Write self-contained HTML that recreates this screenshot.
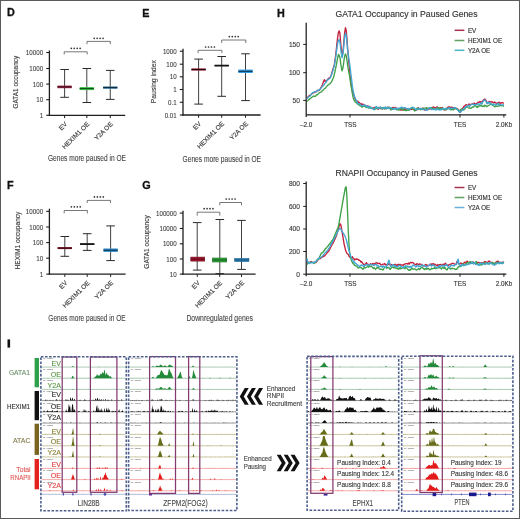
<!DOCTYPE html>
<html><head><meta charset="utf-8"><style>
html,body{margin:0;padding:0;background:#fff;}
body{width:520px;height:519px;overflow:hidden;}
svg{display:block;font-family:"Liberation Sans",sans-serif;filter:blur(0.3px);}
</style></head><body>
<svg width="520" height="519" viewBox="0 0 520 519">
<rect x="0" y="0" width="520" height="519" fill="#fff"/>
<text x="7.00" y="16.30" font-size="10.8" fill="#111" font-weight="bold" stroke="#111" stroke-width="0.3">D</text>
<text x="142.20" y="16.50" font-size="10.8" fill="#111" font-weight="bold" stroke="#111" stroke-width="0.3">E</text>
<text x="276.90" y="16.50" font-size="10.8" fill="#111" font-weight="bold" stroke="#111" stroke-width="0.3">H</text>
<text x="7.00" y="188.60" font-size="10.8" fill="#111" font-weight="bold" stroke="#111" stroke-width="0.3">F</text>
<text x="142.20" y="188.60" font-size="10.8" fill="#111" font-weight="bold" stroke="#111" stroke-width="0.3">G</text>
<rect x="7.50" y="339.40" width="2.60" height="8.20" fill="#111" />
<line x1="49.40" y1="50.50" x2="49.40" y2="115.90" stroke="#1e1e1e" stroke-width="1.3" />
<line x1="48.80" y1="115.30" x2="125.20" y2="115.30" stroke="#1e1e1e" stroke-width="1.3" />
<line x1="46.20" y1="52.50" x2="49.40" y2="52.50" stroke="#1e1e1e" stroke-width="1.1" />
<text x="43.10" y="55.00" font-size="6.6" fill="#3a3a3a" text-anchor="end" textLength="17.24" lengthAdjust="spacingAndGlyphs" stroke="#3a3a3a" stroke-width="0.08">10000</text>
<line x1="46.20" y1="68.50" x2="49.40" y2="68.50" stroke="#1e1e1e" stroke-width="1.1" />
<text x="43.10" y="71.00" font-size="6.6" fill="#3a3a3a" text-anchor="end" textLength="13.79" lengthAdjust="spacingAndGlyphs" stroke="#3a3a3a" stroke-width="0.08">1000</text>
<line x1="46.20" y1="84.10" x2="49.40" y2="84.10" stroke="#1e1e1e" stroke-width="1.1" />
<text x="43.10" y="86.60" font-size="6.6" fill="#3a3a3a" text-anchor="end" textLength="10.34" lengthAdjust="spacingAndGlyphs" stroke="#3a3a3a" stroke-width="0.08">100</text>
<line x1="46.20" y1="99.70" x2="49.40" y2="99.70" stroke="#1e1e1e" stroke-width="1.1" />
<text x="43.10" y="102.20" font-size="6.6" fill="#3a3a3a" text-anchor="end" textLength="6.89" lengthAdjust="spacingAndGlyphs" stroke="#3a3a3a" stroke-width="0.08">10</text>
<line x1="46.20" y1="115.30" x2="49.40" y2="115.30" stroke="#1e1e1e" stroke-width="1.1" />
<text x="43.10" y="117.80" font-size="6.6" fill="#3a3a3a" text-anchor="end" textLength="3.45" lengthAdjust="spacingAndGlyphs" stroke="#3a3a3a" stroke-width="0.08">1</text>
<line x1="64.60" y1="115.30" x2="64.60" y2="118.10" stroke="#1e1e1e" stroke-width="1" />
<line x1="86.80" y1="115.30" x2="86.80" y2="118.10" stroke="#1e1e1e" stroke-width="1" />
<line x1="110.25" y1="115.30" x2="110.25" y2="118.10" stroke="#1e1e1e" stroke-width="1" />
<text x="18.20" y="82.20" font-size="7.5" fill="#404040" text-anchor="middle" textLength="52.8" lengthAdjust="spacingAndGlyphs" transform="rotate(-90 18.20 82.20)"  stroke="#404040" stroke-width="0.14">GATA1 occupancy</text>
<line x1="64.60" y1="69.50" x2="64.60" y2="97.30" stroke="#2b2b2b" stroke-width="0.9" />
<line x1="60.30" y1="69.50" x2="68.90" y2="69.50" stroke="#2b2b2b" stroke-width="1.0" />
<line x1="60.30" y1="97.30" x2="68.90" y2="97.30" stroke="#2b2b2b" stroke-width="1.0" />
<rect x="57.45" y="85.60" width="14.30" height="2.60" fill="#9a2a48" />
<line x1="57.45" y1="86.90" x2="71.75" y2="86.90" stroke="#3a0a15" stroke-width="1.0" />
<line x1="86.80" y1="68.50" x2="86.80" y2="102.50" stroke="#2b2b2b" stroke-width="0.9" />
<line x1="82.50" y1="68.50" x2="91.10" y2="68.50" stroke="#2b2b2b" stroke-width="1.0" />
<line x1="82.50" y1="102.50" x2="91.10" y2="102.50" stroke="#2b2b2b" stroke-width="1.0" />
<rect x="79.65" y="87.10" width="14.30" height="3.00" fill="#3cbc4a" />
<line x1="79.65" y1="88.60" x2="93.95" y2="88.60" stroke="#0d4a12" stroke-width="1.0" />
<line x1="110.25" y1="70.40" x2="110.25" y2="99.40" stroke="#2b2b2b" stroke-width="0.9" />
<line x1="105.95" y1="70.40" x2="114.55" y2="70.40" stroke="#2b2b2b" stroke-width="1.0" />
<line x1="105.95" y1="99.40" x2="114.55" y2="99.40" stroke="#2b2b2b" stroke-width="1.0" />
<rect x="103.10" y="86.40" width="14.30" height="2.40" fill="#3b7fa6" />
<line x1="103.10" y1="87.60" x2="117.40" y2="87.60" stroke="#0c2533" stroke-width="1.0" />
<polyline points="64.20,54.40 64.20,51.80 87.20,51.80 87.20,54.40" fill="none" stroke="#555" stroke-width="0.8"/>
<circle cx="71.28" cy="48.30" r="0.85" fill="#333"/>
<circle cx="74.23" cy="48.30" r="0.85" fill="#333"/>
<circle cx="77.17" cy="48.30" r="0.85" fill="#333"/>
<circle cx="80.12" cy="48.30" r="0.85" fill="#333"/>
<polyline points="87.00,44.20 87.00,41.40 110.30,41.40 110.30,44.20" fill="none" stroke="#555" stroke-width="0.8"/>
<circle cx="94.23" cy="38.30" r="0.85" fill="#333"/>
<circle cx="97.18" cy="38.30" r="0.85" fill="#333"/>
<circle cx="100.12" cy="38.30" r="0.85" fill="#333"/>
<circle cx="103.08" cy="38.30" r="0.85" fill="#333"/>
<text x="67.60" y="124.50" font-size="6.5" fill="#3a3a3a" text-anchor="end" transform="rotate(-45 67.60 124.50)"  stroke="#3a3a3a" stroke-width="0.14">EV</text>
<text x="89.80" y="124.50" font-size="6.5" fill="#3a3a3a" text-anchor="end" transform="rotate(-45 89.80 124.50)"  stroke="#3a3a3a" stroke-width="0.14">HEXIM1 OE</text>
<text x="113.25" y="124.50" font-size="6.5" fill="#3a3a3a" text-anchor="end" transform="rotate(-45 113.25 124.50)"  stroke="#3a3a3a" stroke-width="0.14">Y2A OE</text>
<text x="48.00" y="161.30" font-size="9.2" fill="#454545" textLength="78.0" lengthAdjust="spacingAndGlyphs" stroke="#454545" stroke-width="0.12">Genes more paused in OE</text>
<line x1="183.00" y1="48.70" x2="183.00" y2="115.60" stroke="#1e1e1e" stroke-width="1.3" />
<line x1="182.40" y1="115.00" x2="260.60" y2="115.00" stroke="#1e1e1e" stroke-width="1.3" />
<line x1="179.80" y1="51.20" x2="183.00" y2="51.20" stroke="#1e1e1e" stroke-width="1.1" />
<text x="176.70" y="53.70" font-size="6.6" fill="#3a3a3a" text-anchor="end" textLength="13.79" lengthAdjust="spacingAndGlyphs" stroke="#3a3a3a" stroke-width="0.08">1000</text>
<line x1="179.80" y1="64.20" x2="183.00" y2="64.20" stroke="#1e1e1e" stroke-width="1.1" />
<text x="176.70" y="66.70" font-size="6.6" fill="#3a3a3a" text-anchor="end" textLength="10.34" lengthAdjust="spacingAndGlyphs" stroke="#3a3a3a" stroke-width="0.08">100</text>
<line x1="179.80" y1="76.80" x2="183.00" y2="76.80" stroke="#1e1e1e" stroke-width="1.1" />
<text x="176.70" y="79.30" font-size="6.6" fill="#3a3a3a" text-anchor="end" textLength="6.89" lengthAdjust="spacingAndGlyphs" stroke="#3a3a3a" stroke-width="0.08">10</text>
<line x1="179.80" y1="89.50" x2="183.00" y2="89.50" stroke="#1e1e1e" stroke-width="1.1" />
<text x="176.70" y="92.00" font-size="6.6" fill="#3a3a3a" text-anchor="end" textLength="3.45" lengthAdjust="spacingAndGlyphs" stroke="#3a3a3a" stroke-width="0.08">1</text>
<line x1="179.80" y1="102.30" x2="183.00" y2="102.30" stroke="#1e1e1e" stroke-width="1.1" />
<text x="176.70" y="104.80" font-size="6.6" fill="#3a3a3a" text-anchor="end" textLength="8.62" lengthAdjust="spacingAndGlyphs" stroke="#3a3a3a" stroke-width="0.08">0.1</text>
<line x1="179.80" y1="115.00" x2="183.00" y2="115.00" stroke="#1e1e1e" stroke-width="1.1" />
<text x="176.70" y="117.50" font-size="6.6" fill="#3a3a3a" text-anchor="end" textLength="12.07" lengthAdjust="spacingAndGlyphs" stroke="#3a3a3a" stroke-width="0.08">0.01</text>
<line x1="198.60" y1="115.00" x2="198.60" y2="117.80" stroke="#1e1e1e" stroke-width="1" />
<line x1="221.70" y1="115.00" x2="221.70" y2="117.80" stroke="#1e1e1e" stroke-width="1" />
<line x1="245.50" y1="115.00" x2="245.50" y2="117.80" stroke="#1e1e1e" stroke-width="1" />
<text x="155.80" y="81.70" font-size="7.5" fill="#404040" text-anchor="middle" textLength="43.3" lengthAdjust="spacingAndGlyphs" transform="rotate(-90 155.80 81.70)"  stroke="#404040" stroke-width="0.14">Pausing index</text>
<line x1="198.60" y1="59.10" x2="198.60" y2="104.10" stroke="#2b2b2b" stroke-width="0.9" />
<line x1="194.30" y1="59.10" x2="202.90" y2="59.10" stroke="#2b2b2b" stroke-width="1.0" />
<line x1="194.30" y1="104.10" x2="202.90" y2="104.10" stroke="#2b2b2b" stroke-width="1.0" />
<rect x="191.45" y="68.40" width="14.30" height="2.20" fill="#8a1a30" />
<line x1="191.45" y1="69.50" x2="205.75" y2="69.50" stroke="#2a0508" stroke-width="1.0" />
<line x1="221.70" y1="56.50" x2="221.70" y2="96.30" stroke="#2b2b2b" stroke-width="0.9" />
<line x1="217.40" y1="56.50" x2="226.00" y2="56.50" stroke="#2b2b2b" stroke-width="1.0" />
<line x1="217.40" y1="96.30" x2="226.00" y2="96.30" stroke="#2b2b2b" stroke-width="1.0" />
<rect x="214.55" y="64.70" width="14.30" height="1.80" fill="#222" />
<line x1="214.55" y1="65.60" x2="228.85" y2="65.60" stroke="#111" stroke-width="1.0" />
<line x1="245.50" y1="53.80" x2="245.50" y2="100.60" stroke="#2b2b2b" stroke-width="0.9" />
<line x1="241.20" y1="53.80" x2="249.80" y2="53.80" stroke="#2b2b2b" stroke-width="1.0" />
<line x1="241.20" y1="100.60" x2="249.80" y2="100.60" stroke="#2b2b2b" stroke-width="1.0" />
<rect x="238.35" y="69.60" width="14.30" height="3.40" fill="#2f9ae0" />
<line x1="238.35" y1="71.30" x2="252.65" y2="71.30" stroke="#0e2c44" stroke-width="1.0" />
<polyline points="198.10,53.00 198.10,50.30 221.90,50.30 221.90,53.00" fill="none" stroke="#555" stroke-width="0.8"/>
<circle cx="205.57" cy="47.00" r="0.85" fill="#333"/>
<circle cx="208.53" cy="47.00" r="0.85" fill="#333"/>
<circle cx="211.47" cy="47.00" r="0.85" fill="#333"/>
<circle cx="214.43" cy="47.00" r="0.85" fill="#333"/>
<polyline points="221.70,43.00 221.70,40.00 245.80,40.00 245.80,43.00" fill="none" stroke="#555" stroke-width="0.8"/>
<circle cx="229.32" cy="36.60" r="0.85" fill="#333"/>
<circle cx="232.28" cy="36.60" r="0.85" fill="#333"/>
<circle cx="235.22" cy="36.60" r="0.85" fill="#333"/>
<circle cx="238.18" cy="36.60" r="0.85" fill="#333"/>
<text x="201.60" y="124.20" font-size="6.5" fill="#3a3a3a" text-anchor="end" transform="rotate(-45 201.60 124.20)"  stroke="#3a3a3a" stroke-width="0.14">EV</text>
<text x="224.70" y="124.20" font-size="6.5" fill="#3a3a3a" text-anchor="end" transform="rotate(-45 224.70 124.20)"  stroke="#3a3a3a" stroke-width="0.14">HEXIM1 OE</text>
<text x="248.50" y="124.20" font-size="6.5" fill="#3a3a3a" text-anchor="end" transform="rotate(-45 248.50 124.20)"  stroke="#3a3a3a" stroke-width="0.14">Y2A OE</text>
<text x="182.60" y="161.60" font-size="9.2" fill="#454545" textLength="78.4" lengthAdjust="spacingAndGlyphs" stroke="#454545" stroke-width="0.12">Genes more paused in OE</text>
<line x1="49.40" y1="208.70" x2="49.40" y2="274.70" stroke="#1e1e1e" stroke-width="1.3" />
<line x1="48.80" y1="274.10" x2="125.60" y2="274.10" stroke="#1e1e1e" stroke-width="1.3" />
<line x1="46.20" y1="211.30" x2="49.40" y2="211.30" stroke="#1e1e1e" stroke-width="1.1" />
<text x="43.10" y="213.80" font-size="6.6" fill="#3a3a3a" text-anchor="end" textLength="17.24" lengthAdjust="spacingAndGlyphs" stroke="#3a3a3a" stroke-width="0.08">10000</text>
<line x1="46.20" y1="227.00" x2="49.40" y2="227.00" stroke="#1e1e1e" stroke-width="1.1" />
<text x="43.10" y="229.50" font-size="6.6" fill="#3a3a3a" text-anchor="end" textLength="13.79" lengthAdjust="spacingAndGlyphs" stroke="#3a3a3a" stroke-width="0.08">1000</text>
<line x1="46.20" y1="242.60" x2="49.40" y2="242.60" stroke="#1e1e1e" stroke-width="1.1" />
<text x="43.10" y="245.10" font-size="6.6" fill="#3a3a3a" text-anchor="end" textLength="10.34" lengthAdjust="spacingAndGlyphs" stroke="#3a3a3a" stroke-width="0.08">100</text>
<line x1="46.20" y1="258.20" x2="49.40" y2="258.20" stroke="#1e1e1e" stroke-width="1.1" />
<text x="43.10" y="260.70" font-size="6.6" fill="#3a3a3a" text-anchor="end" textLength="6.89" lengthAdjust="spacingAndGlyphs" stroke="#3a3a3a" stroke-width="0.08">10</text>
<line x1="46.20" y1="274.10" x2="49.40" y2="274.10" stroke="#1e1e1e" stroke-width="1.1" />
<text x="43.10" y="276.60" font-size="6.6" fill="#3a3a3a" text-anchor="end" textLength="3.45" lengthAdjust="spacingAndGlyphs" stroke="#3a3a3a" stroke-width="0.08">1</text>
<line x1="64.80" y1="274.10" x2="64.80" y2="276.90" stroke="#1e1e1e" stroke-width="1" />
<line x1="87.20" y1="274.10" x2="87.20" y2="276.90" stroke="#1e1e1e" stroke-width="1" />
<line x1="110.60" y1="274.10" x2="110.60" y2="276.90" stroke="#1e1e1e" stroke-width="1" />
<text x="19.50" y="240.50" font-size="7.5" fill="#404040" text-anchor="middle" textLength="57.8" lengthAdjust="spacingAndGlyphs" transform="rotate(-90 19.50 240.50)"  stroke="#404040" stroke-width="0.14">HEXIM1 occupancy</text>
<line x1="64.80" y1="236.50" x2="64.80" y2="256.30" stroke="#2b2b2b" stroke-width="0.9" />
<line x1="60.50" y1="236.50" x2="69.10" y2="236.50" stroke="#2b2b2b" stroke-width="1.0" />
<line x1="60.50" y1="256.30" x2="69.10" y2="256.30" stroke="#2b2b2b" stroke-width="1.0" />
<rect x="57.65" y="247.10" width="14.30" height="2.00" fill="#8a1a30" />
<line x1="57.65" y1="248.10" x2="71.95" y2="248.10" stroke="#2a0508" stroke-width="1.0" />
<line x1="87.20" y1="233.70" x2="87.20" y2="250.40" stroke="#2b2b2b" stroke-width="0.9" />
<line x1="82.90" y1="233.70" x2="91.50" y2="233.70" stroke="#2b2b2b" stroke-width="1.0" />
<line x1="82.90" y1="250.40" x2="91.50" y2="250.40" stroke="#2b2b2b" stroke-width="1.0" />
<rect x="80.05" y="243.20" width="14.30" height="1.80" fill="#222" />
<line x1="80.05" y1="244.10" x2="94.35" y2="244.10" stroke="#111" stroke-width="1.0" />
<line x1="110.60" y1="225.90" x2="110.60" y2="260.60" stroke="#2b2b2b" stroke-width="0.9" />
<line x1="106.30" y1="225.90" x2="114.90" y2="225.90" stroke="#2b2b2b" stroke-width="1.0" />
<line x1="106.30" y1="260.60" x2="114.90" y2="260.60" stroke="#2b2b2b" stroke-width="1.0" />
<rect x="103.45" y="248.50" width="14.30" height="3.40" fill="#2a8cc8" />
<line x1="103.45" y1="250.20" x2="117.75" y2="250.20" stroke="#0e2c44" stroke-width="1.0" />
<polyline points="64.20,213.40 64.20,210.50 87.40,210.50 87.40,213.40" fill="none" stroke="#555" stroke-width="0.8"/>
<circle cx="71.38" cy="206.80" r="0.85" fill="#333"/>
<circle cx="74.33" cy="206.80" r="0.85" fill="#333"/>
<circle cx="77.28" cy="206.80" r="0.85" fill="#333"/>
<circle cx="80.23" cy="206.80" r="0.85" fill="#333"/>
<polyline points="87.20,203.00 87.20,200.40 110.50,200.40 110.50,203.00" fill="none" stroke="#555" stroke-width="0.8"/>
<circle cx="94.42" cy="196.90" r="0.85" fill="#333"/>
<circle cx="97.38" cy="196.90" r="0.85" fill="#333"/>
<circle cx="100.32" cy="196.90" r="0.85" fill="#333"/>
<circle cx="103.27" cy="196.90" r="0.85" fill="#333"/>
<text x="67.80" y="283.30" font-size="6.5" fill="#3a3a3a" text-anchor="end" transform="rotate(-45 67.80 283.30)"  stroke="#3a3a3a" stroke-width="0.14">EV</text>
<text x="90.20" y="283.30" font-size="6.5" fill="#3a3a3a" text-anchor="end" transform="rotate(-45 90.20 283.30)"  stroke="#3a3a3a" stroke-width="0.14">HEXIM1 OE</text>
<text x="113.60" y="283.30" font-size="6.5" fill="#3a3a3a" text-anchor="end" transform="rotate(-45 113.60 283.30)"  stroke="#3a3a3a" stroke-width="0.14">Y2A OE</text>
<text x="48.30" y="320.50" font-size="9.2" fill="#454545" textLength="77.3" lengthAdjust="spacingAndGlyphs" stroke="#454545" stroke-width="0.12">Genes more paused in OE</text>
<line x1="183.00" y1="210.80" x2="183.00" y2="274.70" stroke="#1e1e1e" stroke-width="1.3" />
<line x1="182.40" y1="274.10" x2="255.60" y2="274.10" stroke="#1e1e1e" stroke-width="1.3" />
<line x1="179.80" y1="213.10" x2="183.00" y2="213.10" stroke="#1e1e1e" stroke-width="1.1" />
<text x="176.70" y="215.60" font-size="6.6" fill="#3a3a3a" text-anchor="end" textLength="20.68" lengthAdjust="spacingAndGlyphs" stroke="#3a3a3a" stroke-width="0.08">100000</text>
<line x1="179.80" y1="228.50" x2="183.00" y2="228.50" stroke="#1e1e1e" stroke-width="1.1" />
<text x="176.70" y="231.00" font-size="6.6" fill="#3a3a3a" text-anchor="end" textLength="17.24" lengthAdjust="spacingAndGlyphs" stroke="#3a3a3a" stroke-width="0.08">10000</text>
<line x1="179.80" y1="243.80" x2="183.00" y2="243.80" stroke="#1e1e1e" stroke-width="1.1" />
<text x="176.70" y="246.30" font-size="6.6" fill="#3a3a3a" text-anchor="end" textLength="13.79" lengthAdjust="spacingAndGlyphs" stroke="#3a3a3a" stroke-width="0.08">1000</text>
<line x1="179.80" y1="259.00" x2="183.00" y2="259.00" stroke="#1e1e1e" stroke-width="1.1" />
<text x="176.70" y="261.50" font-size="6.6" fill="#3a3a3a" text-anchor="end" textLength="10.34" lengthAdjust="spacingAndGlyphs" stroke="#3a3a3a" stroke-width="0.08">100</text>
<line x1="179.80" y1="274.10" x2="183.00" y2="274.10" stroke="#1e1e1e" stroke-width="1.1" />
<text x="176.70" y="276.60" font-size="6.6" fill="#3a3a3a" text-anchor="end" textLength="6.89" lengthAdjust="spacingAndGlyphs" stroke="#3a3a3a" stroke-width="0.08">10</text>
<line x1="197.30" y1="274.10" x2="197.30" y2="276.90" stroke="#1e1e1e" stroke-width="1" />
<line x1="219.70" y1="274.10" x2="219.70" y2="276.90" stroke="#1e1e1e" stroke-width="1" />
<line x1="241.50" y1="274.10" x2="241.50" y2="276.90" stroke="#1e1e1e" stroke-width="1" />
<text x="149.00" y="242.00" font-size="7.5" fill="#404040" text-anchor="middle" textLength="53.3" lengthAdjust="spacingAndGlyphs" transform="rotate(-90 149.00 242.00)"  stroke="#404040" stroke-width="0.14">GATA1 occupancy</text>
<line x1="197.20" y1="222.60" x2="197.20" y2="270.10" stroke="#2b2b2b" stroke-width="0.9" />
<line x1="192.90" y1="222.60" x2="201.50" y2="222.60" stroke="#2b2b2b" stroke-width="1.0" />
<line x1="192.90" y1="270.10" x2="201.50" y2="270.10" stroke="#2b2b2b" stroke-width="1.0" />
<rect x="190.80" y="257.10" width="13.90" height="4.00" fill="#a8142e" stroke="#6a1020" stroke-width="0.6"/>
<line x1="190.80" y1="259.10" x2="204.70" y2="259.10" stroke="#5a0a14" stroke-width="1.0" />
<line x1="219.80" y1="219.50" x2="219.80" y2="273.60" stroke="#2b2b2b" stroke-width="0.9" />
<line x1="215.50" y1="219.50" x2="224.10" y2="219.50" stroke="#2b2b2b" stroke-width="1.0" />
<line x1="215.50" y1="273.60" x2="224.10" y2="273.60" stroke="#2b2b2b" stroke-width="1.0" />
<rect x="212.50" y="258.00" width="14.20" height="4.00" fill="#34b040" stroke="#1a6a22" stroke-width="0.6"/>
<line x1="212.50" y1="260.00" x2="226.70" y2="260.00" stroke="#0d4a12" stroke-width="1.0" />
<line x1="241.50" y1="220.40" x2="241.50" y2="269.40" stroke="#2b2b2b" stroke-width="0.9" />
<line x1="237.20" y1="220.40" x2="245.80" y2="220.40" stroke="#2b2b2b" stroke-width="1.0" />
<line x1="237.20" y1="269.40" x2="245.80" y2="269.40" stroke="#2b2b2b" stroke-width="1.0" />
<rect x="234.70" y="258.50" width="14.20" height="3.00" fill="#2a96da" stroke="#1a5a80" stroke-width="0.6"/>
<line x1="234.70" y1="260.00" x2="248.90" y2="260.00" stroke="#0e3c5c" stroke-width="1.0" />
<polyline points="197.20,215.70 197.20,212.20 219.80,212.20 219.80,215.70" fill="none" stroke="#555" stroke-width="0.8"/>
<circle cx="204.07" cy="208.70" r="0.85" fill="#333"/>
<circle cx="207.03" cy="208.70" r="0.85" fill="#333"/>
<circle cx="209.97" cy="208.70" r="0.85" fill="#333"/>
<circle cx="212.93" cy="208.70" r="0.85" fill="#333"/>
<polyline points="219.80,205.30 219.80,202.50 241.50,202.50 241.50,205.30" fill="none" stroke="#555" stroke-width="0.8"/>
<circle cx="226.22" cy="199.00" r="0.85" fill="#333"/>
<circle cx="229.18" cy="199.00" r="0.85" fill="#333"/>
<circle cx="232.12" cy="199.00" r="0.85" fill="#333"/>
<circle cx="235.08" cy="199.00" r="0.85" fill="#333"/>
<text x="200.30" y="283.30" font-size="6.5" fill="#3a3a3a" text-anchor="end" transform="rotate(-45 200.30 283.30)"  stroke="#3a3a3a" stroke-width="0.14">EV</text>
<text x="222.70" y="283.30" font-size="6.5" fill="#3a3a3a" text-anchor="end" transform="rotate(-45 222.70 283.30)"  stroke="#3a3a3a" stroke-width="0.14">HEXIM1 OE</text>
<text x="244.50" y="283.30" font-size="6.5" fill="#3a3a3a" text-anchor="end" transform="rotate(-45 244.50 283.30)"  stroke="#3a3a3a" stroke-width="0.14">Y2A OE</text>
<text x="186.40" y="320.50" font-size="9.2" fill="#454545" textLength="66.6" lengthAdjust="spacingAndGlyphs" stroke="#454545" stroke-width="0.12">Downregulated genes</text>
<line x1="306.20" y1="22.70" x2="306.20" y2="116.90" stroke="#1e1e1e" stroke-width="1.25" />
<line x1="306.20" y1="114.90" x2="506.30" y2="114.90" stroke="#1e1e1e" stroke-width="1.25" />
<line x1="303.20" y1="44.40" x2="306.20" y2="44.40" stroke="#1e1e1e" stroke-width="1.0" />
<text x="299.90" y="46.70" font-size="6.6" fill="#3a3a3a" text-anchor="end"  stroke="#3a3a3a" stroke-width="0.14">150</text>
<line x1="303.20" y1="72.70" x2="306.20" y2="72.70" stroke="#1e1e1e" stroke-width="1.0" />
<text x="299.90" y="75.00" font-size="6.6" fill="#3a3a3a" text-anchor="end"  stroke="#3a3a3a" stroke-width="0.14">100</text>
<line x1="303.20" y1="100.40" x2="306.20" y2="100.40" stroke="#1e1e1e" stroke-width="1.0" />
<text x="299.90" y="102.70" font-size="6.6" fill="#3a3a3a" text-anchor="end"  stroke="#3a3a3a" stroke-width="0.14">50</text>
<line x1="350.00" y1="114.40" x2="350.00" y2="117.50" stroke="#1e1e1e" stroke-width="1.0" />
<line x1="460.00" y1="114.40" x2="460.00" y2="117.50" stroke="#1e1e1e" stroke-width="1.0" />
<line x1="503.90" y1="114.40" x2="503.90" y2="117.50" stroke="#1e1e1e" stroke-width="1.0" />
<text x="306.20" y="127.00" font-size="6.4" fill="#3a3a3a" text-anchor="middle"  stroke="#3a3a3a" stroke-width="0.14">–2.0</text>
<text x="350.40" y="127.00" font-size="6.4" fill="#3a3a3a" text-anchor="middle"  stroke="#3a3a3a" stroke-width="0.14">TSS</text>
<text x="460.00" y="127.00" font-size="6.4" fill="#3a3a3a" text-anchor="middle"  stroke="#3a3a3a" stroke-width="0.14">TES</text>
<text x="504.00" y="127.00" font-size="6.4" fill="#3a3a3a" text-anchor="middle"  stroke="#3a3a3a" stroke-width="0.14">2.0Kb</text>
<text x="335.50" y="17.20" font-size="8.8" fill="#333" textLength="142.0" lengthAdjust="spacingAndGlyphs"  stroke="#333" stroke-width="0.14">GATA1 Occupancy in Paused Genes</text>
<polyline points="307.00,98.42 307.70,97.41 308.40,96.53 309.10,95.54 309.80,95.37 310.50,94.94 311.20,94.49 311.90,93.85 312.60,93.00 313.30,93.04 314.00,92.53 314.70,92.44 315.40,92.18 316.10,91.75 316.80,90.85 317.50,90.40 318.20,90.61 318.90,90.29 319.60,90.09 320.30,88.78 321.00,87.47 321.70,86.30 322.40,84.69 323.10,82.87 323.80,80.77 324.50,79.74 325.20,81.51 325.90,81.01 326.60,80.77 327.30,79.90 328.00,78.97 328.70,78.26 329.40,77.83 330.10,77.26 330.80,76.03 331.50,74.37 332.20,71.75 332.90,69.14 333.60,67.17 334.30,64.89 335.00,60.15 335.70,55.01 336.40,48.80 337.10,41.80 337.80,36.41 338.50,32.23 339.20,30.85 339.90,33.20 340.60,41.75 341.30,49.54 342.00,56.31 342.70,53.31 343.40,47.42 344.10,38.37 344.80,31.52 345.50,27.60 346.20,30.40 346.90,38.13 347.60,48.32 348.30,56.16 349.00,64.00 349.70,71.06 350.40,78.11 351.10,83.15 351.80,87.86 352.50,92.06 353.20,93.79 353.90,95.86 354.60,97.28 355.30,99.49 356.00,100.74 356.70,101.00 357.40,101.14 358.10,101.35 358.80,102.91 359.50,102.62 360.20,103.62 360.90,103.65 361.60,104.93 362.30,104.00 363.00,104.32 363.70,104.35 364.40,105.55 365.10,105.50 365.80,105.64 366.50,105.72 367.20,106.30 367.90,105.92 368.60,106.56 369.30,107.10 370.00,107.75 370.70,107.09 371.40,107.96 372.10,108.28 372.80,108.77 373.50,107.86 374.20,107.51 374.90,107.34 375.60,108.33 376.30,108.08 377.00,108.15 377.70,108.74 378.40,109.30 379.10,107.53 379.80,108.35 380.50,108.47 381.20,108.63 381.90,108.04 382.60,108.80 383.30,108.44 384.00,108.46 384.70,107.49 385.40,108.68 386.10,108.71 386.80,108.40 387.50,107.22 388.20,107.49 388.90,107.76 389.60,107.51 390.30,108.18 391.00,109.15 391.70,108.75 392.40,107.65 393.10,107.38 393.80,108.25 394.50,107.87 395.20,107.31 395.90,108.25 396.60,108.12 397.30,108.56 398.00,109.07 398.70,109.30 399.40,109.62 400.10,109.52 400.80,110.11 401.50,109.71 402.20,110.13 402.90,108.96 403.60,108.60 404.30,109.65 405.00,108.65 405.70,109.29 406.40,109.07 407.10,108.78 407.80,109.08 408.50,109.36 409.20,109.22 409.90,109.77 410.60,108.56 411.30,109.44 412.00,108.46 412.70,109.16 413.40,109.40 414.10,109.37 414.80,110.11 415.50,110.36 416.20,110.02 416.90,109.64 417.60,108.50 418.30,107.57 419.00,109.03 419.70,108.87 420.40,109.62 421.10,108.62 421.80,109.04 422.50,108.07 423.20,108.22 423.90,109.19 424.60,110.02 425.30,110.00 426.00,108.66 426.70,109.37 427.40,109.09 428.10,109.15 428.80,109.23 429.50,108.30 430.20,108.98 430.90,108.31 431.60,108.01 432.30,107.25 433.00,107.67 433.70,107.06 434.40,107.71 435.10,107.81 435.80,107.76 436.50,107.26 437.20,106.82 437.90,108.22 438.60,109.00 439.30,108.62 440.00,107.79 440.70,107.90 441.40,108.46 442.10,107.39 442.80,108.16 443.50,109.07 444.20,109.69 444.90,110.11 445.60,108.88 446.30,109.46 447.00,108.51 447.70,107.62 448.40,106.81 449.10,106.72 449.80,107.49 450.50,107.53 451.20,107.11 451.90,107.10 452.60,108.00 453.30,107.54 454.00,108.65 454.70,108.89 455.40,107.73 456.10,108.31 456.80,109.20 457.50,108.74 458.20,109.38 458.90,111.08 459.60,112.28 460.30,112.17 461.00,111.15 461.70,108.95 462.40,108.94 463.10,107.54 463.80,106.49 464.50,106.60 465.20,105.24 465.90,104.72 466.60,104.98 467.30,105.52 468.00,105.31 468.70,104.13 469.40,104.09 470.10,104.68 470.80,104.54 471.50,104.12 472.20,104.37 472.90,103.60 473.60,104.34 474.30,103.09 475.00,103.68 475.70,104.17 476.40,103.39 477.10,103.49 477.80,102.29 478.50,102.36 479.20,102.30 479.90,101.56 480.60,102.39 481.30,101.73 482.00,101.49 482.70,101.23 483.40,99.68 484.10,100.48 484.80,98.91 485.50,100.41 486.20,100.49 486.90,102.40 487.60,103.24 488.30,102.67 489.00,101.39 489.70,102.01 490.40,101.87 491.10,101.49 491.80,102.01 492.50,101.83 493.20,102.92 493.90,102.69 494.60,101.94 495.30,102.44 496.00,103.04 496.70,103.82 497.40,102.95 498.10,103.09 498.80,102.30 499.50,102.31 500.20,103.78 500.90,103.03 501.60,102.65 502.30,102.77 503.00,102.92 503.70,103.43" fill="none" stroke="#c4203c" stroke-width="1.35" stroke-linejoin="round"/>
<polyline points="307.00,101.57 307.70,100.86 308.40,99.79 309.10,99.39 309.80,98.86 310.50,98.20 311.20,97.98 311.90,97.25 312.60,96.72 313.30,96.14 314.00,96.42 314.70,96.25 315.40,96.25 316.10,95.36 316.80,94.74 317.50,94.90 318.20,93.85 318.90,93.07 319.60,92.78 320.30,92.31 321.00,92.04 321.70,91.70 322.40,90.62 323.10,90.14 323.80,89.39 324.50,88.62 325.20,88.26 325.90,87.35 326.60,86.59 327.30,85.53 328.00,85.09 328.70,84.52 329.40,84.14 330.10,83.55 330.80,82.83 331.50,81.95 332.20,80.19 332.90,78.67 333.60,77.18 334.30,74.47 335.00,71.35 335.70,68.17 336.40,64.56 337.10,60.64 337.80,57.18 338.50,54.33 339.20,55.32 339.90,57.47 340.60,62.69 341.30,67.21 342.00,70.77 342.70,68.84 343.40,65.17 344.10,59.47 344.80,55.60 345.50,53.92 346.20,55.88 346.90,59.71 347.60,64.93 348.30,69.51 349.00,73.23 349.70,76.94 350.40,81.56 351.10,86.34 351.80,89.87 352.50,94.14 353.20,97.72 353.90,99.90 354.60,100.35 355.30,102.16 356.00,102.32 356.70,102.92 357.40,104.08 358.10,103.85 358.80,105.01 359.50,104.78 360.20,105.91 360.90,106.11 361.60,106.82 362.30,107.20 363.00,105.95 363.70,105.63 364.40,106.58 365.10,105.99 365.80,107.16 366.50,107.54 367.20,106.87 367.90,107.00 368.60,108.16 369.30,106.97 370.00,107.92 370.70,108.40 371.40,107.61 372.10,108.09 372.80,108.46 373.50,109.17 374.20,109.57 374.90,108.78 375.60,109.04 376.30,108.44 377.00,108.59 377.70,108.51 378.40,107.40 379.10,107.76 379.80,107.79 380.50,107.21 381.20,108.32 381.90,109.06 382.60,107.91 383.30,107.43 384.00,108.36 384.70,109.06 385.40,108.32 386.10,107.46 386.80,108.54 387.50,107.60 388.20,107.19 388.90,107.55 389.60,108.17 390.30,109.22 391.00,110.01 391.70,108.53 392.40,109.19 393.10,108.61 393.80,109.22 394.50,108.40 395.20,108.40 395.90,109.06 396.60,109.72 397.30,108.96 398.00,109.91 398.70,110.15 399.40,109.61 400.10,108.66 400.80,108.60 401.50,109.27 402.20,108.33 402.90,109.28 403.60,110.25 404.30,110.31 405.00,109.96 405.70,110.58 406.40,110.71 407.10,110.38 407.80,109.76 408.50,110.32 409.20,110.18 409.90,108.97 410.60,108.06 411.30,108.20 412.00,108.22 412.70,108.46 413.40,109.55 414.10,110.44 414.80,111.01 415.50,109.46 416.20,108.98 416.90,108.13 417.60,109.64 418.30,109.23 419.00,109.32 419.70,108.85 420.40,109.44 421.10,108.33 421.80,109.63 422.50,109.40 423.20,108.86 423.90,108.18 424.60,108.12 425.30,108.14 426.00,107.97 426.70,107.60 427.40,108.57 428.10,108.44 428.80,107.90 429.50,107.64 430.20,108.44 430.90,108.12 431.60,107.77 432.30,108.18 433.00,108.31 433.70,108.90 434.40,108.82 435.10,108.71 435.80,109.77 436.50,109.21 437.20,108.12 437.90,107.70 438.60,107.77 439.30,108.53 440.00,108.24 440.70,108.39 441.40,108.78 442.10,108.15 442.80,109.38 443.50,108.69 444.20,109.81 444.90,109.26 445.60,109.18 446.30,109.66 447.00,108.94 447.70,108.94 448.40,108.68 449.10,107.87 449.80,108.79 450.50,109.86 451.20,109.88 451.90,109.08 452.60,109.61 453.30,110.00 454.00,108.65 454.70,108.37 455.40,108.81 456.10,108.29 456.80,109.29 457.50,109.27 458.20,110.42 458.90,110.92 459.60,110.61 460.30,109.97 461.00,109.13 461.70,109.48 462.40,109.19 463.10,109.51 463.80,109.97 464.50,109.36 465.20,108.15 465.90,107.29 466.60,107.07 467.30,106.39 468.00,107.36 468.70,108.12 469.40,107.92 470.10,108.11 470.80,108.30 471.50,107.94 472.20,107.21 472.90,107.00 473.60,107.22 474.30,106.19 475.00,105.22 475.70,105.72 476.40,106.77 477.10,107.45 477.80,106.02 478.50,106.89 479.20,105.94 479.90,105.63 480.60,105.95 481.30,105.07 482.00,106.14 482.70,106.49 483.40,105.98 484.10,106.54 484.80,105.12 485.50,105.60 486.20,106.15 486.90,106.70 487.60,105.81 488.30,105.69 489.00,105.25 489.70,104.96 490.40,104.48 491.10,103.89 491.80,104.15 492.50,105.31 493.20,105.42 493.90,106.11 494.60,106.88 495.30,106.36 496.00,105.54 496.70,106.18 497.40,106.37 498.10,106.34 498.80,105.70 499.50,105.74 500.20,105.62 500.90,105.30 501.60,105.93 502.30,105.51 503.00,105.07 503.70,106.60" fill="none" stroke="#3fa048" stroke-width="1.35" stroke-linejoin="round"/>
<polyline points="307.00,98.75 307.70,97.78 308.40,96.88 309.10,96.59 309.80,96.24 310.50,95.32 311.20,94.57 311.90,93.23 312.60,92.67 313.30,92.35 314.00,92.08 314.70,91.69 315.40,91.89 316.10,91.57 316.80,91.46 317.50,90.45 318.20,90.59 318.90,89.70 319.60,89.81 320.30,88.88 321.00,88.22 321.70,87.42 322.40,86.15 323.10,85.94 323.80,85.44 324.50,83.89 325.20,83.05 325.90,82.66 326.60,81.13 327.30,79.92 328.00,79.75 328.70,79.04 329.40,78.77 330.10,78.17 330.80,76.47 331.50,74.81 332.20,72.41 332.90,70.74 333.60,68.11 334.30,65.98 335.00,61.90 335.70,57.49 336.40,52.40 337.10,46.80 337.80,42.80 338.50,40.00 339.20,39.70 339.90,41.88 340.60,47.76 341.30,53.11 342.00,57.74 342.70,55.35 343.40,50.47 344.10,42.33 344.80,36.31 345.50,33.10 346.20,35.25 346.90,41.49 347.60,49.63 348.30,54.85 349.00,60.08 349.70,64.00 350.40,69.49 351.10,75.95 351.80,81.17 352.50,86.91 353.20,90.86 353.90,93.99 354.60,96.84 355.30,98.02 356.00,100.15 356.70,100.95 357.40,102.85 358.10,103.39 358.80,103.77 359.50,103.58 360.20,104.90 360.90,105.02 361.60,105.67 362.30,106.02 363.00,105.93 363.70,104.98 364.40,105.56 365.10,105.01 365.80,106.49 366.50,105.76 367.20,106.54 367.90,107.43 368.60,106.83 369.30,106.17 370.00,107.75 370.70,108.20 371.40,107.45 372.10,107.95 372.80,108.42 373.50,109.21 374.20,109.63 374.90,108.66 375.60,107.31 376.30,106.48 377.00,107.05 377.70,108.42 378.40,108.62 379.10,107.76 379.80,107.17 380.50,107.23 381.20,108.15 381.90,108.08 382.60,108.15 383.30,107.89 384.00,108.52 384.70,107.45 385.40,106.94 386.10,108.20 386.80,108.69 387.50,107.75 388.20,108.47 388.90,107.50 389.60,107.84 390.30,107.67 391.00,107.56 391.70,108.55 392.40,109.00 393.10,109.35 393.80,108.66 394.50,108.23 395.20,109.18 395.90,108.16 396.60,108.55 397.30,109.17 398.00,109.15 398.70,107.98 399.40,108.19 400.10,108.18 400.80,107.55 401.50,107.08 402.20,107.23 402.90,108.06 403.60,108.19 404.30,107.61 405.00,107.51 405.70,107.89 406.40,108.62 407.10,109.02 407.80,108.48 408.50,108.53 409.20,109.72 409.90,108.97 410.60,108.11 411.30,107.82 412.00,107.44 412.70,107.19 413.40,107.84 414.10,107.69 414.80,108.48 415.50,109.56 416.20,109.66 416.90,109.82 417.60,108.59 418.30,108.38 419.00,108.57 419.70,108.52 420.40,109.54 421.10,109.27 421.80,108.75 422.50,109.09 423.20,109.60 423.90,109.56 424.60,109.71 425.30,109.03 426.00,109.77 426.70,110.32 427.40,110.18 428.10,109.27 428.80,108.59 429.50,108.39 430.20,107.68 430.90,108.46 431.60,109.64 432.30,109.36 433.00,109.29 433.70,109.81 434.40,109.07 435.10,109.32 435.80,109.69 436.50,109.71 437.20,108.41 437.90,109.62 438.60,109.59 439.30,109.74 440.00,109.99 440.70,109.66 441.40,109.91 442.10,108.58 442.80,108.66 443.50,108.30 444.20,109.22 444.90,109.13 445.60,108.77 446.30,108.05 447.00,108.88 447.70,108.94 448.40,108.13 449.10,107.69 449.80,108.71 450.50,108.67 451.20,108.16 451.90,108.64 452.60,108.34 453.30,108.17 454.00,107.42 454.70,107.86 455.40,108.00 456.10,108.96 456.80,108.83 457.50,109.72 458.20,110.08 458.90,110.97 459.60,111.85 460.30,112.39 461.00,111.74 461.70,110.36 462.40,110.06 463.10,110.27 463.80,108.62 464.50,108.58 465.20,107.01 465.90,106.63 466.60,106.84 467.30,105.86 468.00,105.13 468.70,105.82 469.40,106.57 470.10,105.83 470.80,104.87 471.50,104.70 472.20,104.13 472.90,104.50 473.60,104.25 474.30,104.79 475.00,104.75 475.70,104.72 476.40,104.63 477.10,104.48 477.80,103.46 478.50,104.19 479.20,104.52 479.90,104.57 480.60,103.04 481.30,103.04 482.00,103.99 482.70,102.31 483.40,100.96 484.10,99.99 484.80,100.14 485.50,100.33 486.20,102.03 486.90,103.80 487.60,102.87 488.30,102.29 489.00,103.27 489.70,102.43 490.40,103.75 491.10,103.94 491.80,104.68 492.50,104.83 493.20,104.98 493.90,103.92 494.60,104.20 495.30,104.62 496.00,104.91 496.70,104.84 497.40,103.66 498.10,103.54 498.80,104.75 499.50,104.34 500.20,104.52 500.90,104.91 501.60,105.09 502.30,105.03 503.00,104.79 503.70,105.37" fill="none" stroke="#41a8d4" stroke-width="1.35" stroke-linejoin="round"/>
<line x1="454.60" y1="30.30" x2="464.40" y2="30.30" stroke="#a83050" stroke-width="1.5" />
<text x="467.90" y="32.60" font-size="6.3" fill="#333"  stroke="#333" stroke-width="0.14">EV</text>
<line x1="454.60" y1="40.50" x2="464.40" y2="40.50" stroke="#62a062" stroke-width="1.5" />
<text x="467.90" y="42.80" font-size="6.3" fill="#333"  stroke="#333" stroke-width="0.14">HEXIM1 OE</text>
<line x1="454.60" y1="50.30" x2="464.40" y2="50.30" stroke="#4bb3c4" stroke-width="1.5" />
<text x="467.90" y="52.60" font-size="6.3" fill="#333"  stroke="#333" stroke-width="0.14">Y2A OE</text>
<line x1="306.20" y1="181.50" x2="306.20" y2="276.20" stroke="#1e1e1e" stroke-width="1.25" />
<line x1="306.20" y1="274.20" x2="506.30" y2="274.20" stroke="#1e1e1e" stroke-width="1.25" />
<line x1="303.20" y1="183.50" x2="306.20" y2="183.50" stroke="#1e1e1e" stroke-width="1.0" />
<text x="299.90" y="185.80" font-size="6.6" fill="#3a3a3a" text-anchor="end"  stroke="#3a3a3a" stroke-width="0.14">800</text>
<line x1="303.20" y1="206.40" x2="306.20" y2="206.40" stroke="#1e1e1e" stroke-width="1.0" />
<text x="299.90" y="208.70" font-size="6.6" fill="#3a3a3a" text-anchor="end"  stroke="#3a3a3a" stroke-width="0.14">600</text>
<line x1="303.20" y1="229.00" x2="306.20" y2="229.00" stroke="#1e1e1e" stroke-width="1.0" />
<text x="299.90" y="231.30" font-size="6.6" fill="#3a3a3a" text-anchor="end"  stroke="#3a3a3a" stroke-width="0.14">400</text>
<line x1="303.20" y1="251.50" x2="306.20" y2="251.50" stroke="#1e1e1e" stroke-width="1.0" />
<text x="299.90" y="253.80" font-size="6.6" fill="#3a3a3a" text-anchor="end"  stroke="#3a3a3a" stroke-width="0.14">200</text>
<line x1="303.20" y1="274.20" x2="306.20" y2="274.20" stroke="#1e1e1e" stroke-width="1.0" />
<text x="299.90" y="276.50" font-size="6.6" fill="#3a3a3a" text-anchor="end"  stroke="#3a3a3a" stroke-width="0.14">0</text>
<line x1="350.00" y1="273.70" x2="350.00" y2="276.80" stroke="#1e1e1e" stroke-width="1.0" />
<line x1="460.00" y1="273.70" x2="460.00" y2="276.80" stroke="#1e1e1e" stroke-width="1.0" />
<line x1="503.90" y1="273.70" x2="503.90" y2="276.80" stroke="#1e1e1e" stroke-width="1.0" />
<text x="306.20" y="286.30" font-size="6.4" fill="#3a3a3a" text-anchor="middle"  stroke="#3a3a3a" stroke-width="0.14">–2.0</text>
<text x="350.40" y="286.30" font-size="6.4" fill="#3a3a3a" text-anchor="middle"  stroke="#3a3a3a" stroke-width="0.14">TSS</text>
<text x="460.00" y="286.30" font-size="6.4" fill="#3a3a3a" text-anchor="middle"  stroke="#3a3a3a" stroke-width="0.14">TES</text>
<text x="504.00" y="286.30" font-size="6.4" fill="#3a3a3a" text-anchor="middle"  stroke="#3a3a3a" stroke-width="0.14">2.0Kb</text>
<text x="335.50" y="176.30" font-size="8.8" fill="#333" textLength="142.0" lengthAdjust="spacingAndGlyphs"  stroke="#333" stroke-width="0.14">RNAPII Occupancy in Paused Genes</text>
<polyline points="307.00,263.51 307.70,262.80 308.40,262.28 309.10,262.71 309.80,262.16 310.50,261.83 311.20,261.51 311.90,262.10 312.60,262.45 313.30,262.35 314.00,262.44 314.70,262.21 315.40,262.54 316.10,262.55 316.80,261.21 317.50,260.43 318.20,259.57 318.90,258.62 319.60,258.50 320.30,258.64 321.00,257.76 321.70,257.39 322.40,256.99 323.10,256.68 323.80,256.00 324.50,256.00 325.20,254.96 325.90,254.44 326.60,253.55 327.30,252.49 328.00,251.75 328.70,251.15 329.40,249.92 330.10,248.44 330.80,247.03 331.50,245.81 332.20,244.33 332.90,243.43 333.60,241.84 334.30,240.38 335.00,238.90 335.70,237.41 336.40,235.53 337.10,233.35 337.80,231.16 338.50,228.58 339.20,225.83 339.90,223.77 340.60,224.19 341.30,227.25 342.00,231.49 342.70,235.72 343.40,239.95 344.10,243.99 344.80,246.86 345.50,249.72 346.20,251.82 346.90,253.34 347.60,254.03 348.30,254.58 349.00,256.10 349.70,257.22 350.40,257.33 351.10,257.45 351.80,257.66 352.50,256.72 353.20,258.41 353.90,258.69 354.60,259.96 355.30,259.25 356.00,259.31 356.70,258.90 357.40,259.25 358.10,259.31 358.80,260.38 359.50,260.17 360.20,260.74 360.90,262.15 361.60,261.53 362.30,262.55 363.00,263.65 363.70,264.63 364.40,264.41 365.10,264.92 365.80,263.51 366.50,262.64 367.20,263.79 367.90,264.75 368.60,264.38 369.30,264.98 370.00,264.51 370.70,263.62 371.40,264.38 372.10,264.46 372.80,263.43 373.50,263.87 374.20,264.37 374.90,263.44 375.60,263.07 376.30,262.68 377.00,262.92 377.70,263.71 378.40,263.56 379.10,263.17 379.80,263.38 380.50,264.41 381.20,264.90 381.90,264.94 382.60,264.14 383.30,264.15 384.00,264.18 384.70,263.57 385.40,264.84 386.10,264.42 386.80,264.85 387.50,264.59 388.20,263.81 388.90,264.68 389.60,263.61 390.30,264.95 391.00,264.67 391.70,264.54 392.40,265.17 393.10,264.80 393.80,264.80 394.50,264.84 395.20,264.26 395.90,265.54 396.60,265.46 397.30,264.49 398.00,265.37 398.70,264.26 399.40,265.10 400.10,264.51 400.80,265.23 401.50,265.01 402.20,264.90 402.90,265.58 403.60,264.55 404.30,264.40 405.00,263.81 405.70,263.76 406.40,263.66 407.10,263.64 407.80,264.11 408.50,263.00 409.20,264.14 409.90,263.00 410.60,262.32 411.30,262.77 412.00,262.50 412.70,262.60 413.40,262.85 414.10,263.74 414.80,264.24 415.50,264.51 416.20,264.81 416.90,263.53 417.60,264.20 418.30,264.52 419.00,264.68 419.70,263.90 420.40,264.20 421.10,264.18 421.80,264.86 422.50,265.21 423.20,265.86 423.90,265.96 424.60,265.91 425.30,264.56 426.00,264.54 426.70,265.42 427.40,265.16 428.10,265.77 428.80,265.14 429.50,265.04 430.20,264.04 430.90,264.80 431.60,263.92 432.30,264.77 433.00,263.61 433.70,263.71 434.40,265.11 435.10,264.22 435.80,264.90 436.50,265.11 437.20,265.73 437.90,264.54 438.60,265.52 439.30,264.64 440.00,264.90 440.70,264.39 441.40,264.96 442.10,265.78 442.80,264.37 443.50,264.12 444.20,265.06 444.90,263.79 445.60,263.17 446.30,264.45 447.00,265.58 447.70,264.91 448.40,265.58 449.10,264.63 449.80,264.65 450.50,264.12 451.20,264.11 451.90,263.64 452.60,263.24 453.30,263.50 454.00,263.67 454.70,264.37 455.40,264.61 456.10,264.14 456.80,261.70 457.50,261.27 458.20,262.49 458.90,264.00 459.60,263.73 460.30,263.71 461.00,263.01 461.70,263.61 462.40,264.05 463.10,263.56 463.80,263.02 464.50,262.24 465.20,263.13 465.90,262.32 466.60,261.58 467.30,261.09 468.00,262.69 468.70,263.05 469.40,262.32 470.10,261.73 470.80,263.21 471.50,263.29 472.20,262.58 472.90,262.07 473.60,262.26 474.30,263.11 475.00,263.17 475.70,263.98 476.40,263.88 477.10,263.57 477.80,262.47 478.50,262.34 479.20,262.65 479.90,263.21 480.60,263.41 481.30,262.73 482.00,262.84 482.70,263.54 483.40,262.49 484.10,262.42 484.80,261.50 485.50,261.93 486.20,262.00 486.90,262.49 487.60,262.38 488.30,261.62 489.00,261.02 489.70,261.40 490.40,262.11 491.10,263.32 491.80,262.26 492.50,262.62 493.20,262.83 493.90,263.67 494.60,264.19 495.30,263.68 496.00,262.02 496.70,261.53 497.40,261.28 498.10,261.20 498.80,262.02 499.50,262.73 500.20,262.17 500.90,263.12 501.60,262.51 502.30,262.33 503.00,262.18 503.70,263.05" fill="none" stroke="#c4203c" stroke-width="1.35" stroke-linejoin="round"/>
<polyline points="307.00,264.60 307.70,263.81 308.40,263.23 309.10,262.89 309.80,262.81 310.50,262.30 311.20,262.10 311.90,262.34 312.60,262.53 313.30,262.98 314.00,263.54 314.70,262.76 315.40,261.78 316.10,261.51 316.80,260.27 317.50,259.90 318.20,259.41 318.90,258.90 319.60,256.77 320.30,255.28 321.00,253.74 321.70,252.94 322.40,252.76 323.10,251.94 323.80,250.90 324.50,250.38 325.20,248.85 325.90,248.27 326.60,247.85 327.30,246.53 328.00,246.21 328.70,244.79 329.40,244.15 330.10,243.30 330.80,242.44 331.50,241.32 332.20,240.55 332.90,239.82 333.60,237.95 334.30,236.35 335.00,234.66 335.70,232.97 336.40,231.30 337.10,229.64 337.80,227.99 338.50,226.01 339.20,222.04 339.90,218.07 340.60,214.10 341.30,210.13 342.00,206.16 342.70,202.19 343.40,198.22 344.10,194.30 344.80,190.69 345.50,187.07 346.20,186.95 346.90,197.09 347.60,213.30 348.30,231.56 349.00,244.05 349.70,253.25 350.40,256.59 351.10,259.68 351.80,261.27 352.50,262.56 353.20,263.85 353.90,263.94 354.60,265.39 355.30,265.60 356.00,266.05 356.70,266.06 357.40,267.14 358.10,267.89 358.80,268.02 359.50,266.87 360.20,267.53 360.90,267.35 361.60,267.93 362.30,268.77 363.00,269.39 363.70,268.09 364.40,267.43 365.10,267.97 365.80,267.57 366.50,267.35 367.20,266.72 367.90,266.21 368.60,267.17 369.30,266.42 370.00,266.05 370.70,266.67 371.40,266.39 372.10,267.11 372.80,267.81 373.50,268.53 374.20,267.55 374.90,268.58 375.60,269.41 376.30,268.25 377.00,267.63 377.70,267.93 378.40,267.31 379.10,268.72 379.80,269.11 380.50,269.27 381.20,269.07 381.90,269.52 382.60,270.02 383.30,269.71 384.00,268.25 384.70,267.19 385.40,267.09 386.10,267.64 386.80,268.49 387.50,267.39 388.20,267.72 388.90,267.46 389.60,268.89 390.30,269.33 391.00,268.18 391.70,267.59 392.40,267.04 393.10,267.35 393.80,267.93 394.50,267.93 395.20,267.32 395.90,268.19 396.60,268.20 397.30,268.79 398.00,268.03 398.70,269.29 399.40,268.52 400.10,267.45 400.80,268.92 401.50,268.51 402.20,268.16 402.90,267.47 403.60,267.67 404.30,268.53 405.00,268.71 405.70,267.57 406.40,267.01 407.10,268.42 407.80,269.36 408.50,269.92 409.20,270.42 409.90,269.76 410.60,270.07 411.30,268.60 412.00,268.20 412.70,269.17 413.40,268.81 414.10,269.09 414.80,268.87 415.50,269.36 416.20,269.78 416.90,269.99 417.60,269.68 418.30,268.74 419.00,268.54 419.70,269.57 420.40,268.67 421.10,267.76 421.80,267.44 422.50,267.20 423.20,268.84 423.90,268.78 424.60,269.65 425.30,268.59 426.00,269.28 426.70,268.48 427.40,269.03 428.10,268.36 428.80,268.82 429.50,269.71 430.20,269.46 430.90,269.48 431.60,268.15 432.30,268.73 433.00,268.60 433.70,268.42 434.40,267.40 435.10,268.71 435.80,268.36 436.50,268.36 437.20,267.84 437.90,267.00 438.60,267.98 439.30,267.69 440.00,267.90 440.70,267.95 441.40,269.10 442.10,268.09 442.80,267.11 443.50,267.93 444.20,268.51 444.90,267.32 445.60,268.61 446.30,269.46 447.00,269.97 447.70,268.59 448.40,267.89 449.10,268.17 449.80,267.95 450.50,269.16 451.20,268.45 451.90,268.47 452.60,268.30 453.30,268.48 454.00,268.55 454.70,268.97 455.40,269.62 456.10,269.12 456.80,269.23 457.50,268.25 458.20,267.26 458.90,266.48 459.60,266.42 460.30,266.69 461.00,266.31 461.70,265.65 462.40,264.93 463.10,263.78 463.80,265.02 464.50,264.80 465.20,264.59 465.90,263.89 466.60,263.02 467.30,262.69 468.00,262.78 468.70,262.47 469.40,262.43 470.10,261.94 470.80,262.11 471.50,262.26 472.20,263.35 472.90,262.49 473.60,263.19 474.30,263.09 475.00,262.57 475.70,261.95 476.40,261.54 477.10,263.52 477.80,264.03 478.50,264.35 479.20,264.36 479.90,264.94 480.60,264.33 481.30,265.03 482.00,264.93 482.70,263.41 483.40,262.94 484.10,263.29 484.80,264.29 485.50,262.96 486.20,262.72 486.90,263.70 487.60,263.98 488.30,263.45 489.00,263.03 489.70,263.72 490.40,262.54 491.10,263.23 491.80,263.78 492.50,262.74 493.20,263.67 493.90,263.00 494.60,263.67 495.30,263.15 496.00,263.54 496.70,263.52 497.40,262.22 498.10,262.49 498.80,262.69 499.50,262.39 500.20,262.91 500.90,263.36 501.60,263.09 502.30,263.12 503.00,263.26 503.70,261.54" fill="none" stroke="#3fa048" stroke-width="1.35" stroke-linejoin="round"/>
<polyline points="307.00,258.48 307.70,261.80 308.40,263.40 309.10,262.49 309.80,262.82 310.50,263.05 311.20,262.60 311.90,262.79 312.60,262.31 313.30,262.81 314.00,262.31 314.70,262.77 315.40,262.28 316.10,261.10 316.80,260.37 317.50,259.36 318.20,258.70 318.90,258.82 319.60,257.84 320.30,257.37 321.00,257.20 321.70,257.00 322.40,255.90 323.10,255.33 323.80,254.36 324.50,253.67 325.20,252.63 325.90,252.13 326.60,251.37 327.30,250.58 328.00,249.99 328.70,248.42 329.40,247.79 330.10,246.41 330.80,244.67 331.50,243.42 332.20,242.70 332.90,240.95 333.60,239.92 334.30,238.51 335.00,237.10 335.70,235.68 336.40,234.26 337.10,232.83 337.80,231.40 338.50,229.97 339.20,229.23 339.90,228.48 340.60,228.81 341.30,229.96 342.00,231.11 342.70,232.29 343.40,233.46 344.10,234.64 344.80,235.82 345.50,237.56 346.20,239.39 346.90,241.99 347.60,245.17 348.30,248.07 349.00,250.60 349.70,253.08 350.40,255.29 351.10,257.41 351.80,258.94 352.50,259.42 353.20,260.72 353.90,262.47 354.60,261.99 355.30,263.49 356.00,263.60 356.70,264.27 357.40,264.88 358.10,265.30 358.80,265.85 359.50,266.59 360.20,265.95 360.90,265.04 361.60,264.88 362.30,265.82 363.00,265.26 363.70,266.39 364.40,266.29 365.10,265.29 365.80,264.47 366.50,265.04 367.20,264.51 367.90,264.99 368.60,265.23 369.30,265.24 370.00,264.34 370.70,264.36 371.40,265.00 372.10,264.82 372.80,264.91 373.50,265.62 374.20,265.09 374.90,264.69 375.60,264.94 376.30,264.34 377.00,266.09 377.70,266.05 378.40,265.73 379.10,266.22 379.80,266.90 380.50,266.12 381.20,266.24 381.90,266.68 382.60,267.46 383.30,265.83 384.00,266.25 384.70,267.03 385.40,267.27 386.10,267.33 386.80,265.98 387.50,264.59 388.20,261.82 388.90,260.23 389.60,262.79 390.30,266.16 391.00,266.91 391.70,265.96 392.40,264.96 393.10,264.58 393.80,266.16 394.50,266.34 395.20,265.39 395.90,266.68 396.60,267.07 397.30,266.66 398.00,266.67 398.70,265.85 399.40,265.43 400.10,265.76 400.80,266.44 401.50,266.89 402.20,267.08 402.90,267.65 403.60,266.63 404.30,267.17 405.00,265.83 405.70,265.58 406.40,266.77 407.10,266.48 407.80,266.07 408.50,267.09 409.20,266.70 409.90,267.50 410.60,266.31 411.30,267.32 412.00,266.51 412.70,265.22 413.40,264.76 414.10,265.87 414.80,265.86 415.50,266.75 416.20,266.82 416.90,265.68 417.60,265.10 418.30,266.59 419.00,266.64 419.70,266.08 420.40,266.80 421.10,265.81 421.80,265.01 422.50,265.30 423.20,265.91 423.90,265.17 424.60,265.49 425.30,266.41 426.00,266.77 426.70,267.25 427.40,265.99 428.10,265.99 428.80,265.56 429.50,265.03 430.20,264.36 430.90,265.74 431.60,266.08 432.30,265.23 433.00,264.97 433.70,265.67 434.40,265.48 435.10,266.42 435.80,267.06 436.50,267.69 437.20,267.33 437.90,267.45 438.60,266.88 439.30,265.51 440.00,266.55 440.70,266.26 441.40,265.39 442.10,265.47 442.80,265.68 443.50,265.27 444.20,266.72 444.90,265.48 445.60,265.34 446.30,264.99 447.00,264.73 447.70,266.23 448.40,267.21 449.10,267.54 449.80,267.00 450.50,265.70 451.20,264.99 451.90,265.69 452.60,265.64 453.30,265.34 454.00,266.09 454.70,265.09 455.40,264.51 456.10,264.59 456.80,264.20 457.50,260.55 458.20,259.18 458.90,263.32 459.60,265.26 460.30,265.59 461.00,266.13 461.70,264.42 462.40,264.75 463.10,265.52 463.80,265.25 464.50,265.51 465.20,264.86 465.90,264.78 466.60,265.07 467.30,264.56 468.00,264.38 468.70,264.40 469.40,263.36 470.10,263.88 470.80,263.65 471.50,262.74 472.20,261.99 472.90,262.87 473.60,264.14 474.30,262.83 475.00,263.02 475.70,263.84 476.40,264.54 477.10,264.72 477.80,264.66 478.50,265.03 479.20,265.46 479.90,263.58 480.60,262.85 481.30,264.03 482.00,263.90 482.70,263.11 483.40,263.31 484.10,264.43 484.80,264.49 485.50,264.44 486.20,263.21 486.90,263.22 487.60,263.52 488.30,263.32 489.00,264.52 489.70,263.80 490.40,263.06 491.10,262.88 491.80,263.45 492.50,263.93 493.20,264.82 493.90,265.17 494.60,265.19 495.30,264.49 496.00,263.32 496.70,263.86 497.40,263.58 498.10,263.01 498.80,262.66 499.50,263.81 500.20,262.46 500.90,262.47 501.60,263.13 502.30,263.69 503.00,263.02 503.70,262.08" fill="none" stroke="#41a8d4" stroke-width="1.35" stroke-linejoin="round"/>
<line x1="454.60" y1="187.50" x2="464.40" y2="187.50" stroke="#a83050" stroke-width="1.5" />
<text x="467.90" y="189.80" font-size="6.3" fill="#333"  stroke="#333" stroke-width="0.14">EV</text>
<line x1="454.60" y1="197.50" x2="464.40" y2="197.50" stroke="#62a062" stroke-width="1.5" />
<text x="467.90" y="199.80" font-size="6.3" fill="#333"  stroke="#333" stroke-width="0.14">HEXIM1 OE</text>
<line x1="454.60" y1="207.50" x2="464.40" y2="207.50" stroke="#6ab0dc" stroke-width="1.5" />
<text x="467.90" y="209.80" font-size="6.3" fill="#333"  stroke="#333" stroke-width="0.14">Y2A OE</text>
<rect x="34.60" y="358.00" width="4.40" height="29.30" fill="#2ea04c" />
<rect x="34.60" y="391.00" width="4.40" height="29.20" fill="#111111" />
<rect x="34.60" y="423.70" width="4.40" height="31.20" fill="#7a6520" />
<rect x="34.60" y="459.00" width="4.40" height="30.30" fill="#e3211e" />
<text x="8.90" y="374.50" font-size="6.7" fill="#6a8e6a" textLength="21.0" lengthAdjust="spacingAndGlyphs" stroke="#6a8e6a" stroke-width="0.1">GATA1</text>
<text x="6.90" y="408.70" font-size="6.7" fill="#2e2e2e" textLength="23.2" lengthAdjust="spacingAndGlyphs" stroke="#2e2e2e" stroke-width="0.1">HEXIM1</text>
<text x="13.00" y="442.60" font-size="6.7" fill="#847a4a" textLength="17.5" lengthAdjust="spacingAndGlyphs" stroke="#847a4a" stroke-width="0.1">ATAC</text>
<text x="16.30" y="472.30" font-size="6.7" fill="#e05555" textLength="14.3" lengthAdjust="spacingAndGlyphs" stroke="#e05555" stroke-width="0.1">Total</text>
<text x="10.30" y="479.80" font-size="6.7" fill="#e05555" textLength="20.4" lengthAdjust="spacingAndGlyphs" stroke="#e05555" stroke-width="0.1">RNAPII</text>
<line x1="41.70" y1="367.10" x2="125.50" y2="367.10" stroke="#8fb59a" stroke-width="0.7" />
<text x="43.10" y="358.80" font-size="2.4" fill="#9a9a9a"  stroke="#9a9a9a" stroke-width="0.14">[0 - 1500]</text>
<path d="M42.7,367.1L43.0,366.9L43.2,367.1ZM43.8,367.1L44.0,367.0L44.3,367.1ZM45.2,367.1L45.4,366.9L45.7,367.1ZM45.9,367.1L46.1,366.8L46.4,367.1ZM47.3,367.1L47.5,366.9L47.8,367.1ZM48.7,367.1L48.9,367.0L49.2,367.1ZM50.8,367.1L51.0,366.9L51.3,367.1ZM51.5,367.1L51.7,366.9L52.0,367.1ZM52.9,367.1L53.1,367.0L53.4,367.1ZM54.3,367.1L54.5,366.9L54.9,366.8L55.1,367.1ZM56.7,367.1L57.0,366.9L57.2,367.1ZM61.3,367.1L61.5,366.9L61.8,367.1ZM62.3,367.1L62.6,366.9L62.8,367.1ZM65.5,367.1L65.7,366.9L66.0,367.1ZM69.3,367.1L69.5,366.9L69.8,367.1ZM70.7,367.1L70.9,366.9L71.2,367.1ZM71.4,367.1L71.6,366.8L72.0,366.6L72.3,366.2L72.7,366.1L73.0,366.2L73.4,366.6L73.7,366.8L74.0,367.1ZM74.2,367.1L74.4,366.9L74.7,367.1ZM77.3,367.1L77.6,366.9L77.8,367.1ZM78.0,367.1L78.3,367.0L78.5,367.1ZM78.7,367.1L79.0,366.9L79.2,367.1ZM79.4,367.1L79.7,366.9L79.9,367.1ZM81.9,367.1L82.1,366.9L82.4,367.1ZM82.6,367.1L82.8,366.9L83.1,367.1ZM84.3,367.1L84.6,367.0L84.8,367.1ZM86.4,367.1L86.7,366.9L87.0,366.9L87.3,367.1ZM95.2,367.1L95.4,367.0L95.7,367.1ZM98.0,367.1L98.2,366.9L98.6,366.7L98.9,366.6L99.3,366.7L99.6,366.8L100.0,367.0L100.3,366.9L100.6,367.1ZM102.2,367.1L102.4,366.9L102.7,367.1ZM103.9,367.1L104.2,366.8L104.5,366.8L104.8,367.1ZM106.4,367.1L106.6,366.9L106.9,367.1ZM107.1,367.1L107.3,366.8L107.6,367.1ZM107.8,367.1L108.0,366.9L108.3,367.1ZM109.5,367.1L109.8,366.9L110.0,367.1ZM112.3,367.1L112.6,366.9L112.8,367.1ZM113.0,367.1L113.3,366.9L113.5,367.1ZM113.7,367.1L114.0,366.9L114.2,367.1ZM115.5,367.1L115.7,367.0L116.0,367.1ZM116.2,367.1L116.4,366.9L116.8,367.0L117.1,367.0L117.5,366.8L117.7,367.1ZM118.6,367.1L118.9,367.0L119.1,367.1ZM119.7,367.1L119.9,366.9L120.2,367.1Z" fill="#238a3a" stroke="none"/>
<line x1="41.70" y1="378.20" x2="125.50" y2="378.20" stroke="#8fb59a" stroke-width="0.7" />
<text x="43.10" y="369.90" font-size="2.4" fill="#9a9a9a"  stroke="#9a9a9a" stroke-width="0.14">[0 - 1500]</text>
<path d="M41.6,378.2L41.9,377.9L42.1,378.2ZM42.4,378.2L42.6,378.1L42.9,378.2ZM45.2,378.2L45.4,378.1L45.7,378.2ZM45.9,378.2L46.1,377.9L46.4,378.2ZM48.0,378.2L48.2,378.1L48.5,378.2ZM49.7,378.2L50.0,378.1L50.2,378.2ZM51.5,378.2L51.7,377.9L52.0,378.2ZM54.6,378.2L54.9,378.0L55.1,378.2ZM57.4,378.2L57.7,378.0L57.9,378.2ZM62.7,378.2L62.9,378.0L63.2,378.2ZM64.4,378.2L64.7,378.0L64.9,378.2ZM65.8,378.2L66.1,378.0L66.3,378.2ZM66.5,378.2L66.8,378.0L67.0,378.2ZM69.3,378.2L69.5,377.9L69.8,378.2ZM70.0,378.2L70.2,378.0L70.5,378.2ZM71.0,378.2L71.3,378.0L71.6,377.6L72.0,376.8L72.3,376.1L72.7,375.7L73.0,376.1L73.4,376.8L73.7,377.6L74.1,378.0L74.3,378.2ZM74.5,378.2L74.8,377.9L75.0,378.2ZM75.6,378.2L75.8,378.0L76.1,378.2ZM77.0,378.2L77.2,378.0L77.5,378.2ZM78.4,378.2L78.6,378.1L78.9,378.2ZM80.5,378.2L80.7,378.0L81.0,378.2ZM81.5,378.2L81.8,378.0L82.1,378.0L82.4,378.2ZM82.9,378.2L83.2,377.9L83.4,378.2ZM84.0,378.2L84.2,378.0L84.5,378.2ZM85.0,378.2L85.3,378.0L85.5,378.2ZM86.4,378.2L86.7,377.9L87.0,377.9L87.3,378.2ZM88.5,378.2L88.8,378.0L89.0,378.2ZM89.6,378.2L89.8,377.9L90.1,378.2ZM93.1,378.2L93.3,378.1L93.7,377.9L94.0,377.9L94.4,377.6L94.7,377.2L95.1,376.8L95.4,376.6L95.8,376.5L96.1,376.1L96.5,375.4L96.8,374.6L97.2,374.2L97.5,374.7L97.9,375.5L98.2,375.8L98.6,375.6L98.9,375.3L99.3,375.4L99.6,375.6L100.0,375.2L100.3,374.2L100.7,373.3L101.0,373.4L101.4,374.1L101.7,374.2L102.1,373.2L102.4,372.1L102.8,372.2L103.1,373.2L103.5,373.5L103.8,372.2L104.2,370.2L104.5,369.6L104.9,371.0L105.2,373.5L105.6,375.0L105.9,374.7L106.3,373.4L106.6,372.4L107.0,372.9L107.3,374.2L107.7,375.2L108.0,375.3L108.4,375.1L108.7,375.3L109.1,376.0L109.4,376.6L109.8,376.6L110.1,376.3L110.5,376.2L110.8,376.4L111.2,377.0L111.5,377.5L111.9,377.9L112.1,378.2ZM112.7,378.2L112.9,378.0L113.2,378.2ZM113.7,378.2L114.0,378.0L114.2,378.2ZM117.9,378.2L118.2,378.0L118.4,378.2ZM121.4,378.2L121.7,377.9L121.9,378.2Z" fill="#238a3a" stroke="none"/>
<line x1="41.70" y1="389.40" x2="125.50" y2="389.40" stroke="#8fb59a" stroke-width="0.7" />
<text x="43.10" y="381.10" font-size="2.4" fill="#9a9a9a"  stroke="#9a9a9a" stroke-width="0.14">[0 - 1500]</text>
<path d="M43.8,389.4L44.0,389.3L44.3,389.4ZM51.1,389.4L51.4,389.2L51.6,389.4ZM54.3,389.4L54.5,389.2L54.8,389.4ZM60.6,389.4L60.8,389.2L61.2,389.2L61.5,389.2L61.8,389.4ZM64.8,389.4L65.0,389.2L65.3,389.4ZM65.8,389.4L66.1,389.3L66.4,389.3L66.7,389.4ZM69.6,389.4L69.9,389.3L70.2,389.2L70.6,389.3L70.8,389.4ZM71.7,389.4L72.0,389.2L72.3,389.1L72.7,389.0L73.0,389.1L73.4,389.2L73.6,389.4ZM77.0,389.4L77.2,389.3L77.5,389.4ZM79.4,389.4L79.7,389.2L80.0,389.3L80.3,389.4ZM81.5,389.4L81.8,389.3L82.0,389.4ZM86.4,389.4L86.7,389.3L86.9,389.4ZM88.2,389.4L88.4,389.3L88.8,389.2L89.0,389.4ZM93.4,389.4L93.7,389.2L93.9,389.4ZM94.1,389.4L94.4,389.3L94.6,389.4ZM98.0,389.4L98.2,389.2L98.5,389.4ZM100.4,389.4L100.7,389.2L100.9,389.4ZM101.8,389.4L102.1,389.3L102.3,389.4ZM111.6,389.4L111.9,389.3L112.1,389.4ZM114.8,389.4L115.0,389.2L115.3,389.4ZM121.1,389.4L121.3,389.3L121.6,389.4ZM122.5,389.4L122.7,389.3L123.0,389.4Z" fill="#238a3a" stroke="none"/>
<line x1="41.70" y1="400.60" x2="125.50" y2="400.60" stroke="#777777" stroke-width="0.7" />
<text x="43.10" y="392.30" font-size="2.4" fill="#9a9a9a"  stroke="#9a9a9a" stroke-width="0.14">[0 - 1500]</text>
<path d="M43.4,400.6L43.7,400.3L43.9,400.6ZM44.8,400.6L45.1,399.9L45.4,399.7L45.8,399.4L46.1,399.9L46.5,399.8L46.7,400.6ZM46.9,400.6L47.2,399.6L47.4,400.6ZM49.0,400.6L49.3,400.2L49.6,399.8L50.0,399.7L50.3,400.0L50.7,400.4L50.9,400.6ZM51.1,400.6L51.4,400.0L51.6,400.6ZM52.2,400.6L52.4,400.3L52.8,399.9L53.1,399.8L53.5,400.2L53.7,400.6ZM55.3,400.6L55.6,400.3L55.9,399.6L56.3,399.0L56.6,399.2L57.0,400.0L57.3,399.7L57.7,400.3L57.9,400.6ZM58.8,400.6L59.1,399.8L59.4,399.6L59.7,400.6ZM60.2,400.6L60.5,400.3L60.8,399.9L61.2,399.9L61.5,400.2L61.9,399.6L62.2,399.5L62.5,400.6ZM65.1,400.6L65.4,400.1L65.7,399.3L66.1,399.3L66.4,399.8L66.8,400.1L67.1,399.9L67.5,400.3L67.8,399.6L68.2,399.5L68.5,400.2L68.8,400.6ZM69.6,400.6L69.9,400.0L70.2,398.2L70.6,397.0L70.9,398.2L71.3,399.9L71.6,400.2L72.0,398.9L72.3,397.5L72.7,397.7L73.0,399.4L73.4,400.3L73.7,400.3L74.1,399.7L74.4,398.7L74.8,399.1L75.1,400.0L75.5,400.2L75.7,400.6ZM76.3,400.6L76.5,400.5L76.8,400.6ZM77.0,400.6L77.2,399.7L77.6,400.3L77.8,400.6ZM78.4,400.6L78.6,400.5L79.0,399.7L79.3,400.2L79.7,399.9L80.0,399.8L80.4,400.1L80.7,399.6L81.0,400.6ZM82.2,400.6L82.5,399.8L82.7,400.6ZM83.3,400.6L83.5,400.2L83.9,400.0L84.2,399.7L84.6,399.6L84.9,399.5L85.3,399.7L85.6,400.2L86.0,399.8L86.3,400.3L86.6,400.6ZM87.8,400.6L88.1,399.7L88.3,400.6ZM88.9,400.6L89.1,400.0L89.5,400.2L89.8,399.7L90.2,400.0L90.5,400.3L90.9,399.9L91.2,400.3L91.6,400.0L91.8,400.6ZM92.0,400.6L92.3,400.3L92.6,399.9L93.0,399.6L93.3,399.8L93.7,400.3L94.0,400.0L94.4,400.2L94.7,400.3L95.1,399.5L95.4,398.5L95.8,398.6L96.1,399.6L96.5,400.2L96.8,399.5L97.2,397.9L97.5,397.7L97.9,398.7L98.2,399.9L98.6,400.0L98.9,399.4L99.3,398.9L99.6,399.4L100.0,400.1L100.3,400.0L100.7,400.0L101.0,399.3L101.4,399.1L101.7,399.8L102.1,400.4L102.4,400.4L102.8,399.9L103.1,399.3L103.5,399.4L103.8,400.2L104.2,400.5L104.5,400.4L104.9,399.8L105.2,399.1L105.6,399.2L105.9,399.8L106.3,400.4L106.5,400.6ZM106.7,400.6L107.0,399.7L107.3,400.3L107.7,399.8L108.0,399.6L108.4,400.0L108.7,399.8L109.0,400.6ZM109.2,400.6L109.4,399.8L109.7,400.6ZM109.9,400.6L110.1,400.0L110.4,400.6ZM110.6,400.6L110.8,400.4L111.2,400.2L111.5,399.6L111.9,399.2L112.2,399.7L112.6,400.3L112.8,400.6ZM114.1,400.6L114.3,399.8L114.6,400.6ZM115.1,400.6L115.4,400.3L115.7,399.9L116.1,399.8L116.4,399.8L116.8,400.4L117.0,400.6ZM117.6,400.6L117.8,400.3L118.2,400.0L118.5,399.8L118.8,400.6ZM119.0,400.6L119.2,399.8L119.5,400.6ZM120.0,400.6L120.3,400.4L120.5,400.6ZM120.7,400.6L121.0,400.2L121.3,399.5L121.7,399.3L122.0,399.5L122.4,400.3L122.6,400.6Z" fill="#111111" stroke="none"/>
<line x1="41.70" y1="411.90" x2="125.50" y2="411.90" stroke="#777777" stroke-width="0.7" />
<text x="43.10" y="403.60" font-size="2.4" fill="#9a9a9a"  stroke="#9a9a9a" stroke-width="0.14">[0 - 1500]</text>
<path d="M41.6,411.9L41.9,411.4L42.1,411.9ZM43.1,411.9L43.3,411.6L43.7,411.1L44.0,410.5L44.4,410.7L44.7,411.5L45.0,411.9ZM45.2,411.9L45.4,411.5L45.7,411.9ZM46.2,411.9L46.5,411.8L46.8,411.1L47.2,410.5L47.5,410.3L47.9,410.7L48.2,411.6L48.6,410.7L48.8,411.9ZM49.0,411.9L49.3,411.7L49.6,411.3L50.0,410.9L50.3,411.0L50.7,411.5L50.9,411.9ZM51.1,411.9L51.4,411.1L51.7,411.2L52.1,410.2L52.4,410.1L52.8,410.9L53.1,411.1L53.4,411.9ZM53.9,411.9L54.2,411.2L54.5,411.4L54.9,410.9L55.2,411.1L55.6,411.4L55.9,411.8L56.3,411.0L56.6,411.3L57.0,410.6L57.3,410.4L57.7,410.6L58.0,411.6L58.3,411.9ZM59.2,411.9L59.4,411.7L59.8,411.4L60.0,411.9ZM60.6,411.9L60.8,410.9L61.2,411.8L61.5,411.4L61.9,411.2L62.2,411.2L62.6,411.6L62.8,411.9ZM63.4,411.9L63.6,410.6L63.9,411.9ZM65.1,411.9L65.4,411.4L65.7,410.8L66.1,409.1L66.4,410.0L66.8,411.5L67.1,411.6L67.5,411.6L67.8,411.6L68.2,410.0L68.5,405.9L68.9,403.7L69.2,407.0L69.5,407.6L69.9,404.5L70.2,406.6L70.6,410.5L70.9,411.8L71.3,411.7L71.6,410.0L72.0,405.8L72.3,403.8L72.7,404.5L73.0,404.5L73.4,408.4L73.7,411.0L74.1,410.2L74.4,408.9L74.8,409.8L75.1,410.6L75.5,411.7L75.7,411.9ZM77.7,411.9L77.9,410.8L78.3,411.6L78.6,411.2L79.0,411.0L79.3,411.0L79.7,411.6L79.9,411.9ZM81.9,411.9L82.1,411.4L82.4,411.9ZM82.6,411.9L82.8,410.8L83.1,411.9ZM83.3,411.9L83.5,411.1L83.9,409.2L84.2,409.0L84.6,410.8L84.9,411.7L85.3,411.3L85.6,410.2L86.0,410.1L86.3,411.3L86.6,411.9ZM87.1,411.9L87.4,411.5L87.6,411.9ZM88.2,411.9L88.4,410.8L88.8,411.1L89.1,411.1L89.5,411.5L89.7,411.9ZM89.9,411.9L90.2,411.2L90.4,411.9ZM91.0,411.9L91.2,411.6L91.5,411.9ZM93.1,411.9L93.3,410.7L93.7,410.5L94.0,410.4L94.4,411.3L94.6,411.9ZM95.2,411.9L95.4,410.9L95.8,411.0L96.1,408.5L96.5,406.5L96.8,405.9L97.2,404.8L97.5,408.1L97.9,411.0L98.2,410.6L98.6,407.8L98.9,407.5L99.3,410.2L99.6,411.3L100.0,410.0L100.3,409.2L100.7,410.7L101.0,411.4L101.4,410.1L101.7,408.0L102.1,409.2L102.4,411.3L102.8,411.1L103.0,411.9ZM103.6,411.9L103.8,410.8L104.2,408.5L104.5,408.2L104.9,410.5L105.2,411.7L105.6,411.6L105.9,411.2L106.3,408.8L106.6,407.4L107.0,409.6L107.3,411.2L107.7,409.9L108.0,407.5L108.4,408.8L108.7,410.7L109.1,410.0L109.4,409.2L109.8,410.5L110.1,411.7L110.4,411.9ZM110.9,411.9L111.2,411.6L111.5,410.7L111.8,411.9ZM112.0,411.9L112.2,411.6L112.6,410.7L112.9,410.9L113.3,411.1L113.6,411.6L114.0,411.2L114.2,411.9ZM114.4,411.9L114.7,411.7L115.0,410.6L115.4,411.6L115.7,411.1L116.1,411.0L116.4,411.4L116.8,411.8L117.0,411.9ZM118.3,411.9L118.5,410.8L118.9,410.1L119.2,409.3L119.6,410.7L119.9,411.7L120.2,411.9ZM121.1,411.9L121.3,410.8L121.7,411.8L122.0,411.1L122.4,410.0L122.7,410.7L123.1,411.6L123.3,411.9Z" fill="#111111" stroke="none"/>
<line x1="41.70" y1="423.10" x2="125.50" y2="423.10" stroke="#777777" stroke-width="0.7" />
<text x="43.10" y="414.80" font-size="2.4" fill="#9a9a9a"  stroke="#9a9a9a" stroke-width="0.14">[0 - 1500]</text>
<path d="M43.1,423.1L43.3,422.8L43.6,423.1ZM44.1,423.1L44.4,422.8L44.7,422.8L45.1,423.0L45.4,422.6L45.7,423.1ZM46.2,423.1L46.5,422.7L46.7,423.1ZM46.9,423.1L47.2,423.0L47.4,423.1ZM49.4,423.1L49.6,422.7L50.0,422.5L50.3,422.8L50.7,423.0L51.0,422.9L51.4,422.7L51.7,422.9L52.0,423.1ZM52.2,423.1L52.4,422.8L52.7,423.1ZM52.9,423.1L53.1,422.5L53.4,423.1ZM53.9,423.1L54.2,422.6L54.4,423.1ZM55.0,423.1L55.2,422.5L55.5,423.1ZM58.8,423.1L59.1,422.9L59.4,422.9L59.8,422.5L60.1,422.8L60.5,422.9L60.7,423.1ZM61.6,423.1L61.9,422.5L62.1,423.1ZM63.7,423.1L64.0,422.6L64.3,422.8L64.6,423.1ZM65.8,423.1L66.1,422.8L66.4,422.6L66.8,422.8L67.0,423.1ZM68.6,423.1L68.9,422.9L69.1,423.1ZM70.0,423.1L70.2,422.9L70.6,422.6L70.9,422.3L71.3,422.6L71.6,422.9L71.9,423.1ZM73.1,423.1L73.4,422.8L73.6,423.1ZM75.6,423.1L75.8,422.7L76.1,423.1ZM77.0,423.1L77.2,422.7L77.5,423.1ZM79.4,423.1L79.7,422.8L80.0,422.6L80.4,422.8L80.6,423.1ZM85.4,423.1L85.6,422.8L85.9,423.1ZM88.2,423.1L88.4,422.9L88.8,422.9L89.0,423.1ZM89.6,423.1L89.8,422.7L90.1,423.1ZM90.3,423.1L90.5,422.8L90.8,423.1ZM92.0,423.1L92.3,422.7L92.5,423.1ZM94.1,423.1L94.4,422.8L94.6,423.1ZM94.8,423.1L95.1,422.7L95.3,423.1ZM95.9,423.1L96.1,422.9L96.5,422.7L96.8,422.3L97.2,422.1L97.5,422.2L97.9,422.6L98.2,423.0L98.5,423.1ZM99.0,423.1L99.3,422.8L99.5,423.1ZM100.1,423.1L100.3,422.6L100.7,422.7L101.0,422.5L101.4,422.7L101.7,422.9L102.0,423.1ZM102.2,423.1L102.4,422.7L102.7,423.1ZM103.9,423.1L104.2,422.8L104.5,422.9L104.9,422.7L105.2,422.3L105.6,422.4L105.9,422.8L106.2,423.1ZM107.1,423.1L107.3,422.6L107.6,423.1ZM109.9,423.1L110.1,422.6L110.5,422.6L110.7,423.1ZM110.9,423.1L111.2,422.6L111.5,422.8L111.9,422.6L112.2,422.7L112.6,422.9L112.8,423.1ZM113.0,423.1L113.3,423.0L113.5,423.1ZM114.1,423.1L114.3,422.7L114.6,423.1ZM115.1,423.1L115.4,422.6L115.7,422.7L116.0,423.1ZM116.2,423.1L116.4,422.9L116.7,423.1ZM116.9,423.1L117.1,422.7L117.5,422.7L117.8,422.7L118.2,422.7L118.5,422.8L118.8,423.1ZM119.7,423.1L119.9,422.7L120.2,423.1ZM120.7,423.1L121.0,422.7L121.3,422.7L121.6,423.1ZM122.8,423.1L123.1,422.6L123.3,423.1ZM123.5,423.1L123.8,422.9L124.0,423.1ZM124.2,423.1L124.5,422.7L124.8,422.7L125.1,423.1Z" fill="#111111" stroke="none"/>
<line x1="41.70" y1="434.40" x2="125.50" y2="434.40" stroke="#b8b07a" stroke-width="0.7" />
<text x="43.10" y="426.10" font-size="2.4" fill="#9a9a9a"  stroke="#9a9a9a" stroke-width="0.14">[0 - 1500]</text>
<path d="M44.8,434.4L45.1,434.2L45.3,434.4ZM46.6,434.4L46.8,434.3L47.1,434.4ZM47.3,434.4L47.5,434.2L47.8,434.4ZM50.4,434.4L50.7,434.2L50.9,434.4ZM51.1,434.4L51.4,434.2L51.6,434.4ZM55.0,434.4L55.2,434.3L55.6,434.2L55.8,434.4ZM56.0,434.4L56.3,434.2L56.5,434.4ZM58.1,434.4L58.4,434.2L58.6,434.4ZM60.2,434.4L60.5,434.2L60.7,434.4ZM62.0,434.4L62.2,434.2L62.5,434.4ZM65.8,434.4L66.1,434.2L66.4,434.3L66.7,434.4ZM67.2,434.4L67.5,434.3L67.7,434.4ZM70.7,434.4L70.9,434.2L71.3,434.2L71.6,433.9L72.0,432.9L72.3,431.7L72.7,429.8L73.0,427.7L73.4,429.8L73.7,433.2L74.1,434.3L74.3,434.4ZM75.6,434.4L75.8,434.2L76.1,434.4ZM80.1,434.4L80.4,434.2L80.6,434.4ZM80.8,434.4L81.1,434.2L81.3,434.4ZM83.3,434.4L83.5,434.2L83.9,434.2L84.1,434.4ZM86.1,434.4L86.3,434.2L86.6,434.4ZM87.8,434.4L88.1,434.2L88.4,434.2L88.7,434.4ZM88.9,434.4L89.1,434.2L89.5,434.2L89.8,434.2L90.1,434.4ZM92.7,434.4L93.0,434.2L93.2,434.4ZM94.8,434.4L95.1,434.3L95.3,434.4ZM96.6,434.4L96.8,434.3L97.1,434.4ZM97.3,434.4L97.5,434.3L97.8,434.4ZM99.0,434.4L99.3,434.2L99.6,433.9L100.0,433.8L100.3,433.9L100.7,434.2L100.9,434.4ZM105.3,434.4L105.6,434.2L105.8,434.4ZM106.7,434.4L107.0,434.2L107.2,434.4ZM107.4,434.4L107.7,434.3L107.9,434.4ZM108.1,434.4L108.4,434.3L108.6,434.4ZM109.9,434.4L110.1,434.2L110.4,434.4ZM110.9,434.4L111.2,434.2L111.4,434.4ZM113.0,434.4L113.3,434.2L113.5,434.4ZM114.1,434.4L114.3,434.3L114.7,434.2L114.9,434.4ZM116.5,434.4L116.8,434.3L117.0,434.4ZM117.2,434.4L117.5,434.2L117.8,434.2L118.1,434.4ZM119.7,434.4L119.9,434.2L120.3,434.3L120.5,434.4ZM121.1,434.4L121.3,434.2L121.6,434.4Z" fill="#666c1a" stroke="none"/>
<line x1="41.70" y1="445.80" x2="125.50" y2="445.80" stroke="#b8b07a" stroke-width="0.7" />
<text x="43.10" y="437.50" font-size="2.4" fill="#9a9a9a"  stroke="#9a9a9a" stroke-width="0.14">[0 - 1500]</text>
<path d="M42.4,445.8L42.6,445.7L42.9,445.8ZM43.1,445.8L43.3,445.7L43.6,445.8ZM46.9,445.8L47.2,445.6L47.4,445.8ZM48.3,445.8L48.6,445.7L48.8,445.8ZM50.1,445.8L50.3,445.6L50.6,445.8ZM50.8,445.8L51.0,445.7L51.3,445.8ZM51.5,445.8L51.7,445.6L52.0,445.8ZM52.2,445.8L52.4,445.7L52.7,445.8ZM53.6,445.8L53.8,445.6L54.1,445.8ZM54.6,445.8L54.9,445.7L55.2,445.6L55.5,445.8ZM56.4,445.8L56.6,445.6L56.9,445.8ZM59.2,445.8L59.4,445.6L59.7,445.8ZM62.0,445.8L62.2,445.6L62.5,445.8ZM71.0,445.8L71.3,445.6L71.6,445.1L72.0,443.5L72.3,441.8L72.7,438.8L73.0,436.0L73.4,437.8L73.7,441.6L74.1,443.4L74.4,444.9L74.8,445.6L75.0,445.8ZM75.2,445.8L75.5,445.6L75.7,445.8ZM76.6,445.8L76.9,445.6L77.1,445.8ZM80.1,445.8L80.4,445.7L80.7,445.7L81.0,445.8ZM82.2,445.8L82.5,445.6L82.7,445.8ZM85.7,445.8L86.0,445.7L86.2,445.8ZM92.4,445.8L92.6,445.6L92.9,445.8ZM94.1,445.8L94.4,445.6L94.7,445.6L95.0,445.8ZM96.9,445.8L97.2,445.6L97.4,445.8ZM97.6,445.8L97.9,445.6L98.1,445.8ZM99.0,445.8L99.3,445.5L99.6,445.2L100.0,445.0L100.3,445.2L100.7,445.5L100.9,445.8ZM103.6,445.8L103.8,445.6L104.1,445.8ZM109.2,445.8L109.4,445.7L109.7,445.8ZM110.2,445.8L110.5,445.7L110.7,445.8ZM116.9,445.8L117.1,445.7L117.4,445.8ZM119.0,445.8L119.2,445.6L119.5,445.8ZM120.0,445.8L120.3,445.6L120.5,445.8ZM120.7,445.8L121.0,445.6L121.2,445.8ZM121.4,445.8L121.7,445.6L121.9,445.8ZM124.2,445.8L124.5,445.6L124.8,445.7L125.1,445.8Z" fill="#666c1a" stroke="none"/>
<line x1="41.70" y1="457.00" x2="125.50" y2="457.00" stroke="#b8b07a" stroke-width="0.7" />
<text x="43.10" y="448.70" font-size="2.4" fill="#9a9a9a"  stroke="#9a9a9a" stroke-width="0.14">[0 - 1500]</text>
<path d="M41.6,457.0L41.9,456.8L42.2,456.8L42.5,457.0ZM43.1,457.0L43.3,456.8L43.6,457.0ZM44.5,457.0L44.7,456.8L45.0,457.0ZM47.3,457.0L47.5,456.8L47.8,457.0ZM48.3,457.0L48.6,456.8L48.8,457.0ZM51.1,457.0L51.4,456.8L51.6,457.0ZM53.2,457.0L53.5,456.8L53.8,456.8L54.1,457.0ZM56.4,457.0L56.6,456.8L56.9,457.0ZM59.9,457.0L60.1,456.8L60.4,457.0ZM60.6,457.0L60.8,456.8L61.1,457.0ZM68.6,457.0L68.9,456.8L69.2,456.8L69.5,456.8L69.8,457.0ZM70.7,457.0L70.9,456.8L71.2,457.0ZM71.4,457.0L71.6,456.5L72.0,455.5L72.3,454.3L72.7,452.4L73.0,450.3L73.4,452.4L73.7,455.8L74.1,456.9L74.3,457.0ZM76.3,457.0L76.5,456.8L76.8,457.0ZM78.0,457.0L78.3,456.8L78.5,457.0ZM80.8,457.0L81.1,456.8L81.3,457.0ZM86.1,457.0L86.3,456.8L86.6,457.0ZM93.1,457.0L93.3,456.8L93.6,457.0ZM94.5,457.0L94.7,456.8L95.0,457.0ZM96.6,457.0L96.8,456.8L97.1,457.0ZM99.0,457.0L99.3,456.8L99.6,456.7L100.0,456.6L100.3,456.7L100.7,456.8L101.0,456.8L101.3,457.0ZM102.9,457.0L103.1,456.8L103.4,457.0ZM107.8,457.0L108.0,456.9L108.4,456.8L108.6,457.0ZM112.7,457.0L112.9,456.8L113.2,457.0ZM115.8,457.0L116.1,456.8L116.4,456.8L116.7,457.0ZM121.1,457.0L121.3,456.8L121.6,457.0ZM121.8,457.0L122.0,456.8L122.3,457.0Z" fill="#666c1a" stroke="none"/>
<line x1="41.70" y1="468.40" x2="125.50" y2="468.40" stroke="#f08a8a" stroke-width="0.7" />
<text x="43.10" y="460.10" font-size="2.4" fill="#9a9a9a"  stroke="#9a9a9a" stroke-width="0.14">[0 - 1500]</text>
<path d="M42.0,468.4L42.2,468.2L42.6,468.3L43.0,468.3L43.2,468.4ZM48.0,468.4L48.2,468.2L48.6,468.2L48.8,468.4ZM50.1,468.4L50.3,468.3L50.7,468.3L50.9,468.4ZM53.2,468.4L53.5,468.3L53.8,468.2L54.1,468.4ZM55.7,468.4L55.9,468.2L56.2,468.4ZM59.5,468.4L59.8,468.2L60.0,468.4ZM60.6,468.4L60.8,468.2L61.2,468.2L61.5,468.2L61.8,468.4ZM62.3,468.4L62.6,468.2L62.9,468.2L63.2,468.4ZM64.4,468.4L64.7,468.2L65.0,468.2L65.4,468.2L65.6,468.4ZM67.2,468.4L67.5,468.3L67.7,468.4ZM69.6,468.4L69.9,468.2L70.1,468.4ZM71.0,468.4L71.3,468.2L71.6,468.2L72.0,468.1L72.3,467.7L72.7,467.4L73.0,467.7L73.4,468.1L73.6,468.4ZM74.2,468.4L74.4,468.2L74.7,468.4ZM75.9,468.4L76.2,468.2L76.5,468.2L76.8,468.4ZM77.0,468.4L77.2,468.2L77.5,468.4ZM78.0,468.4L78.3,468.2L78.5,468.4ZM78.7,468.4L79.0,468.2L79.2,468.4ZM79.8,468.4L80.0,468.3L80.3,468.4ZM82.9,468.4L83.2,468.2L83.5,468.2L83.8,468.4ZM85.7,468.4L86.0,468.2L86.2,468.4ZM96.2,468.4L96.5,468.1L96.8,467.7L97.2,467.4L97.5,467.7L97.9,468.1L98.2,468.2L98.6,468.3L98.9,467.9L99.3,467.3L99.6,467.2L100.0,467.6L100.3,468.1L100.6,468.4ZM101.1,468.4L101.4,468.2L101.7,468.2L102.1,468.2L102.4,467.8L102.8,467.6L103.1,467.7L103.5,468.1L103.7,468.4ZM104.3,468.4L104.5,468.2L104.9,467.7L105.2,467.1L105.6,467.2L105.9,467.7L106.3,468.1L106.6,468.0L107.0,467.6L107.3,467.4L107.7,467.7L108.0,468.2L108.3,468.4ZM110.9,468.4L111.2,468.2L111.4,468.4ZM114.8,468.4L115.0,468.2L115.3,468.4ZM117.9,468.4L118.2,468.3L118.4,468.4ZM119.3,468.4L119.6,468.2L119.8,468.4ZM120.0,468.4L120.3,468.2L120.5,468.4ZM122.1,468.4L122.4,468.3L122.6,468.4ZM124.9,468.4L125.2,468.3L125.4,468.4Z" fill="#e41a1a" stroke="none"/>
<line x1="41.70" y1="479.60" x2="125.50" y2="479.60" stroke="#f08a8a" stroke-width="0.7" />
<text x="43.10" y="471.30" font-size="2.4" fill="#9a9a9a"  stroke="#9a9a9a" stroke-width="0.14">[0 - 1500]</text>
<path d="M42.4,479.6L42.6,479.4L42.9,479.6ZM43.1,479.6L43.3,479.5L43.6,479.6ZM44.1,479.6L44.4,479.4L44.6,479.6ZM44.8,479.6L45.1,479.4L45.3,479.6ZM45.9,479.6L46.1,479.4L46.4,479.6ZM47.3,479.6L47.5,479.4L47.8,479.6ZM48.0,479.6L48.2,479.5L48.5,479.6ZM48.7,479.6L48.9,479.5L49.2,479.6ZM49.7,479.6L50.0,479.5L50.2,479.6ZM55.0,479.6L55.2,479.4L55.5,479.6ZM59.5,479.6L59.8,479.5L60.0,479.6ZM62.7,479.6L62.9,479.5L63.2,479.6ZM66.9,479.6L67.1,479.4L67.4,479.6ZM70.0,479.6L70.2,479.4L70.5,479.6ZM71.0,479.6L71.3,479.0L71.6,477.6L72.0,476.8L72.3,476.1L72.7,474.7L73.0,473.7L73.4,475.6L73.7,476.3L74.1,476.9L74.4,478.3L74.8,479.3L75.0,479.6ZM78.7,479.6L79.0,479.4L79.2,479.6ZM79.8,479.6L80.0,479.4L80.3,479.6ZM83.3,479.6L83.5,479.4L83.8,479.6ZM84.0,479.6L84.2,479.3L84.6,478.9L84.9,478.7L85.3,479.0L85.6,479.4L85.9,479.6ZM86.4,479.6L86.7,479.5L86.9,479.6ZM92.0,479.6L92.3,479.4L92.5,479.6ZM93.8,479.6L94.0,479.3L94.4,478.7L94.7,478.3L95.1,478.9L95.4,479.4L95.8,479.1L96.1,478.3L96.5,477.7L96.8,478.7L97.2,479.2L97.5,478.6L97.9,477.7L98.2,478.0L98.6,478.9L98.8,479.6ZM99.4,479.6L99.6,479.4L100.0,478.4L100.3,476.8L100.7,476.8L101.0,478.6L101.4,479.4L101.6,479.6ZM101.8,479.6L102.1,479.3L102.4,478.3L102.8,477.0L103.1,477.4L103.5,478.2L103.8,476.5L104.2,474.7L104.5,475.3L104.9,474.7L105.2,472.4L105.6,472.5L105.9,474.7L106.3,474.8L106.6,475.4L107.0,477.6L107.3,478.1L107.7,477.1L108.0,477.5L108.4,478.9L108.6,479.6ZM109.5,479.6L109.8,479.4L110.0,479.6ZM110.2,479.6L110.5,479.4L110.7,479.6ZM114.1,479.6L114.3,479.4L114.6,479.6ZM117.2,479.6L117.5,479.4L117.7,479.6ZM119.7,479.6L119.9,479.4L120.2,479.6ZM120.7,479.6L121.0,479.3L121.3,479.0L121.7,478.7L122.0,478.9L122.4,479.3L122.6,479.6Z" fill="#e41a1a" stroke="none"/>
<line x1="41.70" y1="490.80" x2="125.50" y2="490.80" stroke="#f08a8a" stroke-width="0.7" />
<text x="43.10" y="482.50" font-size="2.4" fill="#9a9a9a"  stroke="#9a9a9a" stroke-width="0.14">[0 - 1500]</text>
<path d="M43.1,490.8L43.3,490.7L43.6,490.8ZM44.1,490.8L44.4,490.6L44.6,490.8ZM49.0,490.8L49.3,490.5L49.6,490.0L50.0,490.0L50.3,490.5L50.6,490.8ZM53.6,490.8L53.8,490.6L54.1,490.8ZM55.7,490.8L55.9,490.6L56.3,490.7L56.6,490.6L57.0,490.6L57.2,490.8ZM57.4,490.8L57.7,490.6L57.9,490.8ZM58.1,490.8L58.4,490.6L58.6,490.8ZM60.9,490.8L61.2,490.7L61.5,490.6L61.8,490.8ZM66.5,490.8L66.8,490.6L67.0,490.8ZM69.0,490.8L69.2,490.6L69.5,490.8ZM72.4,490.8L72.7,490.6L73.0,490.2L73.4,489.6L73.7,489.8L74.1,490.5L74.3,490.8ZM74.5,490.8L74.8,490.7L75.0,490.8ZM79.4,490.8L79.7,490.6L79.9,490.8ZM81.9,490.8L82.1,490.6L82.5,490.6L82.8,490.6L83.1,490.8ZM84.0,490.8L84.2,490.6L84.5,490.8ZM87.8,490.8L88.1,490.7L88.3,490.8ZM92.0,490.8L92.3,490.6L92.6,490.6L92.9,490.8ZM94.8,490.8L95.1,490.6L95.3,490.8ZM95.5,490.8L95.8,490.3L96.1,489.4L96.5,489.2L96.8,490.0L97.2,490.6L97.4,490.8ZM97.6,490.8L97.9,490.2L98.2,489.0L98.6,488.6L98.9,489.7L99.3,490.6L99.5,490.8ZM99.7,490.8L100.0,490.6L100.3,490.0L100.7,488.9L101.0,489.3L101.4,490.3L101.6,490.8ZM103.2,490.8L103.5,490.6L103.8,490.1L104.2,488.4L104.5,487.5L104.9,489.0L105.2,490.4L105.5,490.8ZM106.0,490.8L106.3,490.5L106.6,489.6L107.0,489.0L107.3,489.6L107.7,490.5L107.9,490.8ZM108.1,490.8L108.4,490.6L108.6,490.8ZM109.5,490.8L109.8,490.3L110.1,489.7L110.5,489.7L110.8,490.4L111.1,490.8ZM111.6,490.8L111.9,490.6L112.1,490.8ZM115.1,490.8L115.4,490.7L115.6,490.8ZM121.1,490.8L121.3,490.6L121.7,490.3L122.0,490.2L122.4,490.4L122.7,490.6L123.0,490.8ZM123.2,490.8L123.4,490.6L123.7,490.8Z" fill="#e41a1a" stroke="none"/>
<line x1="129.40" y1="367.10" x2="236.10" y2="367.10" stroke="#8fb59a" stroke-width="0.7" />
<text x="130.80" y="358.80" font-size="2.4" fill="#9a9a9a"  stroke="#9a9a9a" stroke-width="0.14">[0 - 1500]</text>
<path d="M129.3,367.1L129.6,367.0L129.8,367.1ZM131.8,367.1L132.0,367.0L132.4,366.8L132.6,367.1ZM134.9,367.1L135.2,366.8L135.4,367.1ZM136.3,367.1L136.6,366.9L136.8,367.1ZM138.1,367.1L138.3,366.8L138.6,367.1ZM138.8,367.1L139.0,367.0L139.3,367.1ZM139.8,367.1L140.1,366.9L140.3,367.1ZM141.9,367.1L142.2,366.9L142.4,367.1ZM142.6,367.1L142.9,366.8L143.1,367.1ZM145.1,367.1L145.3,366.8L145.6,367.1ZM147.5,367.1L147.8,366.9L148.0,367.1ZM148.2,367.1L148.5,366.9L148.7,367.1ZM151.7,367.1L152.0,366.8L152.3,366.5L152.7,366.2L153.0,366.1L153.4,366.3L153.7,366.6L154.1,366.8L154.4,366.9L154.8,366.9L155.1,366.8L155.5,366.5L155.8,366.3L156.2,366.0L156.5,365.7L156.9,365.6L157.2,365.6L157.6,365.7L157.9,365.9L158.3,366.1L158.6,366.1L159.0,366.0L159.3,365.8L159.7,365.4L160.0,365.0L160.4,364.7L160.7,364.6L161.1,364.7L161.4,364.9L161.8,365.3L162.1,365.7L162.5,366.1L162.8,366.3L163.2,366.4L163.5,366.3L163.9,366.1L164.2,365.8L164.6,365.6L164.9,365.5L165.3,365.6L165.6,365.8L166.0,366.1L166.3,366.3L166.7,366.6L167.0,366.7L167.4,366.6L167.7,366.4L168.1,366.0L168.4,365.6L168.8,365.2L169.1,364.8L169.5,364.6L169.8,364.6L170.2,364.9L170.5,365.2L170.9,365.5L171.2,365.6L171.6,365.6L171.9,365.6L172.3,365.9L172.6,366.2L173.0,366.6L173.3,366.9L173.7,366.9L173.9,367.1ZM178.3,367.1L178.6,366.9L178.8,367.1ZM179.0,367.1L179.3,366.9L179.5,367.1ZM179.7,367.1L180.0,366.8L180.2,367.1ZM181.1,367.1L181.4,366.8L181.6,367.1ZM181.8,367.1L182.1,366.8L182.3,367.1ZM182.9,367.1L183.1,366.9L183.4,367.1ZM183.9,367.1L184.2,366.9L184.4,367.1ZM184.6,367.1L184.9,366.9L185.2,367.0L185.5,367.1ZM187.1,367.1L187.3,366.9L187.6,367.1ZM188.5,367.1L188.7,366.9L189.1,366.8L189.3,367.1ZM190.2,367.1L190.5,366.8L190.7,367.1ZM191.6,367.1L191.9,366.8L192.2,366.5L192.6,366.0L192.9,365.6L193.3,365.7L193.6,366.1L194.0,366.5L194.3,366.9L194.6,367.1ZM194.8,367.1L195.0,366.8L195.4,366.9L195.6,367.1ZM195.8,367.1L196.1,366.9L196.3,367.1ZM196.5,367.1L196.8,367.0L197.0,367.1ZM198.3,367.1L198.5,366.8L198.8,367.1ZM199.3,367.1L199.6,366.8L199.9,366.9L200.2,367.1ZM200.4,367.1L200.6,366.9L200.9,367.1ZM202.1,367.1L202.4,366.8L202.7,367.0L203.0,367.1ZM204.2,367.1L204.5,366.9L204.7,367.1ZM205.6,367.1L205.9,366.8L206.1,367.1ZM206.3,367.1L206.6,366.9L206.8,367.1ZM207.0,367.1L207.3,367.0L207.5,367.1ZM209.1,367.1L209.4,366.8L209.7,366.9L210.0,367.1ZM213.7,367.1L213.9,366.8L214.2,367.1ZM215.4,367.1L215.7,366.9L215.9,367.1ZM216.8,367.1L217.1,366.9L217.3,367.1ZM217.9,367.1L218.1,366.9L218.4,367.1ZM220.3,367.1L220.6,366.9L220.8,367.1ZM222.1,367.1L222.3,366.9L222.6,367.1ZM224.5,367.1L224.8,367.0L225.0,367.1ZM227.7,367.1L227.9,366.9L228.2,367.1ZM228.4,367.1L228.6,367.0L229.0,366.9L229.2,367.1ZM230.1,367.1L230.4,366.8L230.6,367.1ZM230.8,367.1L231.1,367.0L231.3,367.1ZM233.3,367.1L233.5,366.9L233.8,367.1ZM234.0,367.1L234.2,366.9L234.6,367.0L234.8,367.1Z" fill="#238a3a" stroke="none"/>
<line x1="129.40" y1="378.20" x2="236.10" y2="378.20" stroke="#8fb59a" stroke-width="0.7" />
<text x="130.80" y="369.90" font-size="2.4" fill="#9a9a9a"  stroke="#9a9a9a" stroke-width="0.14">[0 - 1500]</text>
<path d="M129.7,378.2L129.9,377.9L130.2,378.2ZM131.4,378.2L131.7,378.0L132.0,377.9L132.3,378.2ZM132.5,378.2L132.7,378.0L133.0,378.2ZM133.5,378.2L133.8,378.0L134.0,378.2ZM134.2,378.2L134.5,378.1L134.7,378.2ZM138.1,378.2L138.3,378.1L138.6,378.2ZM139.5,378.2L139.7,378.0L140.0,378.2ZM140.5,378.2L140.8,378.0L141.0,378.2ZM143.0,378.2L143.2,377.9L143.5,378.2ZM145.8,378.2L146.0,378.0L146.3,378.2ZM149.3,378.2L149.5,377.9L149.8,378.2ZM151.4,378.2L151.6,378.0L152.0,377.8L152.3,377.3L152.7,376.9L153.0,376.7L153.4,377.0L153.7,377.4L154.1,377.9L154.4,378.1L154.8,378.0L155.0,378.2ZM155.2,378.2L155.5,378.0L155.8,377.8L156.2,377.5L156.5,377.0L156.9,376.4L157.2,375.8L157.6,375.4L157.9,375.1L158.3,375.0L158.6,375.1L159.0,375.1L159.3,374.9L159.7,374.2L160.0,373.2L160.4,372.0L160.7,370.9L161.1,370.3L161.4,370.2L161.8,370.5L162.1,371.1L162.5,371.7L162.8,372.3L163.2,372.8L163.5,373.3L163.9,373.9L164.2,374.5L164.6,375.0L164.9,375.2L165.3,375.1L165.6,374.9L166.0,374.9L166.3,375.1L166.7,375.4L167.0,375.6L167.4,375.2L167.7,374.2L168.1,372.6L168.4,370.9L168.8,369.5L169.1,368.8L169.5,369.0L169.8,369.9L170.2,371.0L170.5,371.9L170.9,372.5L171.2,372.9L171.6,373.5L171.9,374.4L172.3,375.5L172.6,376.6L173.0,377.3L173.3,377.8L173.7,378.0L173.9,378.2ZM176.6,378.2L176.8,378.1L177.2,377.8L177.5,377.4L177.9,376.7L178.2,376.1L178.6,375.5L178.9,375.1L179.3,374.3L179.6,373.3L180.0,372.2L180.3,371.6L180.7,372.1L181.0,373.3L181.4,375.0L181.7,376.4L182.1,377.3L182.4,377.8L182.7,378.2ZM182.9,378.2L183.1,378.0L183.4,378.2ZM185.0,378.2L185.2,377.9L185.5,378.2ZM186.7,378.2L187.0,377.9L187.2,378.2ZM187.8,378.2L188.0,377.9L188.4,377.5L188.7,376.8L189.1,376.3L189.4,376.3L189.8,376.7L190.1,377.4L190.5,377.9L190.8,378.0L191.1,378.2ZM191.6,378.2L191.9,377.9L192.2,377.0L192.6,375.3L192.9,372.7L193.3,370.5L193.6,370.1L194.0,371.5L194.3,373.1L194.7,374.2L195.0,374.8L195.4,375.6L195.7,376.7L196.1,377.5L196.4,378.0L196.7,378.2ZM197.6,378.2L197.8,378.0L198.1,378.2ZM198.6,378.2L198.9,377.9L199.1,378.2ZM202.1,378.2L202.4,378.0L202.6,378.2ZM202.8,378.2L203.1,378.0L203.4,378.0L203.7,378.2ZM203.9,378.2L204.1,377.9L204.4,378.2ZM205.6,378.2L205.9,378.0L206.1,378.2ZM208.8,378.2L209.0,378.0L209.4,377.9L209.7,377.7L210.1,377.7L210.4,377.8L210.8,377.9L211.1,378.0L211.4,378.2ZM213.0,378.2L213.2,378.0L213.5,378.2ZM216.8,378.2L217.1,378.1L217.3,378.2ZM217.5,378.2L217.8,378.0L218.0,378.2ZM218.6,378.2L218.8,378.1L219.2,377.9L219.5,377.8L219.9,377.7L220.2,377.7L220.6,377.9L220.9,378.0L221.2,378.2ZM222.4,378.2L222.7,378.0L222.9,378.2ZM223.8,378.2L224.1,377.9L224.3,378.2ZM225.9,378.2L226.2,378.1L226.4,378.2ZM228.7,378.2L229.0,378.0L229.3,377.9L229.7,377.7L230.0,377.7L230.4,377.8L230.7,377.9L231.1,377.9L231.3,378.2ZM233.3,378.2L233.5,377.9L233.8,378.2ZM234.7,378.2L234.9,378.0L235.3,378.1L235.5,378.2Z" fill="#238a3a" stroke="none"/>
<line x1="129.40" y1="389.40" x2="236.10" y2="389.40" stroke="#8fb59a" stroke-width="0.7" />
<text x="130.80" y="381.10" font-size="2.4" fill="#9a9a9a"  stroke="#9a9a9a" stroke-width="0.14">[0 - 1500]</text>
<path d="M129.3,389.4L129.6,389.3L129.9,389.3L130.2,389.4ZM136.0,389.4L136.2,389.3L136.5,389.4ZM137.4,389.4L137.6,389.3L137.9,389.4ZM150.3,389.4L150.6,389.3L150.8,389.4ZM153.8,389.4L154.1,389.3L154.3,389.4ZM154.9,389.4L155.1,389.2L155.5,389.0L155.8,388.8L156.2,388.6L156.5,388.5L156.9,388.4L157.2,388.4L157.6,388.5L157.9,388.6L158.3,388.7L158.6,388.7L159.0,388.6L159.3,388.3L159.7,388.0L160.0,387.6L160.4,387.2L160.7,387.0L161.1,386.9L161.4,387.1L161.8,387.4L162.1,387.8L162.5,388.2L162.8,388.6L163.2,388.8L163.5,388.8L163.9,388.7L164.2,388.5L164.6,388.3L164.9,388.2L165.3,388.3L165.6,388.5L166.0,388.7L166.3,389.0L166.7,389.1L167.0,389.1L167.4,389.0L167.7,388.7L168.1,388.3L168.4,387.9L168.8,387.4L169.1,387.0L169.5,386.9L169.8,387.0L170.2,387.4L170.5,387.9L170.9,388.4L171.2,388.8L171.6,389.0L171.9,389.2L172.3,389.2L172.5,389.4ZM173.8,389.4L174.0,389.3L174.4,389.2L174.6,389.4ZM175.9,389.4L176.1,389.2L176.4,389.4ZM189.5,389.4L189.8,389.3L190.0,389.4ZM192.0,389.4L192.2,389.2L192.6,388.8L192.9,388.4L193.3,388.0L193.6,387.9L194.0,388.3L194.3,388.8L194.7,389.1L194.9,389.4ZM197.6,389.4L197.8,389.2L198.1,389.4ZM202.1,389.4L202.4,389.2L202.6,389.4ZM206.0,389.4L206.2,389.3L206.5,389.4ZM207.0,389.4L207.3,389.3L207.5,389.4ZM208.8,389.4L209.0,389.3L209.4,389.2L209.7,389.3L210.0,389.4ZM211.9,389.4L212.2,389.2L212.4,389.4ZM212.6,389.4L212.9,389.2L213.1,389.4ZM216.8,389.4L217.1,389.3L217.3,389.4ZM219.3,389.4L219.5,389.2L219.9,389.2L220.1,389.4ZM223.5,389.4L223.7,389.3L224.1,389.2L224.3,389.4ZM225.2,389.4L225.5,389.2L225.8,389.3L226.1,389.4ZM227.7,389.4L227.9,389.3L228.2,389.4ZM231.5,389.4L231.8,389.2L232.0,389.4ZM233.3,389.4L233.5,389.2L233.8,389.4Z" fill="#238a3a" stroke="none"/>
<line x1="129.40" y1="400.60" x2="236.10" y2="400.60" stroke="#777777" stroke-width="0.7" />
<text x="130.80" y="392.30" font-size="2.4" fill="#9a9a9a"  stroke="#9a9a9a" stroke-width="0.14">[0 - 1500]</text>
<path d="M130.4,400.6L130.6,399.9L131.0,400.2L131.2,400.6ZM131.8,400.6L132.0,399.7L132.4,400.4L132.7,400.0L133.1,400.1L133.3,400.6ZM134.2,400.6L134.5,400.3L134.8,400.1L135.2,400.1L135.5,400.4L135.8,400.6ZM136.0,400.6L136.2,400.3L136.6,399.5L136.8,400.6ZM138.1,400.6L138.3,400.1L138.6,400.6ZM138.8,400.6L139.0,399.7L139.3,400.6ZM139.5,400.6L139.7,400.1L140.0,400.6ZM140.9,400.6L141.1,400.0L141.5,400.3L141.8,400.0L142.2,400.1L142.5,400.4L142.9,400.1L143.1,400.6ZM144.4,400.6L144.6,400.2L144.9,400.6ZM145.8,400.6L146.0,400.0L146.4,399.8L146.6,400.6ZM147.2,400.6L147.4,399.6L147.8,400.2L148.1,400.2L148.5,400.3L148.7,400.6ZM149.3,400.6L149.5,400.2L149.8,400.6ZM150.7,400.6L150.9,400.1L151.3,399.6L151.6,400.2L152.0,399.5L152.3,399.3L152.7,399.8L153.0,400.3L153.4,399.7L153.7,399.7L154.0,400.6ZM155.2,400.6L155.5,400.1L155.8,400.3L156.1,400.6ZM156.6,400.6L156.9,400.3L157.2,399.9L157.6,399.6L157.9,399.7L158.3,400.3L158.5,400.6ZM159.1,400.6L159.3,400.2L159.7,399.5L160.0,398.8L160.4,399.4L160.7,400.1L161.1,400.1L161.4,399.3L161.8,398.8L162.1,399.2L162.5,400.1L162.7,400.6ZM162.9,400.6L163.2,400.3L163.4,400.6ZM165.0,400.6L165.3,400.3L165.6,399.9L166.0,399.6L166.3,400.1L166.7,400.2L166.9,400.6ZM167.1,400.6L167.4,399.9L167.7,400.1L168.0,400.6ZM168.5,400.6L168.8,400.2L169.0,400.6ZM169.6,400.6L169.8,399.9L170.2,399.5L170.4,400.6ZM171.0,400.6L171.2,400.5L171.6,400.2L171.9,400.0L172.3,400.1L172.6,400.4L172.9,400.6ZM174.5,400.6L174.7,400.5L175.1,399.6L175.3,400.6ZM175.5,400.6L175.8,400.1L176.0,400.6ZM176.6,400.6L176.8,399.6L177.1,400.6ZM178.0,400.6L178.2,400.3L178.5,400.6ZM178.7,400.6L178.9,400.4L179.3,400.1L179.6,399.7L180.0,399.9L180.3,400.3L180.6,400.6ZM180.8,400.6L181.0,400.3L181.3,400.6ZM183.9,400.6L184.2,400.5L184.4,400.6ZM185.3,400.6L185.6,400.3L185.9,400.2L186.3,400.2L186.6,400.2L187.0,399.7L187.2,400.6ZM187.8,400.6L188.0,400.3L188.3,400.6ZM188.8,400.6L189.1,400.3L189.3,400.6ZM190.2,400.6L190.5,400.2L190.7,400.6ZM191.3,400.6L191.5,400.1L191.8,400.6ZM192.0,400.6L192.2,400.4L192.6,399.7L192.9,399.0L193.3,399.1L193.6,400.0L194.0,400.4L194.2,400.6ZM194.4,400.6L194.7,399.5L194.9,400.6ZM195.1,400.6L195.4,400.0L195.6,400.6ZM196.5,400.6L196.8,399.7L197.0,400.6ZM198.3,400.6L198.5,399.6L198.9,400.4L199.1,400.6ZM200.0,400.6L200.3,399.8L200.5,400.6ZM204.2,400.6L204.5,400.2L204.8,399.9L205.2,399.9L205.5,400.3L205.8,400.6ZM206.0,400.6L206.2,400.1L206.5,400.6ZM207.4,400.6L207.6,400.5L207.9,400.6ZM208.4,400.6L208.7,399.9L209.0,400.0L209.4,399.9L209.7,399.5L210.0,400.6ZM210.2,400.6L210.4,400.0L210.7,400.6ZM210.9,400.6L211.1,399.5L211.5,400.2L211.8,399.8L212.2,399.9L212.5,400.2L212.8,400.6ZM213.0,400.6L213.2,399.9L213.5,400.6ZM216.1,400.6L216.4,400.0L216.7,399.6L217.0,400.6ZM217.2,400.6L217.4,399.7L217.8,399.7L218.1,399.7L218.5,400.1L218.8,399.8L219.2,400.0L219.4,400.6ZM219.6,400.6L219.9,399.7L220.1,400.6ZM221.4,400.6L221.6,399.7L221.9,400.6ZM222.1,400.6L222.3,400.4L222.7,399.6L223.0,399.9L223.4,400.1L223.7,400.0L224.0,400.6ZM224.5,400.6L224.8,400.0L225.0,400.6ZM225.9,400.6L226.2,400.0L226.5,400.1L226.8,400.6ZM227.0,400.6L227.2,400.5L227.6,399.7L227.9,399.9L228.3,399.9L228.6,399.6L228.9,400.6ZM229.8,400.6L230.0,399.9L230.4,399.8L230.7,400.2L231.0,400.6ZM231.5,400.6L231.8,400.1L232.0,400.6ZM232.2,400.6L232.5,399.7L232.8,399.8L233.2,399.5L233.5,400.2L233.8,400.6ZM234.0,400.6L234.2,399.7L234.5,400.6ZM235.0,400.6L235.3,399.9L235.6,399.5L235.9,400.6Z" fill="#111111" stroke="none"/>
<line x1="129.40" y1="411.90" x2="236.10" y2="411.90" stroke="#777777" stroke-width="0.7" />
<text x="130.80" y="403.60" font-size="2.4" fill="#9a9a9a"  stroke="#9a9a9a" stroke-width="0.14">[0 - 1500]</text>
<path d="M130.0,411.9L130.3,411.5L130.5,411.9ZM130.7,411.9L131.0,411.7L131.3,411.7L131.7,411.3L132.0,411.1L132.4,411.4L132.7,411.8L133.1,411.1L133.3,411.9ZM134.2,411.9L134.5,411.7L134.8,411.1L135.1,411.9ZM136.3,411.9L136.6,410.6L136.8,411.9ZM137.0,411.9L137.3,411.0L137.5,411.9ZM137.7,411.9L138.0,411.6L138.3,411.2L138.7,411.1L139.0,411.4L139.4,411.4L139.7,411.7L140.1,411.7L140.4,410.8L140.7,411.9ZM142.3,411.9L142.5,410.8L142.8,411.9ZM143.0,411.9L143.2,411.5L143.6,411.0L143.9,410.7L144.3,411.1L144.6,411.6L145.0,410.7L145.2,411.9ZM145.8,411.9L146.0,411.1L146.3,411.9ZM146.8,411.9L147.1,411.2L147.4,411.6L147.8,411.2L148.1,411.0L148.5,411.4L148.8,411.8L149.2,411.6L149.4,411.9ZM149.6,411.9L149.9,411.6L150.2,411.2L150.5,411.9ZM150.7,411.9L150.9,411.6L151.2,411.9ZM151.4,411.9L151.6,411.0L152.0,407.5L152.3,405.1L152.7,408.7L153.0,409.5L153.4,408.4L153.7,409.7L154.1,411.4L154.3,411.9ZM154.5,411.9L154.8,411.6L155.1,410.3L155.5,409.1L155.8,410.5L156.2,411.2L156.5,411.4L156.9,409.5L157.2,408.5L157.6,410.1L157.9,411.3L158.3,410.0L158.6,408.2L159.0,409.3L159.3,411.3L159.6,411.9ZM159.8,411.9L160.0,411.5L160.4,409.2L160.7,406.0L161.1,407.0L161.4,407.2L161.8,404.7L162.1,408.6L162.5,411.2L162.8,410.9L163.2,409.1L163.5,409.7L163.9,411.3L164.2,411.7L164.6,411.0L164.9,410.0L165.3,410.7L165.6,410.7L166.0,411.0L166.3,411.1L166.6,411.9ZM167.1,411.9L167.4,411.0L167.7,411.3L168.1,410.6L168.4,410.8L168.8,411.6L169.1,411.4L169.4,411.9ZM169.6,411.9L169.8,411.4L170.2,410.7L170.5,410.9L170.9,411.2L171.1,411.9ZM172.4,411.9L172.6,411.3L173.0,411.0L173.2,411.9ZM173.4,411.9L173.7,410.7L173.9,411.9ZM178.0,411.9L178.2,411.3L178.6,410.7L178.9,410.9L179.3,411.6L179.6,411.6L180.0,410.8L180.2,411.9ZM180.4,411.9L180.7,410.9L180.9,411.9ZM181.1,411.9L181.4,411.4L181.7,410.5L182.1,410.9L182.4,411.1L182.8,410.8L183.0,411.9ZM183.2,411.9L183.5,411.6L183.7,411.9ZM185.0,411.9L185.2,411.7L185.6,411.4L185.9,411.2L186.3,411.3L186.6,411.7L186.9,411.9ZM187.1,411.9L187.3,411.6L187.6,411.9ZM187.8,411.9L188.0,411.2L188.4,411.3L188.6,411.9ZM189.9,411.9L190.1,411.2L190.5,411.5L190.8,410.8L191.2,411.7L191.4,411.9ZM191.6,411.9L191.9,411.0L192.2,408.7L192.6,408.0L192.9,410.2L193.3,411.6L193.5,411.9ZM193.7,411.9L194.0,411.3L194.3,409.9L194.7,408.8L195.0,410.6L195.4,411.7L195.7,411.2L196.1,411.6L196.4,410.7L196.8,410.0L197.1,411.1L197.5,411.8L197.7,411.9ZM199.0,411.9L199.2,410.7L199.6,411.7L199.9,410.7L200.2,411.9ZM200.7,411.9L201.0,411.4L201.3,411.7L201.7,411.0L201.9,411.9ZM202.1,411.9L202.4,411.1L202.7,410.8L203.1,411.7L203.3,411.9ZM203.9,411.9L204.1,411.1L204.4,411.9ZM205.3,411.9L205.5,411.2L205.9,410.9L206.2,410.6L206.6,410.7L206.9,411.6L207.2,411.9ZM207.4,411.9L207.6,411.7L208.0,411.1L208.3,410.4L208.7,410.5L209.0,411.2L209.4,410.9L209.7,411.6L210.1,411.1L210.4,410.6L210.8,410.8L211.1,411.2L211.5,410.6L211.8,409.6L212.2,409.7L212.5,410.9L212.9,411.5L213.2,411.1L213.6,410.5L213.9,410.4L214.3,410.6L214.6,410.0L215.0,409.6L215.3,410.3L215.7,411.3L216.0,411.6L216.4,411.3L216.7,410.5L217.1,410.3L217.4,410.9L217.8,410.8L218.1,411.7L218.4,411.9ZM218.9,411.9L219.2,411.1L219.4,411.9ZM220.0,411.9L220.2,411.8L220.6,410.9L220.8,411.9ZM221.0,411.9L221.3,411.7L221.6,411.2L222.0,411.0L222.3,411.3L222.7,411.7L223.0,410.6L223.3,411.9ZM223.8,411.9L224.1,411.3L224.3,411.9ZM224.5,411.9L224.8,410.8L225.0,411.9ZM225.6,411.9L225.8,411.5L226.2,411.6L226.5,410.6L226.8,411.9ZM227.3,411.9L227.6,411.4L227.8,411.9ZM229.1,411.9L229.3,411.7L229.7,411.3L230.0,411.2L230.4,411.5L230.7,411.8L231.0,411.9ZM231.9,411.9L232.1,410.8L232.4,411.9ZM232.6,411.9L232.8,411.5L233.1,411.9ZM235.4,411.9L235.6,411.1L235.9,411.9Z" fill="#111111" stroke="none"/>
<line x1="129.40" y1="423.10" x2="236.10" y2="423.10" stroke="#777777" stroke-width="0.7" />
<text x="130.80" y="414.80" font-size="2.4" fill="#9a9a9a"  stroke="#9a9a9a" stroke-width="0.14">[0 - 1500]</text>
<path d="M129.3,423.1L129.6,422.6L129.8,423.1ZM130.0,423.1L130.3,422.6L130.6,422.9L130.9,423.1ZM131.1,423.1L131.3,422.7L131.7,422.8L131.9,423.1ZM132.8,423.1L133.1,422.5L133.3,423.1ZM134.2,423.1L134.5,422.5L134.7,423.1ZM134.9,423.1L135.2,422.6L135.4,423.1ZM140.2,423.1L140.4,422.9L140.7,423.1ZM142.3,423.1L142.5,422.6L142.9,422.7L143.1,423.1ZM145.1,423.1L145.3,422.5L145.6,423.1ZM145.8,423.1L146.0,422.6L146.3,423.1ZM146.5,423.1L146.7,422.6L147.1,423.0L147.3,423.1ZM148.6,423.1L148.8,422.7L149.2,422.6L149.4,423.1ZM151.4,423.1L151.6,422.7L151.9,423.1ZM152.8,423.1L153.0,422.9L153.4,422.7L153.6,423.1ZM153.8,423.1L154.1,422.9L154.4,422.9L154.7,423.1ZM155.2,423.1L155.5,422.7L155.8,422.5L156.1,423.1ZM156.3,423.1L156.5,422.6L156.8,423.1ZM158.0,423.1L158.3,422.8L158.6,422.8L159.0,423.0L159.2,423.1ZM159.4,423.1L159.7,422.8L160.0,422.6L160.4,422.3L160.7,422.2L161.1,422.2L161.4,422.5L161.8,422.8L162.1,423.0L162.4,423.1ZM163.6,423.1L163.9,422.7L164.2,422.8L164.5,423.1ZM166.4,423.1L166.7,422.8L166.9,423.1ZM167.5,423.1L167.7,423.0L168.0,423.1ZM168.5,423.1L168.8,422.8L169.0,423.1ZM169.9,423.1L170.2,422.9L170.4,423.1ZM172.0,423.1L172.3,422.8L172.5,423.1ZM172.7,423.1L173.0,422.7L173.3,422.5L173.6,423.1ZM174.1,423.1L174.4,422.5L174.7,422.9L175.1,422.8L175.3,423.1ZM175.5,423.1L175.8,422.7L176.0,423.1ZM178.3,423.1L178.6,422.6L178.8,423.1ZM179.4,423.1L179.6,422.9L179.9,423.1ZM183.2,423.1L183.5,422.8L183.7,423.1ZM183.9,423.1L184.2,422.6L184.5,422.9L184.9,422.6L185.2,422.9L185.5,423.1ZM186.7,423.1L187.0,422.6L187.2,423.1ZM187.8,423.1L188.0,422.9L188.3,423.1ZM192.0,423.1L192.2,422.8L192.5,423.1ZM193.4,423.1L193.6,422.8L194.0,422.7L194.3,422.8L194.6,423.1ZM194.8,423.1L195.0,422.5L195.3,423.1ZM197.2,423.1L197.5,422.7L197.7,423.1ZM198.3,423.1L198.5,422.9L198.8,423.1ZM200.7,423.1L201.0,422.7L201.2,423.1ZM202.1,423.1L202.4,422.9L202.6,423.1ZM202.8,423.1L203.1,422.9L203.3,423.1ZM203.9,423.1L204.1,422.6L204.5,422.9L204.8,423.0L205.1,423.1ZM206.7,423.1L206.9,422.5L207.2,423.1ZM207.7,423.1L208.0,422.7L208.2,423.1ZM210.9,423.1L211.1,422.6L211.4,423.1ZM212.3,423.1L212.5,422.7L212.8,423.1ZM214.0,423.1L214.3,422.6L214.6,422.9L215.0,422.8L215.3,422.9L215.7,423.0L215.9,423.1ZM216.5,423.1L216.7,422.9L217.0,423.1ZM217.2,423.1L217.4,422.8L217.7,423.1ZM217.9,423.1L218.1,422.9L218.5,422.9L218.8,422.8L219.1,423.1ZM222.1,423.1L222.3,422.8L222.6,423.1ZM223.1,423.1L223.4,422.7L223.7,422.6L224.1,422.6L224.3,423.1ZM224.5,423.1L224.8,422.8L225.0,423.1ZM225.2,423.1L225.5,422.7L225.8,422.6L226.1,423.1ZM226.3,423.1L226.5,422.9L226.8,423.1ZM227.3,423.1L227.6,422.5L227.8,423.1ZM228.0,423.1L228.3,422.9L228.5,423.1ZM230.5,423.1L230.7,422.6L231.0,423.1ZM231.9,423.1L232.1,422.7L232.4,423.1ZM232.6,423.1L232.8,422.7L233.2,422.8L233.4,423.1ZM235.4,423.1L235.6,422.8L235.9,423.1Z" fill="#111111" stroke="none"/>
<line x1="129.40" y1="434.40" x2="236.10" y2="434.40" stroke="#b8b07a" stroke-width="0.7" />
<text x="130.80" y="426.10" font-size="2.4" fill="#9a9a9a"  stroke="#9a9a9a" stroke-width="0.14">[0 - 1500]</text>
<path d="M130.0,434.4L130.3,434.2L130.5,434.4ZM130.7,434.4L131.0,434.2L131.2,434.4ZM131.4,434.4L131.7,434.2L131.9,434.4ZM133.5,434.4L133.8,434.3L134.0,434.4ZM135.6,434.4L135.9,434.2L136.1,434.4ZM139.1,434.4L139.4,434.2L139.6,434.4ZM143.0,434.4L143.2,434.3L143.5,434.4ZM144.7,434.4L145.0,434.3L145.2,434.4ZM148.2,434.4L148.5,434.2L148.7,434.4ZM149.3,434.4L149.5,434.2L149.8,434.4ZM150.0,434.4L150.2,434.2L150.6,434.2L150.8,434.4ZM152.4,434.4L152.7,434.2L152.9,434.4ZM155.6,434.4L155.8,434.2L156.1,434.4ZM157.0,434.4L157.2,434.1L157.6,433.7L157.9,433.2L158.3,432.6L158.6,432.1L159.0,431.7L159.3,431.3L159.7,430.9L160.0,430.7L160.4,430.9L160.7,431.4L161.1,432.0L161.4,432.3L161.8,432.5L162.1,432.7L162.5,433.2L162.8,433.7L163.2,434.1L163.4,434.4ZM163.6,434.4L163.9,434.2L164.2,434.2L164.5,434.4ZM165.0,434.4L165.3,434.2L165.5,434.4ZM166.1,434.4L166.3,434.2L166.6,434.4ZM167.8,434.4L168.1,434.3L168.4,434.3L168.7,434.4ZM173.1,434.4L173.3,434.2L173.6,434.4ZM175.9,434.4L176.1,434.3L176.5,434.2L176.7,434.4ZM184.3,434.4L184.5,434.3L184.8,434.4ZM185.3,434.4L185.6,434.3L185.9,434.2L186.2,434.4ZM189.2,434.4L189.4,434.2L189.7,434.4ZM192.0,434.4L192.2,434.3L192.6,433.9L192.9,433.5L193.3,433.5L193.6,434.0L193.9,434.4ZM195.5,434.4L195.7,434.2L196.0,434.4ZM197.2,434.4L197.5,434.2L197.8,434.2L198.2,434.2L198.5,434.2L198.9,434.3L199.2,434.2L199.5,434.4ZM205.3,434.4L205.5,434.2L205.8,434.4ZM211.2,434.4L211.5,434.3L211.7,434.4ZM213.3,434.4L213.6,434.2L213.8,434.4ZM215.8,434.4L216.0,434.2L216.3,434.4ZM216.5,434.4L216.7,434.2L217.1,434.3L217.3,434.4ZM221.4,434.4L221.6,434.2L222.0,434.3L222.2,434.4ZM224.2,434.4L224.4,434.2L224.7,434.4ZM225.2,434.4L225.5,434.2L225.8,434.3L226.1,434.4ZM229.1,434.4L229.3,434.3L229.6,434.4ZM230.5,434.4L230.7,434.2L231.0,434.4ZM234.0,434.4L234.2,434.2L234.6,434.3L234.8,434.4Z" fill="#666c1a" stroke="none"/>
<line x1="129.40" y1="445.80" x2="236.10" y2="445.80" stroke="#b8b07a" stroke-width="0.7" />
<text x="130.80" y="437.50" font-size="2.4" fill="#9a9a9a"  stroke="#9a9a9a" stroke-width="0.14">[0 - 1500]</text>
<path d="M129.3,445.8L129.6,445.7L129.8,445.8ZM131.8,445.8L132.0,445.7L132.3,445.8ZM133.2,445.8L133.4,445.7L133.7,445.8ZM136.3,445.8L136.6,445.6L136.8,445.8ZM155.6,445.8L155.8,445.6L156.1,445.8ZM157.3,445.8L157.6,445.6L157.9,445.1L158.3,444.0L158.6,442.5L159.0,440.9L159.3,439.3L159.7,437.7L160.0,436.9L160.4,437.6L160.7,438.6L161.1,439.1L161.4,440.0L161.8,441.6L162.1,442.9L162.5,443.5L162.8,444.1L163.2,444.8L163.5,445.4L163.9,445.7L164.2,445.6L164.5,445.8ZM167.8,445.8L168.1,445.6L168.4,445.0L168.8,444.0L169.1,443.3L169.5,443.7L169.8,444.7L170.2,445.4L170.5,445.7L170.9,445.6L171.1,445.8ZM172.4,445.8L172.6,445.6L172.9,445.8ZM175.9,445.8L176.1,445.7L176.4,445.8ZM181.5,445.8L181.7,445.7L182.0,445.8ZM182.5,445.8L182.8,445.7L183.0,445.8ZM183.9,445.8L184.2,445.6L184.4,445.8ZM185.3,445.8L185.6,445.6L185.8,445.8ZM187.1,445.8L187.3,445.6L187.6,445.8ZM189.9,445.8L190.1,445.6L190.5,445.7L190.8,445.6L191.1,445.8ZM191.6,445.8L191.9,445.6L192.1,445.8ZM192.3,445.8L192.6,445.5L192.9,444.1L193.3,441.7L193.6,441.4L194.0,443.8L194.3,445.4L194.6,445.8ZM195.1,445.8L195.4,445.6L195.6,445.8ZM195.8,445.8L196.1,445.6L196.3,445.8ZM196.9,445.8L197.1,445.6L197.4,445.8ZM197.9,445.8L198.2,445.7L198.5,445.7L198.8,445.8ZM199.3,445.8L199.6,445.6L199.9,445.6L200.2,445.8ZM201.1,445.8L201.3,445.6L201.6,445.8ZM206.7,445.8L206.9,445.6L207.2,445.8ZM207.4,445.8L207.6,445.6L208.0,445.6L208.3,445.6L208.6,445.8ZM208.8,445.8L209.0,445.6L209.3,445.8ZM210.5,445.8L210.8,445.6L211.0,445.8ZM215.8,445.8L216.0,445.6L216.3,445.8ZM216.8,445.8L217.1,445.7L217.3,445.8ZM220.0,445.8L220.2,445.6L220.6,445.4L220.9,445.3L221.3,445.4L221.6,445.6L221.9,445.8ZM225.2,445.8L225.5,445.7L225.7,445.8ZM225.9,445.8L226.2,445.7L226.4,445.8ZM232.2,445.8L232.5,445.6L232.8,445.7L233.1,445.8ZM234.7,445.8L234.9,445.7L235.3,445.6L235.6,445.6L235.9,445.8Z" fill="#666c1a" stroke="none"/>
<line x1="129.40" y1="457.00" x2="236.10" y2="457.00" stroke="#b8b07a" stroke-width="0.7" />
<text x="130.80" y="448.70" font-size="2.4" fill="#9a9a9a"  stroke="#9a9a9a" stroke-width="0.14">[0 - 1500]</text>
<path d="M129.3,457.0L129.6,456.8L129.8,457.0ZM131.1,457.0L131.3,456.8L131.6,457.0ZM134.6,457.0L134.8,456.8L135.1,457.0ZM135.6,457.0L135.9,456.8L136.1,457.0ZM136.7,457.0L136.9,456.8L137.2,457.0ZM141.2,457.0L141.5,456.9L141.7,457.0ZM141.9,457.0L142.2,456.8L142.4,457.0ZM143.0,457.0L143.2,456.9L143.6,456.8L143.8,457.0ZM144.7,457.0L145.0,456.8L145.2,457.0ZM145.4,457.0L145.7,456.8L145.9,457.0ZM150.0,457.0L150.2,456.8L150.5,457.0ZM151.7,457.0L152.0,456.8L152.2,457.0ZM152.4,457.0L152.7,456.8L152.9,457.0ZM155.9,457.0L156.2,456.8L156.4,457.0ZM156.6,457.0L156.9,456.8L157.1,457.0ZM157.3,457.0L157.6,456.8L157.9,456.5L158.3,455.7L158.6,454.6L159.0,453.5L159.3,452.3L159.7,451.2L160.0,450.6L160.4,451.1L160.7,451.9L161.1,452.4L161.4,453.2L161.8,454.7L162.1,456.1L162.5,456.8L162.7,457.0ZM164.7,457.0L164.9,456.8L165.3,456.8L165.5,457.0ZM166.8,457.0L167.0,456.8L167.3,457.0ZM167.8,457.0L168.1,456.8L168.4,456.3L168.8,455.5L169.1,455.0L169.5,455.3L169.8,456.1L170.2,456.7L170.4,457.0ZM175.2,457.0L175.4,456.8L175.7,457.0ZM175.9,457.0L176.1,456.8L176.4,457.0ZM176.6,457.0L176.8,456.9L177.1,457.0ZM177.3,457.0L177.5,456.8L177.8,457.0ZM179.7,457.0L180.0,456.8L180.2,457.0ZM181.8,457.0L182.1,456.9L182.3,457.0ZM183.6,457.0L183.8,456.9L184.1,457.0ZM184.3,457.0L184.5,456.8L184.8,457.0ZM185.0,457.0L185.2,456.8L185.5,457.0ZM189.9,457.0L190.1,456.8L190.4,457.0ZM190.6,457.0L190.8,456.9L191.1,457.0ZM192.3,457.0L192.6,456.8L192.9,455.8L193.3,453.9L193.6,453.8L194.0,455.5L194.3,456.7L194.7,456.8L194.9,457.0ZM195.5,457.0L195.7,456.8L196.0,457.0ZM197.9,457.0L198.2,456.9L198.5,456.9L198.8,457.0ZM201.8,457.0L202.0,456.8L202.3,457.0ZM203.9,457.0L204.1,456.9L204.4,457.0ZM204.9,457.0L205.2,456.8L205.4,457.0ZM205.6,457.0L205.9,456.8L206.1,457.0ZM206.3,457.0L206.6,456.8L206.8,457.0ZM209.8,457.0L210.1,456.8L210.3,457.0ZM211.2,457.0L211.5,456.8L211.7,457.0ZM215.1,457.0L215.3,456.8L215.6,457.0ZM218.9,457.0L219.2,456.8L219.4,457.0ZM220.0,457.0L220.2,456.9L220.5,457.0ZM220.7,457.0L220.9,456.8L221.2,457.0ZM221.4,457.0L221.6,456.9L221.9,457.0ZM224.2,457.0L224.4,456.8L224.8,456.8L225.0,457.0ZM226.6,457.0L226.9,456.8L227.2,456.8L227.5,457.0ZM229.1,457.0L229.3,456.8L229.6,457.0ZM230.1,457.0L230.4,456.8L230.6,457.0ZM231.2,457.0L231.4,456.8L231.7,457.0ZM232.2,457.0L232.5,456.8L232.7,457.0ZM234.0,457.0L234.2,456.8L234.5,457.0Z" fill="#666c1a" stroke="none"/>
<line x1="129.40" y1="468.40" x2="236.10" y2="468.40" stroke="#f08a8a" stroke-width="0.7" />
<text x="130.80" y="460.10" font-size="2.4" fill="#9a9a9a"  stroke="#9a9a9a" stroke-width="0.14">[0 - 1500]</text>
<path d="M130.0,468.4L130.3,468.3L130.5,468.4ZM131.4,468.4L131.7,468.2L132.0,468.2L132.3,468.4ZM133.9,468.4L134.1,468.2L134.4,468.4ZM135.6,468.4L135.9,468.2L136.1,468.4ZM139.8,468.4L140.1,468.2L140.4,468.0L140.8,468.0L141.1,468.1L141.4,468.4ZM143.3,468.4L143.6,468.2L143.8,468.4ZM150.3,468.4L150.6,468.2L150.8,468.4ZM151.7,468.4L152.0,468.2L152.2,468.4ZM153.5,468.4L153.7,468.2L154.0,468.4ZM155.6,468.4L155.8,468.2L156.2,468.2L156.4,468.4ZM156.6,468.4L156.9,468.2L157.1,468.4ZM158.0,468.4L158.3,468.0L158.6,467.4L159.0,466.6L159.3,466.0L159.7,465.0L160.0,464.8L160.4,465.4L160.7,466.8L161.1,467.9L161.3,468.4ZM162.2,468.4L162.5,468.3L162.7,468.4ZM164.3,468.4L164.6,468.2L164.8,468.4ZM166.1,468.4L166.3,468.2L166.6,468.4ZM166.8,468.4L167.0,468.2L167.3,468.4ZM168.2,468.4L168.4,468.2L168.7,468.4ZM169.2,468.4L169.5,468.2L169.7,468.4ZM173.4,468.4L173.7,468.2L173.9,468.4ZM174.5,468.4L174.7,468.3L175.0,468.4ZM178.7,468.4L178.9,468.3L179.2,468.4ZM182.9,468.4L183.1,468.2L183.4,468.4ZM185.7,468.4L185.9,468.2L186.2,468.4ZM186.4,468.4L186.6,468.2L186.9,468.4ZM188.1,468.4L188.4,468.2L188.6,468.4ZM188.8,468.4L189.1,468.2L189.3,468.4ZM191.3,468.4L191.5,468.2L191.8,468.4ZM192.0,468.4L192.2,468.2L192.6,467.9L192.9,467.6L193.3,467.6L193.6,468.0L194.0,468.3L194.2,468.4ZM195.5,468.4L195.7,468.2L196.0,468.4ZM196.5,468.4L196.8,468.2L197.0,468.4ZM200.7,468.4L201.0,468.2L201.2,468.4ZM206.0,468.4L206.2,468.2L206.5,468.4ZM207.7,468.4L208.0,468.2L208.2,468.4ZM208.8,468.4L209.0,468.2L209.3,468.4ZM209.5,468.4L209.7,468.2L210.0,468.4ZM211.6,468.4L211.8,468.3L212.1,468.4ZM212.3,468.4L212.5,468.2L212.8,468.4ZM213.3,468.4L213.6,468.2L213.9,468.3L214.2,468.4ZM219.3,468.4L219.5,468.2L219.8,468.4ZM221.7,468.4L222.0,468.2L222.2,468.4ZM222.8,468.4L223.0,468.2L223.4,468.2L223.6,468.4ZM225.2,468.4L225.5,468.2L225.8,468.2L226.1,468.4ZM227.7,468.4L227.9,468.2L228.3,468.2L228.5,468.4ZM235.4,468.4L235.6,468.3L235.9,468.4Z" fill="#e41a1a" stroke="none"/>
<line x1="129.40" y1="479.60" x2="236.10" y2="479.60" stroke="#f08a8a" stroke-width="0.7" />
<text x="130.80" y="471.30" font-size="2.4" fill="#9a9a9a"  stroke="#9a9a9a" stroke-width="0.14">[0 - 1500]</text>
<path d="M130.0,479.6L130.3,479.5L130.5,479.6ZM131.8,479.6L132.0,479.4L132.3,479.6ZM137.0,479.6L137.3,479.4L137.5,479.6ZM138.4,479.6L138.7,479.5L138.9,479.6ZM140.9,479.6L141.1,479.4L141.4,479.6ZM141.6,479.6L141.8,479.4L142.2,479.4L142.4,479.6ZM142.6,479.6L142.9,479.4L143.1,479.6ZM144.0,479.6L144.3,479.5L144.5,479.6ZM145.4,479.6L145.7,479.4L145.9,479.6ZM151.4,479.6L151.6,479.4L151.9,479.6ZM152.1,479.6L152.3,479.4L152.7,479.0L153.0,478.7L153.4,479.1L153.7,479.4L154.0,479.6ZM154.2,479.6L154.4,479.4L154.8,479.5L155.0,479.6ZM157.3,479.6L157.6,479.4L157.9,479.4L158.3,478.8L158.6,477.5L159.0,475.7L159.3,474.5L159.7,473.1L160.0,472.8L160.4,473.6L160.7,475.0L161.1,475.4L161.4,475.7L161.8,477.0L162.1,478.4L162.5,478.6L162.8,478.2L163.2,478.5L163.5,479.0L163.9,479.4L164.1,479.6ZM166.1,479.6L166.3,479.5L166.6,479.6ZM168.2,479.6L168.4,479.4L168.7,479.6ZM168.9,479.6L169.1,479.5L169.5,479.4L169.8,478.9L170.2,478.2L170.5,478.5L170.9,479.2L171.1,479.6ZM171.3,479.6L171.6,479.4L171.9,478.9L172.3,478.2L172.6,478.6L173.0,479.3L173.3,479.4L173.6,479.6ZM174.8,479.6L175.1,479.4L175.3,479.6ZM175.5,479.6L175.8,479.4L176.1,479.4L176.4,479.6ZM176.9,479.6L177.2,479.4L177.4,479.6ZM179.4,479.6L179.6,479.5L179.9,479.6ZM180.1,479.6L180.3,479.4L180.7,479.4L180.9,479.6ZM182.2,479.6L182.4,479.5L182.7,479.6ZM183.6,479.6L183.8,479.4L184.1,479.6ZM186.0,479.6L186.3,479.5L186.5,479.6ZM187.4,479.6L187.7,479.4L187.9,479.6ZM191.3,479.6L191.5,479.4L191.9,478.8L192.2,478.0L192.6,477.8L192.9,478.5L193.3,479.2L193.5,479.6ZM193.7,479.6L194.0,479.4L194.2,479.6ZM195.1,479.6L195.4,479.4L195.6,479.6ZM195.8,479.6L196.1,479.5L196.3,479.6ZM200.4,479.6L200.6,479.4L200.9,479.6ZM201.8,479.6L202.0,479.4L202.3,479.6ZM205.6,479.6L205.9,479.4L206.2,479.4L206.5,479.6ZM207.7,479.6L208.0,479.4L208.2,479.6ZM209.5,479.6L209.7,479.3L210.1,478.9L210.4,478.6L210.8,478.8L211.1,479.2L211.4,479.6ZM211.9,479.6L212.2,479.4L212.4,479.6ZM213.7,479.6L213.9,479.2L214.3,478.6L214.6,478.2L215.0,478.4L215.3,479.1L215.6,479.6ZM217.5,479.6L217.8,479.4L218.0,479.6ZM218.2,479.6L218.5,479.4L218.7,479.6ZM220.0,479.6L220.2,479.5L220.6,479.3L220.9,479.1L221.3,479.2L221.6,479.4L221.9,479.6ZM223.1,479.6L223.4,479.4L223.6,479.6ZM224.2,479.6L224.4,479.4L224.8,479.4L225.0,479.6ZM231.5,479.6L231.8,479.4L232.0,479.6ZM232.9,479.6L233.2,479.4L233.4,479.6ZM234.3,479.6L234.6,479.4L234.9,479.5L235.2,479.6Z" fill="#e41a1a" stroke="none"/>
<line x1="129.40" y1="490.80" x2="236.10" y2="490.80" stroke="#f08a8a" stroke-width="0.7" />
<text x="130.80" y="482.50" font-size="2.4" fill="#9a9a9a"  stroke="#9a9a9a" stroke-width="0.14">[0 - 1500]</text>
<path d="M129.3,490.8L129.6,490.6L129.8,490.8ZM131.1,490.8L131.3,490.6L131.6,490.8ZM133.2,490.8L133.4,490.6L133.7,490.8ZM138.4,490.8L138.7,490.6L139.0,490.6L139.4,490.6L139.6,490.8ZM141.6,490.8L141.8,490.6L142.1,490.8ZM143.7,490.8L143.9,490.6L144.3,490.7L144.5,490.8ZM145.1,490.8L145.3,490.7L145.6,490.8ZM148.2,490.8L148.5,490.6L148.7,490.8ZM149.3,490.8L149.5,490.6L149.8,490.8ZM151.0,490.8L151.3,490.6L151.5,490.8ZM152.1,490.8L152.3,490.7L152.7,490.6L153.0,490.2L153.4,489.9L153.7,490.2L154.1,490.6L154.3,490.8ZM154.5,490.8L154.8,490.6L155.0,490.8ZM156.3,490.8L156.5,490.7L156.8,490.8ZM157.7,490.8L157.9,490.7L158.3,490.3L158.6,489.5L159.0,488.6L159.3,487.9L159.7,486.9L160.0,485.6L160.4,486.2L160.7,487.4L161.1,488.0L161.4,488.4L161.8,489.5L162.1,490.4L162.5,490.6L162.8,490.6L163.1,490.8ZM170.6,490.8L170.9,490.3L171.2,490.0L171.6,490.2L171.9,490.6L172.2,490.8ZM173.1,490.8L173.3,490.6L173.6,490.8ZM174.5,490.8L174.7,490.6L175.1,490.7L175.3,490.8ZM176.9,490.8L177.2,490.6L177.4,490.8ZM178.0,490.8L178.2,490.6L178.6,490.6L178.8,490.8ZM179.0,490.8L179.3,490.5L179.6,490.0L180.0,490.0L180.3,490.5L180.6,490.8ZM182.2,490.8L182.4,490.6L182.7,490.8ZM187.4,490.8L187.7,490.6L187.9,490.8ZM189.9,490.8L190.1,490.6L190.4,490.8ZM190.6,490.8L190.8,490.6L191.1,490.8ZM191.6,490.8L191.9,490.6L192.2,490.6L192.5,490.8ZM192.7,490.8L192.9,490.5L193.3,490.1L193.6,489.9L194.0,490.4L194.2,490.8ZM194.4,490.8L194.7,490.6L194.9,490.8ZM195.8,490.8L196.1,490.5L196.4,490.0L196.8,489.9L197.1,490.4L197.4,490.8ZM197.6,490.8L197.8,490.7L198.1,490.8ZM200.0,490.8L200.3,490.7L200.6,490.2L201.0,489.8L201.3,490.2L201.7,490.6L201.9,490.8ZM205.6,490.8L205.9,490.6L206.2,490.7L206.5,490.8ZM206.7,490.8L206.9,490.6L207.2,490.8ZM209.1,490.8L209.4,490.6L209.6,490.8ZM210.2,490.8L210.4,490.7L210.8,490.6L211.1,490.7L211.4,490.8ZM211.9,490.8L212.2,490.3L212.5,490.0L212.9,490.2L213.2,490.6L213.5,490.8ZM214.4,490.8L214.6,490.6L214.9,490.8ZM215.4,490.8L215.7,490.6L216.0,489.9L216.4,489.3L216.7,490.0L217.1,490.6L217.3,490.8ZM218.2,490.8L218.5,490.3L218.8,489.9L219.2,490.1L219.5,490.6L219.8,490.8ZM222.8,490.8L223.0,490.6L223.3,490.8ZM224.5,490.8L224.8,490.5L225.1,490.2L225.5,490.2L225.8,490.6L226.2,490.6L226.4,490.8ZM227.0,490.8L227.2,490.6L227.5,490.8ZM227.7,490.8L227.9,490.6L228.2,490.8ZM229.1,490.8L229.3,490.6L229.6,490.8ZM230.5,490.8L230.7,490.7L231.0,490.8ZM231.2,490.8L231.4,490.6L231.7,490.8ZM234.3,490.8L234.6,490.6L234.8,490.8ZM235.4,490.8L235.6,490.6L235.9,490.8Z" fill="#e41a1a" stroke="none"/>
<line x1="307.90" y1="367.10" x2="397.90" y2="367.10" stroke="#8fb59a" stroke-width="0.7" />
<text x="309.30" y="358.80" font-size="2.4" fill="#9a9a9a"  stroke="#9a9a9a" stroke-width="0.14">[0 - 1500]</text>
<path d="M308.6,367.1L308.8,366.8L309.1,367.1ZM310.0,367.1L310.2,367.0L310.6,366.8L310.9,366.9L311.2,367.1ZM311.4,367.1L311.6,367.0L311.9,367.1ZM313.1,367.1L313.4,367.0L313.6,367.1ZM315.9,367.1L316.2,366.9L316.5,366.9L316.8,367.1ZM318.7,367.1L319.0,366.8L319.3,366.9L319.7,367.0L320.0,366.8L320.4,366.5L320.7,366.1L321.1,365.8L321.4,365.5L321.8,365.2L322.1,364.9L322.5,364.4L322.8,363.9L323.2,363.4L323.5,362.9L323.9,362.4L324.2,362.3L324.6,362.7L324.9,363.3L325.3,363.7L325.6,364.2L326.0,364.8L326.3,365.4L326.7,365.7L327.0,365.9L327.4,366.2L327.7,366.5L328.1,366.8L328.3,367.1ZM332.4,367.1L332.6,366.9L333.0,367.0L333.2,367.1ZM334.5,367.1L334.7,366.9L335.1,366.9L335.3,367.1ZM335.5,367.1L335.8,366.9L336.0,367.1ZM336.2,367.1L336.5,366.9L336.7,367.1ZM337.6,367.1L337.9,366.9L338.1,367.1ZM338.7,367.1L338.9,366.9L339.3,366.8L339.6,366.7L340.0,366.7L340.3,366.7L340.7,366.8L341.0,366.9L341.3,367.1ZM343.2,367.1L343.5,366.8L343.7,367.1ZM344.3,367.1L344.5,367.0L344.8,367.1ZM345.0,367.1L345.2,367.0L345.5,367.1ZM347.1,367.1L347.3,366.9L347.6,367.1ZM349.2,367.1L349.4,366.9L349.7,367.1ZM350.6,367.1L350.8,367.0L351.2,366.9L351.5,366.8L351.9,366.7L352.2,366.7L352.6,366.8L352.9,366.9L353.3,367.0L353.5,367.1ZM355.5,367.1L355.7,366.9L356.0,367.1ZM356.2,367.1L356.4,366.9L356.7,367.1ZM362.1,367.1L362.4,366.9L362.7,367.0L363.0,367.1ZM368.4,367.1L368.7,366.8L368.9,367.1ZM369.5,367.1L369.7,366.8L370.0,367.1ZM371.2,367.1L371.5,367.0L371.7,367.1ZM373.0,367.1L373.2,367.0L373.5,367.1ZM374.4,367.1L374.6,367.0L374.9,367.1ZM376.8,367.1L377.1,366.9L377.3,367.1ZM378.9,367.1L379.2,366.8L379.5,366.9L379.9,367.0L380.2,366.8L380.5,367.1ZM381.4,367.1L381.6,367.0L381.9,367.1ZM383.8,367.1L384.1,366.9L384.4,366.9L384.7,367.1ZM384.9,367.1L385.1,366.8L385.5,366.5L385.8,366.3L386.2,366.3L386.5,366.5L386.9,366.8L387.2,367.0L387.5,367.1ZM388.0,367.1L388.3,366.9L388.5,367.1ZM389.1,367.1L389.3,366.9L389.6,367.1ZM396.4,367.1L396.7,367.0L396.9,367.1Z" fill="#238a3a" stroke="none"/>
<line x1="307.90" y1="378.20" x2="397.90" y2="378.20" stroke="#8fb59a" stroke-width="0.7" />
<text x="309.30" y="369.90" font-size="2.4" fill="#9a9a9a"  stroke="#9a9a9a" stroke-width="0.14">[0 - 1500]</text>
<path d="M311.0,378.2L311.3,378.0L311.5,378.2ZM312.1,378.2L312.3,378.0L312.6,378.2ZM313.1,378.2L313.4,378.0L313.6,378.2ZM313.8,378.2L314.1,378.0L314.4,378.0L314.7,378.2ZM318.0,378.2L318.3,378.1L318.5,378.2ZM319.4,378.2L319.7,378.1L319.9,378.2ZM320.8,378.2L321.1,378.0L321.4,377.9L321.8,377.5L322.1,377.2L322.5,376.9L322.8,376.9L323.2,376.7L323.5,376.3L323.9,375.6L324.2,375.3L324.6,375.5L324.9,376.1L325.3,376.5L325.6,376.8L326.0,377.0L326.3,377.4L326.7,377.8L327.0,378.1L327.3,378.2ZM329.6,378.2L329.8,378.0L330.1,378.2ZM333.1,378.2L333.3,378.0L333.6,378.2ZM334.1,378.2L334.4,377.9L334.6,378.2ZM335.5,378.2L335.8,377.9L336.1,377.9L336.4,378.2ZM338.3,378.2L338.6,378.0L338.9,378.1L339.3,378.0L339.6,377.9L340.0,377.9L340.3,377.9L340.7,378.0L341.0,378.1L341.3,378.2ZM341.8,378.2L342.1,377.9L342.3,378.2ZM347.8,378.2L348.0,377.9L348.4,378.0L348.6,378.2ZM349.5,378.2L349.8,378.0L350.0,378.2ZM350.6,378.2L350.8,378.0L351.1,378.2ZM351.6,378.2L351.9,378.0L352.1,378.2ZM352.7,378.2L352.9,378.0L353.2,378.2ZM353.4,378.2L353.6,378.1L353.9,378.2ZM354.1,378.2L354.3,378.1L354.6,378.2ZM355.5,378.2L355.7,378.0L356.0,378.2ZM356.9,378.2L357.1,377.9L357.5,377.9L357.7,378.2ZM360.7,378.2L361.0,378.0L361.2,378.2ZM362.8,378.2L363.1,377.9L363.3,378.2ZM363.9,378.2L364.1,378.0L364.5,378.0L364.8,377.9L365.2,377.9L365.5,377.9L365.9,378.0L366.1,378.2ZM368.8,378.2L369.0,378.0L369.3,378.2ZM373.0,378.2L373.2,377.9L373.5,378.2ZM373.7,378.2L373.9,377.9L374.2,378.2ZM375.1,378.2L375.3,378.0L375.7,377.9L375.9,378.2ZM377.2,378.2L377.4,378.0L377.7,378.2ZM378.9,378.2L379.2,377.9L379.4,378.2ZM380.0,378.2L380.2,378.1L380.5,378.2ZM380.7,378.2L380.9,377.9L381.2,378.2ZM381.7,378.2L382.0,378.1L382.2,378.2ZM383.1,378.2L383.4,378.0L383.7,378.1L384.0,378.2ZM384.2,378.2L384.4,378.0L384.7,378.2ZM386.3,378.2L386.5,378.0L386.8,378.2ZM388.0,378.2L388.3,378.0L388.5,378.2ZM388.7,378.2L389.0,378.0L389.2,378.2ZM389.8,378.2L390.0,377.9L390.3,378.2ZM390.5,378.2L390.7,377.9L391.1,378.0L391.3,378.2ZM391.5,378.2L391.8,378.0L392.0,378.2ZM392.2,378.2L392.5,378.0L392.7,378.2Z" fill="#238a3a" stroke="none"/>
<line x1="307.90" y1="389.40" x2="397.90" y2="389.40" stroke="#8fb59a" stroke-width="0.7" />
<text x="309.30" y="381.10" font-size="2.4" fill="#9a9a9a"  stroke="#9a9a9a" stroke-width="0.14">[0 - 1500]</text>
<path d="M308.9,389.4L309.2,389.3L309.4,389.4ZM316.6,389.4L316.9,389.2L317.1,389.4ZM317.3,389.4L317.6,389.2L317.9,389.2L318.3,389.3L318.5,389.4ZM320.5,389.4L320.7,389.2L321.1,389.0L321.4,388.7L321.8,388.5L322.1,388.4L322.5,388.6L322.8,388.7L323.2,388.6L323.5,388.2L323.9,387.6L324.2,387.4L324.6,387.5L324.9,387.9L325.3,388.2L325.6,388.3L326.0,388.4L326.3,388.7L326.7,389.0L327.0,389.2L327.3,389.4ZM329.9,389.4L330.2,389.3L330.4,389.4ZM333.8,389.4L334.0,389.3L334.3,389.4ZM338.7,389.4L338.9,389.3L339.3,389.2L339.6,389.1L340.0,389.1L340.3,389.1L340.7,389.2L341.0,389.3L341.3,389.4ZM342.5,389.4L342.8,389.2L343.0,389.4ZM347.4,389.4L347.7,389.2L347.9,389.4ZM348.5,389.4L348.7,389.2L349.0,389.4ZM349.9,389.4L350.1,389.2L350.4,389.4ZM352.3,389.4L352.6,389.2L352.8,389.4ZM356.2,389.4L356.4,389.3L356.8,389.2L357.0,389.4ZM357.9,389.4L358.2,389.2L358.4,389.4ZM358.6,389.4L358.9,389.2L359.2,389.2L359.6,389.1L359.9,389.1L360.3,389.1L360.6,389.2L361.0,389.2L361.2,389.4ZM365.6,389.4L365.9,389.3L366.1,389.4ZM367.4,389.4L367.6,389.2L367.9,389.4ZM369.1,389.4L369.4,389.2L369.7,389.2L370.0,389.4ZM375.1,389.4L375.3,389.3L375.6,389.4ZM376.1,389.4L376.4,389.3L376.6,389.4ZM383.1,389.4L383.4,389.2L383.7,389.2L384.0,389.4ZM385.6,389.4L385.8,389.2L386.1,389.4ZM386.6,389.4L386.9,389.2L387.1,389.4ZM394.3,389.4L394.6,389.3L394.8,389.4ZM397.1,389.4L397.4,389.2L397.7,389.2L398.0,389.4Z" fill="#238a3a" stroke="none"/>
<line x1="307.90" y1="400.60" x2="397.90" y2="400.60" stroke="#777777" stroke-width="0.7" />
<text x="309.30" y="392.30" font-size="2.4" fill="#9a9a9a"  stroke="#9a9a9a" stroke-width="0.14">[0 - 1500]</text>
<path d="M308.6,400.6L308.8,399.7L309.1,400.6ZM310.7,400.6L310.9,400.0L311.3,400.2L311.6,400.0L312.0,399.7L312.3,399.3L312.7,399.3L313.0,399.5L313.4,399.7L313.7,399.8L314.1,399.7L314.4,399.4L314.8,399.2L315.1,399.1L315.5,399.4L315.8,399.7L316.2,399.7L316.5,400.0L316.9,399.9L317.2,399.6L317.6,399.6L317.9,399.5L318.3,399.6L318.6,399.7L319.0,400.0L319.3,400.2L319.7,400.3L320.0,400.2L320.4,399.7L320.7,399.1L321.1,398.5L321.4,398.0L321.8,396.8L322.1,396.6L322.5,396.7L322.8,397.1L323.2,397.5L323.5,397.5L323.9,397.8L324.2,397.4L324.6,397.2L324.9,396.8L325.3,397.4L325.6,398.2L326.0,399.1L326.3,399.2L326.7,399.0L327.0,398.1L327.4,398.3L327.7,398.7L328.1,398.8L328.4,398.5L328.8,398.1L329.1,398.5L329.5,398.6L329.8,398.8L330.2,399.2L330.5,399.5L330.9,399.8L331.2,399.6L331.6,399.8L331.9,400.3L332.2,400.6ZM333.1,400.6L333.3,399.6L333.7,400.3L333.9,400.6ZM334.1,400.6L334.4,399.9L334.6,400.6ZM335.2,400.6L335.4,400.4L335.8,400.2L336.1,399.7L336.5,399.2L336.8,398.8L337.2,398.8L337.5,398.9L337.9,399.0L338.2,398.7L338.6,397.2L338.9,396.0L339.3,395.5L339.6,396.8L340.0,397.4L340.3,397.7L340.7,398.1L341.0,398.1L341.4,398.3L341.7,398.3L342.1,398.7L342.4,398.6L342.8,398.5L343.1,398.3L343.5,398.3L343.8,398.4L344.2,398.3L344.5,398.1L344.9,397.9L345.2,398.2L345.6,398.3L345.9,398.1L346.3,397.7L346.6,397.7L347.0,398.6L347.3,399.2L347.7,399.5L348.0,399.4L348.4,398.8L348.7,398.1L349.1,396.4L349.4,396.3L349.8,396.4L350.1,396.3L350.5,396.0L350.8,395.6L351.2,397.1L351.5,397.0L351.9,397.2L352.2,395.9L352.6,396.2L352.9,396.5L353.3,397.6L353.6,397.9L354.0,398.1L354.3,397.8L354.7,398.2L355.0,398.9L355.4,399.6L355.7,400.1L356.1,400.4L356.4,400.1L356.7,400.6ZM358.3,400.6L358.5,400.2L358.9,400.0L359.2,400.4L359.6,400.2L359.9,399.9L360.3,399.5L360.6,399.0L361.0,399.1L361.3,399.5L361.7,399.7L362.0,400.2L362.4,400.0L362.6,400.6ZM364.2,400.6L364.5,400.4L364.8,400.1L365.2,399.5L365.5,398.8L365.9,398.6L366.2,398.3L366.6,398.1L366.9,397.4L367.3,397.1L367.6,397.0L368.0,397.3L368.3,397.5L368.7,397.5L369.0,397.3L369.4,397.5L369.7,397.7L370.1,397.6L370.4,397.8L370.8,398.2L371.1,399.4L371.5,399.9L371.8,400.3L372.2,400.4L372.5,400.4L372.9,400.2L373.2,399.8L373.6,399.3L373.9,399.1L374.3,399.1L374.6,399.2L375.0,399.3L375.3,398.5L375.7,397.9L376.0,397.6L376.4,398.6L376.7,399.0L377.1,399.2L377.4,398.7L377.8,398.4L378.1,398.3L378.5,399.0L378.8,399.2L379.2,399.1L379.5,398.5L379.9,398.1L380.2,398.1L380.6,398.8L380.9,399.1L381.3,399.1L381.6,398.9L382.0,398.7L382.3,398.8L382.7,398.8L383.0,399.0L383.4,399.0L383.7,398.8L384.1,398.8L384.4,399.2L384.8,399.8L385.1,399.9L385.5,399.6L385.8,399.9L386.1,400.6ZM387.7,400.6L387.9,400.5L388.3,400.3L388.6,400.0L389.0,399.5L389.3,399.4L389.7,399.5L390.0,399.9L390.4,399.7L390.7,400.4L391.1,400.1L391.3,400.6ZM392.6,400.6L392.8,400.2L393.1,400.6ZM393.3,400.6L393.5,400.3L393.9,400.0L394.2,399.7L394.6,399.4L394.9,399.4L395.3,399.8L395.6,399.8L396.0,399.5L396.2,400.6ZM396.4,400.6L396.7,399.6L396.9,400.6ZM397.1,400.6L397.4,400.5L397.7,399.8L398.0,400.6Z" fill="#111111" stroke="none"/>
<line x1="307.90" y1="411.90" x2="397.90" y2="411.90" stroke="#777777" stroke-width="0.7" />
<text x="309.30" y="403.60" font-size="2.4" fill="#9a9a9a"  stroke="#9a9a9a" stroke-width="0.14">[0 - 1500]</text>
<path d="M307.9,411.9L308.1,411.1L308.5,411.3L308.8,411.0L309.1,411.9ZM310.7,411.9L310.9,411.6L311.3,411.4L311.6,410.9L312.0,410.3L312.3,410.1L312.7,409.8L313.0,409.5L313.4,408.6L313.7,408.0L314.1,407.6L314.4,407.8L314.8,408.2L315.1,408.4L315.5,408.9L315.8,408.8L316.2,408.7L316.5,407.4L316.9,407.1L317.2,407.3L317.6,408.7L317.9,409.1L318.3,409.2L318.6,408.4L319.0,408.1L319.3,407.8L319.7,407.2L320.0,407.1L320.4,407.4L320.7,408.4L321.1,408.8L321.4,409.2L321.8,409.3L322.1,409.4L322.5,408.9L322.8,408.7L323.2,408.3L323.5,408.0L323.9,407.6L324.2,407.6L324.6,407.8L324.9,408.6L325.3,409.5L325.6,410.0L326.0,409.5L326.3,408.9L326.7,408.5L327.0,409.3L327.4,409.8L327.7,410.3L328.1,410.3L328.4,410.3L328.8,410.4L329.1,410.3L329.5,410.2L329.8,409.8L330.2,409.7L330.5,409.8L330.9,410.3L331.2,411.0L331.6,411.5L331.9,411.7L332.2,411.9ZM333.4,411.9L333.7,410.9L333.9,411.9ZM335.2,411.9L335.4,411.6L335.8,411.4L336.1,411.1L336.5,411.0L336.8,411.1L337.2,411.3L337.5,411.5L337.9,411.5L338.2,411.3L338.6,411.0L338.9,410.6L339.3,410.5L339.6,410.6L340.0,411.1L340.3,411.5L340.7,411.7L340.9,411.9ZM341.8,411.9L342.1,410.6L342.3,411.9ZM342.9,411.9L343.1,411.4L343.4,411.9ZM343.6,411.9L343.8,411.7L344.2,411.5L344.5,411.0L344.9,410.3L345.2,409.6L345.6,409.2L345.9,409.0L346.3,408.7L346.6,408.3L347.0,407.0L347.3,407.1L347.7,407.5L348.0,408.3L348.4,408.4L348.7,408.4L349.1,407.8L349.4,407.6L349.8,407.2L350.1,407.3L350.5,407.5L350.8,407.7L351.2,407.8L351.5,407.7L351.9,407.8L352.2,407.9L352.6,407.7L352.9,407.7L353.3,407.6L353.6,408.7L354.0,409.8L354.3,410.2L354.7,410.0L355.0,409.6L355.4,409.8L355.7,410.1L356.1,410.7L356.4,411.2L356.8,411.6L357.0,411.9ZM357.9,411.9L358.2,411.5L358.4,411.9ZM360.0,411.9L360.3,411.5L360.6,410.7L361.0,411.5L361.3,411.7L361.7,410.7L362.0,411.2L362.4,411.0L362.7,411.2L363.1,411.3L363.4,411.5L363.8,411.6L364.1,411.0L364.5,411.3L364.8,411.0L365.2,410.7L365.5,411.1L365.9,411.3L366.2,410.6L366.6,410.9L366.9,411.1L367.3,411.2L367.6,411.3L368.0,411.5L368.3,411.7L368.6,411.9ZM370.5,411.9L370.8,411.7L371.1,411.4L371.5,410.8L371.8,410.1L372.2,409.8L372.5,409.5L372.9,409.4L373.2,408.4L373.6,407.7L373.9,407.2L374.3,408.3L374.6,408.9L375.0,409.5L375.3,409.6L375.7,409.1L376.0,408.7L376.4,407.8L376.7,407.6L377.1,407.3L377.4,407.6L377.8,407.7L378.1,408.0L378.5,407.4L378.8,407.5L379.2,407.5L379.5,407.6L379.9,407.3L380.2,407.0L380.6,407.4L380.9,407.5L381.3,407.8L381.6,407.8L382.0,407.9L382.3,408.4L382.7,409.4L383.0,409.8L383.4,409.9L383.7,409.6L384.1,409.7L384.4,410.2L384.8,410.8L385.1,410.9L385.5,411.7L385.8,411.0L386.1,411.9ZM387.0,411.9L387.2,411.1L387.6,411.5L387.9,411.2L388.3,411.0L388.6,411.1L389.0,411.3L389.3,411.5L389.7,411.7L389.9,411.9ZM390.5,411.9L390.7,411.7L391.0,411.9ZM391.2,411.9L391.4,411.6L391.7,411.9ZM392.6,411.9L392.8,410.7L393.1,411.9ZM394.0,411.9L394.2,411.0L394.5,411.9ZM396.8,411.9L397.0,411.5L397.3,411.9ZM397.5,411.9L397.7,411.7L398.0,411.9Z" fill="#111111" stroke="none"/>
<line x1="307.90" y1="423.10" x2="397.90" y2="423.10" stroke="#777777" stroke-width="0.7" />
<text x="309.30" y="414.80" font-size="2.4" fill="#9a9a9a"  stroke="#9a9a9a" stroke-width="0.14">[0 - 1500]</text>
<path d="M308.9,423.1L309.2,422.5L309.4,423.1ZM309.6,423.1L309.9,422.7L310.1,423.1ZM310.7,423.1L310.9,422.5L311.3,422.8L311.6,422.6L312.0,422.6L312.3,422.6L312.7,422.7L313.0,422.9L313.3,423.1ZM314.5,423.1L314.8,423.0L315.1,422.8L315.5,422.5L315.8,422.4L316.2,422.4L316.5,422.6L316.9,422.7L317.2,422.8L317.6,422.8L317.9,422.7L318.3,422.6L318.6,422.5L319.0,422.6L319.3,422.8L319.7,422.9L319.9,423.1ZM321.5,423.1L321.8,422.9L322.1,422.6L322.5,422.2L322.8,421.7L323.2,421.4L323.5,421.1L323.9,420.8L324.2,420.5L324.6,420.3L324.9,420.2L325.3,420.6L325.6,420.9L326.0,421.6L326.3,422.1L326.7,422.5L327.0,422.8L327.3,423.1ZM328.2,423.1L328.4,422.8L328.7,423.1ZM329.6,423.1L329.8,422.8L330.2,422.5L330.5,422.7L330.9,422.6L331.2,422.5L331.6,422.7L331.9,422.8L332.3,423.0L332.5,423.1ZM333.1,423.1L333.3,422.7L333.7,422.6L333.9,423.1ZM334.5,423.1L334.7,422.8L335.0,423.1ZM335.9,423.1L336.1,422.9L336.5,422.8L336.8,422.6L337.2,422.4L337.5,422.3L337.9,422.4L338.2,422.6L338.6,422.7L338.9,422.7L339.3,422.4L339.6,422.2L340.0,422.1L340.3,422.2L340.7,422.2L341.0,422.6L341.4,422.8L341.7,422.8L342.1,422.6L342.4,422.3L342.8,422.2L343.1,422.2L343.5,422.4L343.8,422.5L344.2,422.7L344.5,422.8L344.9,422.7L345.2,422.4L345.6,422.1L345.9,421.7L346.3,421.7L346.6,422.1L347.0,422.5L347.3,422.8L347.7,422.8L348.0,422.7L348.4,422.5L348.7,422.3L349.1,422.3L349.4,422.4L349.8,422.6L350.1,422.7L350.5,422.7L350.8,422.5L351.2,422.5L351.5,422.4L351.9,422.4L352.2,422.6L352.6,422.8L352.9,422.9L353.3,422.7L353.6,422.8L354.0,422.6L354.2,423.1ZM355.5,423.1L355.7,422.8L356.0,423.1ZM356.9,423.1L357.1,422.9L357.5,422.7L357.8,422.6L358.2,422.6L358.5,422.6L358.9,422.7L359.1,423.1ZM359.7,423.1L359.9,422.7L360.3,422.5L360.5,423.1ZM360.7,423.1L361.0,422.7L361.3,422.6L361.6,423.1ZM364.6,423.1L364.8,422.9L365.2,422.7L365.5,422.4L365.9,422.2L366.2,422.3L366.6,422.4L366.9,422.7L367.3,422.9L367.5,423.1ZM368.1,423.1L368.3,422.7L368.6,423.1ZM368.8,423.1L369.0,422.8L369.4,422.5L369.7,422.3L370.1,422.4L370.4,422.5L370.8,422.7L371.1,422.5L371.4,423.1ZM372.6,423.1L372.9,422.9L373.2,422.6L373.6,422.5L373.9,422.3L374.3,422.4L374.6,422.6L375.0,422.8L375.3,423.0L375.6,423.1ZM376.5,423.1L376.7,423.0L377.1,422.7L377.4,422.5L377.8,422.3L378.1,422.3L378.5,422.6L378.8,422.7L379.2,422.9L379.4,423.1ZM380.0,423.1L380.2,422.5L380.5,423.1ZM380.7,423.1L380.9,422.8L381.3,422.6L381.6,422.3L382.0,422.2L382.3,422.3L382.7,422.6L383.0,422.8L383.3,423.1ZM383.5,423.1L383.7,422.7L384.1,423.0L384.4,423.0L384.8,422.6L385.1,422.5L385.5,422.2L385.8,422.2L386.2,422.3L386.5,422.6L386.9,422.9L387.1,423.1ZM388.0,423.1L388.3,422.9L388.5,423.1ZM389.4,423.1L389.7,423.0L389.9,423.1ZM390.8,423.1L391.1,422.8L391.4,422.7L391.8,422.6L392.1,422.6L392.5,422.6L392.8,422.6L393.1,423.1ZM396.1,423.1L396.3,422.7L396.6,423.1ZM396.8,423.1L397.0,422.6L397.3,423.1Z" fill="#111111" stroke="none"/>
<line x1="307.90" y1="434.40" x2="397.90" y2="434.40" stroke="#b8b07a" stroke-width="0.7" />
<text x="309.30" y="426.10" font-size="2.4" fill="#9a9a9a"  stroke="#9a9a9a" stroke-width="0.14">[0 - 1500]</text>
<path d="M310.7,434.4L310.9,434.2L311.3,434.2L311.5,434.4ZM312.8,434.4L313.0,434.2L313.3,434.4ZM313.5,434.4L313.7,434.2L314.0,434.4ZM318.4,434.4L318.6,434.2L318.9,434.4ZM319.4,434.4L319.7,434.3L320.0,434.1L320.4,433.7L320.7,433.2L321.1,432.6L321.4,432.2L321.8,432.0L322.1,431.9L322.5,431.6L322.8,430.9L323.2,430.0L323.5,429.3L323.9,429.2L324.2,429.5L324.6,430.0L324.9,430.5L325.3,430.9L325.6,431.4L326.0,432.1L326.3,432.8L326.7,433.5L327.0,434.0L327.4,434.2L327.6,434.4ZM327.8,434.4L328.1,434.2L328.4,434.2L328.7,434.4ZM329.2,434.4L329.5,434.3L329.7,434.4ZM330.3,434.4L330.5,434.2L330.9,434.2L331.1,434.4ZM331.3,434.4L331.6,434.3L331.8,434.4ZM332.4,434.4L332.6,434.3L332.9,434.4ZM333.1,434.4L333.3,434.2L333.7,434.2L333.9,434.4ZM335.5,434.4L335.8,434.2L336.0,434.4ZM340.8,434.4L341.0,434.2L341.3,434.4ZM341.8,434.4L342.1,434.2L342.3,434.4ZM348.5,434.4L348.7,434.2L349.0,434.4ZM349.5,434.4L349.8,434.1L350.1,433.9L350.5,433.4L350.8,432.9L351.2,432.5L351.5,432.2L351.9,432.3L352.2,432.6L352.6,433.2L352.9,433.6L353.3,434.0L353.6,434.2L354.0,434.2L354.2,434.4ZM354.8,434.4L355.0,434.2L355.3,434.4ZM355.8,434.4L356.1,434.3L356.3,434.4ZM356.9,434.4L357.1,434.2L357.4,434.4ZM359.0,434.4L359.2,434.3L359.6,434.2L359.9,434.2L360.2,434.4ZM361.1,434.4L361.3,434.2L361.6,434.4ZM364.9,434.4L365.2,434.2L365.4,434.4ZM366.0,434.4L366.2,434.2L366.5,434.4ZM366.7,434.4L366.9,434.2L367.3,434.3L367.6,434.2L367.9,434.4ZM369.5,434.4L369.7,434.2L370.0,434.4ZM374.4,434.4L374.6,434.2L374.9,434.4ZM377.2,434.4L377.4,434.2L377.7,434.4ZM380.7,434.4L380.9,434.3L381.3,434.1L381.6,433.8L382.0,433.3L382.3,432.8L382.7,432.4L383.0,432.2L383.4,432.4L383.7,432.8L384.1,433.3L384.4,433.8L384.8,434.1L385.1,434.3L385.4,434.4ZM388.7,434.4L389.0,434.2L389.2,434.4ZM390.5,434.4L390.7,434.2L391.1,434.2L391.4,434.2L391.7,434.4ZM393.6,434.4L393.9,434.2L394.1,434.4ZM396.1,434.4L396.3,434.3L396.6,434.4Z" fill="#666c1a" stroke="none"/>
<line x1="307.90" y1="445.80" x2="397.90" y2="445.80" stroke="#b8b07a" stroke-width="0.7" />
<text x="309.30" y="437.50" font-size="2.4" fill="#9a9a9a"  stroke="#9a9a9a" stroke-width="0.14">[0 - 1500]</text>
<path d="M309.6,445.8L309.9,445.6L310.1,445.8ZM313.1,445.8L313.4,445.6L313.6,445.8ZM313.8,445.8L314.1,445.6L314.3,445.8ZM318.7,445.8L319.0,445.7L319.3,445.6L319.7,445.6L320.0,445.2L320.4,444.6L320.7,443.7L321.1,442.8L321.4,442.1L321.8,441.6L322.1,440.8L322.5,439.3L322.8,436.9L323.2,436.0L323.5,436.0L323.9,436.0L324.2,436.0L324.6,436.0L324.9,437.0L325.3,438.4L325.6,439.4L326.0,440.4L326.3,441.5L326.7,442.4L327.0,443.1L327.4,443.8L327.7,444.5L328.1,445.2L328.4,445.5L328.7,445.8ZM328.9,445.8L329.1,445.6L329.4,445.8ZM330.3,445.8L330.5,445.6L330.8,445.8ZM331.0,445.8L331.2,445.7L331.6,445.6L331.9,445.6L332.2,445.8ZM334.5,445.8L334.7,445.6L335.0,445.8ZM337.3,445.8L337.5,445.6L337.8,445.8ZM338.3,445.8L338.6,445.6L338.8,445.8ZM345.0,445.8L345.2,445.7L345.5,445.8ZM346.4,445.8L346.6,445.6L346.9,445.8ZM348.8,445.8L349.1,445.5L349.4,445.2L349.8,444.5L350.1,443.6L350.5,442.5L350.8,441.4L351.2,440.3L351.5,439.5L351.9,439.6L352.2,440.6L352.6,442.3L352.9,443.9L353.3,445.0L353.6,445.5L353.9,445.8ZM354.1,445.8L354.3,445.6L354.6,445.8ZM357.6,445.8L357.8,445.7L358.1,445.8ZM358.6,445.8L358.9,445.6L359.1,445.8ZM359.3,445.8L359.6,445.6L359.8,445.8ZM360.4,445.8L360.6,445.7L360.9,445.8ZM364.6,445.8L364.8,445.7L365.1,445.8ZM366.0,445.8L366.2,445.7L366.5,445.8ZM367.0,445.8L367.3,445.6L367.5,445.8ZM368.4,445.8L368.7,445.6L368.9,445.8ZM373.0,445.8L373.2,445.6L373.5,445.8ZM375.8,445.8L376.0,445.6L376.3,445.8ZM377.5,445.8L377.8,445.6L378.0,445.8ZM378.9,445.8L379.2,445.6L379.4,445.8ZM380.0,445.8L380.2,445.6L380.5,445.8ZM380.7,445.8L380.9,445.5L381.3,445.2L381.6,444.6L382.0,443.7L382.3,442.7L382.7,441.9L383.0,441.6L383.4,441.9L383.7,442.7L384.1,443.7L384.4,444.6L384.8,445.2L385.1,445.5L385.4,445.8ZM388.4,445.8L388.6,445.7L388.9,445.8ZM389.4,445.8L389.7,445.6L390.0,445.6L390.3,445.8ZM391.2,445.8L391.4,445.6L391.8,445.6L392.0,445.8ZM393.6,445.8L393.9,445.6L394.1,445.8ZM395.4,445.8L395.6,445.6L395.9,445.8Z" fill="#666c1a" stroke="none"/>
<line x1="307.90" y1="457.00" x2="397.90" y2="457.00" stroke="#b8b07a" stroke-width="0.7" />
<text x="309.30" y="448.70" font-size="2.4" fill="#9a9a9a"  stroke="#9a9a9a" stroke-width="0.14">[0 - 1500]</text>
<path d="M307.9,457.0L308.1,456.8L308.5,456.8L308.8,456.9L309.1,457.0ZM309.3,457.0L309.5,456.8L309.8,457.0ZM311.0,457.0L311.3,456.8L311.5,457.0ZM312.8,457.0L313.0,456.9L313.3,457.0ZM313.5,457.0L313.7,456.8L314.0,457.0ZM315.9,457.0L316.2,456.8L316.4,457.0ZM318.7,457.0L319.0,456.8L319.2,457.0ZM319.4,457.0L319.7,456.8L320.0,456.5L320.4,456.0L320.7,455.2L321.1,454.4L321.4,453.8L321.8,453.5L322.1,453.0L322.5,451.9L322.8,450.2L323.2,448.4L323.5,447.2L323.9,447.2L324.2,447.4L324.6,448.7L324.9,450.1L325.3,451.1L325.6,451.9L326.0,452.7L326.3,453.6L326.7,454.4L327.0,455.0L327.4,455.5L327.7,456.1L328.1,456.5L328.4,456.8L328.7,457.0ZM328.9,457.0L329.1,456.9L329.4,457.0ZM332.0,457.0L332.3,456.8L332.5,457.0ZM335.5,457.0L335.8,456.8L336.0,457.0ZM338.3,457.0L338.6,456.8L338.8,457.0ZM340.4,457.0L340.7,456.8L340.9,457.0ZM343.9,457.0L344.2,456.8L344.5,456.8L344.8,457.0ZM348.8,457.0L349.1,456.8L349.3,457.0ZM349.5,457.0L349.8,456.8L350.1,456.5L350.5,455.9L350.8,455.1L351.2,454.3L351.5,453.8L351.9,454.0L352.2,454.6L352.6,455.4L352.9,456.2L353.3,456.6L353.6,456.9L353.9,457.0ZM356.2,457.0L356.4,456.9L356.7,457.0ZM362.8,457.0L363.1,456.8L363.3,457.0ZM363.9,457.0L364.1,456.9L364.4,457.0ZM364.9,457.0L365.2,456.8L365.4,457.0ZM366.3,457.0L366.6,456.8L366.8,457.0ZM368.8,457.0L369.0,456.8L369.3,457.0ZM370.2,457.0L370.4,456.9L370.7,457.0ZM370.9,457.0L371.1,456.8L371.4,457.0ZM372.3,457.0L372.5,456.8L372.9,456.9L373.2,456.8L373.5,457.0ZM373.7,457.0L373.9,456.8L374.2,457.0ZM375.1,457.0L375.3,456.8L375.6,457.0ZM375.8,457.0L376.0,456.9L376.3,457.0ZM378.6,457.0L378.8,456.8L379.1,457.0ZM380.7,457.0L380.9,456.8L381.3,456.5L381.6,456.1L382.0,455.4L382.3,454.6L382.7,454.0L383.0,453.8L383.4,454.0L383.7,454.6L384.1,455.4L384.4,456.1L384.8,456.5L385.1,456.8L385.4,457.0ZM389.1,457.0L389.3,456.8L389.6,457.0ZM390.1,457.0L390.4,456.8L390.6,457.0ZM390.8,457.0L391.1,456.8L391.3,457.0ZM391.9,457.0L392.1,456.8L392.4,457.0ZM392.9,457.0L393.2,456.8L393.5,456.8L393.8,457.0ZM394.7,457.0L394.9,456.8L395.2,457.0ZM397.1,457.0L397.4,456.8L397.6,457.0Z" fill="#666c1a" stroke="none"/>
<line x1="307.90" y1="468.40" x2="397.90" y2="468.40" stroke="#f08a8a" stroke-width="0.7" />
<text x="309.30" y="460.10" font-size="2.4" fill="#9a9a9a"  stroke="#9a9a9a" stroke-width="0.14">[0 - 1500]</text>
<path d="M307.9,468.4L308.1,468.2L308.5,468.2L308.7,468.4ZM309.6,468.4L309.9,468.3L310.1,468.4ZM312.1,468.4L312.3,468.1L312.7,467.9L313.0,467.8L313.4,467.9L313.7,468.1L314.0,468.4ZM314.2,468.4L314.4,468.3L314.8,468.2L315.1,468.2L315.5,468.3L315.8,468.2L316.2,468.3L316.4,468.4ZM319.4,468.4L319.7,468.2L319.9,468.4ZM320.8,468.4L321.1,468.3L321.4,468.0L321.8,467.8L322.1,467.8L322.5,467.9L322.8,468.2L323.2,468.3L323.5,468.2L323.8,468.4ZM324.3,468.4L324.6,468.3L324.8,468.4ZM326.4,468.4L326.7,468.2L326.9,468.4ZM327.5,468.4L327.7,468.2L328.0,468.4ZM328.5,468.4L328.8,468.2L329.0,468.4ZM330.3,468.4L330.5,468.2L330.8,468.4ZM333.4,468.4L333.7,468.3L333.9,468.4ZM339.7,468.4L340.0,468.2L340.2,468.4ZM340.8,468.4L341.0,468.2L341.4,468.2L341.7,468.1L342.1,468.0L342.4,468.1L342.8,468.2L343.0,468.4ZM345.0,468.4L345.2,468.3L345.6,468.1L345.9,468.0L346.3,468.0L346.6,468.2L346.9,468.4ZM349.5,468.4L349.8,468.3L350.0,468.4ZM352.0,468.4L352.2,468.2L352.6,468.1L352.9,468.0L353.3,468.0L353.6,468.1L353.9,468.4ZM355.1,468.4L355.4,468.2L355.7,468.2L356.0,468.4ZM356.5,468.4L356.8,468.2L357.0,468.4ZM358.6,468.4L358.9,468.3L359.2,468.2L359.5,468.4ZM360.7,468.4L361.0,468.2L361.3,468.2L361.7,468.2L361.9,468.4ZM362.8,468.4L363.1,468.3L363.3,468.4ZM364.6,468.4L364.8,468.2L365.1,468.4ZM365.6,468.4L365.9,468.2L366.1,468.4ZM367.4,468.4L367.6,468.2L367.9,468.4ZM369.8,468.4L370.1,468.2L370.3,468.4ZM372.3,468.4L372.5,468.2L372.8,468.4ZM377.2,468.4L377.4,468.2L377.8,468.2L378.1,468.2L378.4,468.4ZM379.6,468.4L379.9,468.2L380.2,467.8L380.6,467.3L380.9,467.0L381.3,467.1L381.6,467.4L382.0,467.7L382.3,467.6L382.7,467.1L383.0,466.3L383.4,465.9L383.7,465.9L384.1,466.6L384.4,467.1L384.8,467.2L385.1,467.4L385.5,467.7L385.8,468.1L386.1,468.4ZM386.6,468.4L386.9,468.2L387.1,468.4ZM387.3,468.4L387.6,468.2L387.8,468.4ZM388.7,468.4L389.0,468.3L389.2,468.4ZM389.8,468.4L390.0,468.3L390.3,468.4ZM390.5,468.4L390.7,468.3L391.0,468.4ZM391.2,468.4L391.4,468.3L391.7,468.4ZM391.9,468.4L392.1,468.2L392.4,468.4ZM394.7,468.4L394.9,468.3L395.2,468.4ZM396.4,468.4L396.7,468.2L396.9,468.4ZM397.1,468.4L397.4,468.2L397.6,468.4Z" fill="#e41a1a" stroke="none"/>
<line x1="307.90" y1="479.60" x2="397.90" y2="479.60" stroke="#f08a8a" stroke-width="0.7" />
<text x="309.30" y="471.30" font-size="2.4" fill="#9a9a9a"  stroke="#9a9a9a" stroke-width="0.14">[0 - 1500]</text>
<path d="M312.1,479.6L312.3,479.4L312.7,479.1L313.0,479.0L313.4,479.1L313.7,479.4L314.0,479.6ZM314.9,479.6L315.1,479.4L315.5,479.4L315.7,479.6ZM318.4,479.6L318.6,479.4L318.9,479.6ZM319.8,479.6L320.0,479.4L320.4,479.4L320.6,479.6ZM321.2,479.6L321.4,479.4L321.8,478.9L322.1,478.2L322.5,477.8L322.8,478.0L323.2,478.5L323.5,478.4L323.9,477.3L324.2,476.0L324.6,475.2L324.9,475.7L325.3,476.5L325.6,477.0L326.0,477.5L326.3,478.0L326.7,478.8L327.0,479.3L327.3,479.6ZM327.8,479.6L328.1,479.4L328.4,479.4L328.7,479.6ZM329.2,479.6L329.5,479.4L329.8,479.4L330.2,479.4L330.4,479.6ZM332.7,479.6L333.0,479.4L333.2,479.6ZM334.5,479.6L334.7,479.4L335.0,479.6ZM335.9,479.6L336.1,479.4L336.4,479.6ZM336.6,479.6L336.8,479.5L337.1,479.6ZM338.3,479.6L338.6,479.4L338.8,479.6ZM341.1,479.6L341.4,479.4L341.6,479.6ZM342.9,479.6L343.1,479.4L343.4,479.6ZM343.9,479.6L344.2,479.5L344.5,479.3L344.9,479.2L345.2,479.2L345.6,479.3L345.8,479.6ZM346.7,479.6L347.0,479.4L347.2,479.6ZM349.5,479.6L349.8,479.4L350.0,479.6ZM353.4,479.6L353.6,479.4L353.9,479.6ZM354.1,479.6L354.3,479.4L354.6,479.6ZM355.1,479.6L355.4,479.5L355.7,479.5L356.0,479.6ZM356.5,479.6L356.8,479.4L357.0,479.6ZM360.4,479.6L360.6,479.4L360.9,479.6ZM361.1,479.6L361.3,479.4L361.6,479.6ZM364.2,479.6L364.5,479.4L364.8,479.2L365.2,479.2L365.5,479.3L365.9,479.4L366.1,479.6ZM370.9,479.6L371.1,479.4L371.4,479.6ZM372.3,479.6L372.5,479.4L372.8,479.6ZM373.7,479.6L373.9,479.4L374.2,479.6ZM375.1,479.6L375.3,479.5L375.6,479.6ZM377.2,479.6L377.4,479.4L377.8,479.2L378.1,479.2L378.5,479.3L378.8,479.5L379.1,479.6ZM385.6,479.6L385.8,479.5L386.1,479.6ZM386.6,479.6L386.9,479.4L387.2,479.4L387.5,479.6ZM387.7,479.6L387.9,479.4L388.2,479.6ZM389.4,479.6L389.7,479.4L389.9,479.6ZM390.8,479.6L391.1,479.4L391.4,479.4L391.7,479.6ZM393.6,479.6L393.9,479.4L394.2,479.4L394.5,479.6Z" fill="#e41a1a" stroke="none"/>
<line x1="307.90" y1="490.80" x2="397.90" y2="490.80" stroke="#f08a8a" stroke-width="0.7" />
<text x="309.30" y="482.50" font-size="2.4" fill="#9a9a9a"  stroke="#9a9a9a" stroke-width="0.14">[0 - 1500]</text>
<path d="M308.2,490.8L308.5,490.6L308.7,490.8ZM309.3,490.8L309.5,490.6L309.8,490.8ZM312.1,490.8L312.3,490.6L312.6,490.8ZM317.3,490.8L317.6,490.6L317.8,490.8ZM318.4,490.8L318.6,490.7L318.9,490.8ZM319.4,490.8L319.7,490.4L320.0,489.9L320.4,489.5L320.7,489.4L321.1,489.8L321.4,490.1L321.8,489.8L322.1,488.9L322.5,488.1L322.8,488.0L323.2,488.2L323.5,488.5L323.9,488.6L324.2,489.0L324.6,489.7L324.9,490.4L325.2,490.8ZM325.7,490.8L326.0,490.6L326.3,490.6L326.6,490.8ZM329.6,490.8L329.8,490.6L330.2,490.2L330.5,489.9L330.9,489.9L331.2,490.3L331.6,490.6L331.9,490.6L332.3,490.7L332.5,490.8ZM335.5,490.8L335.8,490.6L336.0,490.8ZM336.9,490.8L337.2,490.6L337.5,490.5L337.9,490.3L338.2,490.3L338.6,490.5L338.9,490.7L339.2,490.8ZM340.4,490.8L340.7,490.6L340.9,490.8ZM341.1,490.8L341.4,490.5L341.7,490.4L342.1,490.3L342.4,490.4L342.8,490.6L343.0,490.8ZM343.6,490.8L343.8,490.6L344.1,490.8ZM349.2,490.8L349.4,490.6L349.7,490.8ZM350.2,490.8L350.5,490.6L350.7,490.8ZM350.9,490.8L351.2,490.6L351.4,490.8ZM351.6,490.8L351.9,490.6L352.1,490.8ZM352.3,490.8L352.6,490.6L352.8,490.8ZM355.8,490.8L356.1,490.7L356.4,490.5L356.8,490.3L357.1,490.3L357.5,490.4L357.8,490.5L358.2,490.5L358.5,490.2L358.9,490.1L359.2,490.1L359.6,490.3L359.9,490.5L360.2,490.8ZM361.4,490.8L361.7,490.6L361.9,490.8ZM365.6,490.8L365.9,490.7L366.1,490.8ZM366.3,490.8L366.6,490.6L366.8,490.8ZM367.0,490.8L367.3,490.6L367.6,490.6L367.9,490.8ZM369.5,490.8L369.7,490.6L370.1,490.6L370.3,490.8ZM373.0,490.8L373.2,490.6L373.6,490.4L373.9,490.3L374.3,490.3L374.6,490.5L374.9,490.8ZM375.1,490.8L375.3,490.6L375.6,490.8ZM376.8,490.8L377.1,490.6L377.3,490.8ZM380.0,490.8L380.2,490.7L380.6,490.5L380.9,490.3L381.3,490.4L381.6,490.5L382.0,490.6L382.3,490.5L382.7,490.2L383.0,490.1L383.4,490.2L383.7,490.5L384.0,490.8ZM387.3,490.8L387.6,490.6L387.8,490.8ZM390.5,490.8L390.7,490.7L391.1,490.6L391.3,490.8ZM392.9,490.8L393.2,490.7L393.4,490.8ZM394.3,490.8L394.6,490.6L394.8,490.8ZM395.4,490.8L395.6,490.6L395.9,490.8ZM396.4,490.8L396.7,490.6L396.9,490.8Z" fill="#e41a1a" stroke="none"/>
<line x1="402.50" y1="367.10" x2="512.10" y2="367.10" stroke="#8fb59a" stroke-width="0.7" />
<text x="403.90" y="358.80" font-size="2.4" fill="#9a9a9a"  stroke="#9a9a9a" stroke-width="0.14">[0 - 1500]</text>
<path d="M403.2,367.1L403.4,366.9L403.7,367.1ZM404.2,367.1L404.5,367.0L404.7,367.1ZM405.3,367.1L405.5,366.8L405.8,367.1ZM407.0,367.1L407.3,366.8L407.5,367.1ZM408.4,367.1L408.7,366.9L408.9,367.1ZM410.9,367.1L411.1,366.9L411.4,367.1ZM414.0,367.1L414.3,367.0L414.5,367.1ZM414.7,367.1L415.0,366.9L415.2,367.1ZM415.4,367.1L415.7,366.9L415.9,367.1ZM417.2,367.1L417.4,366.8L417.8,367.0L418.0,367.1ZM418.6,367.1L418.8,366.9L419.1,367.1ZM422.1,367.1L422.3,367.0L422.6,367.1ZM422.8,367.1L423.0,366.9L423.4,366.7L423.7,366.4L424.1,366.1L424.4,365.8L424.8,365.6L425.1,365.6L425.5,365.7L425.8,366.0L426.2,366.3L426.5,366.6L426.9,366.7L427.2,366.5L427.6,366.0L427.9,365.1L428.3,364.0L428.6,363.2L429.0,363.0L429.3,363.5L429.7,363.9L430.0,363.8L430.4,363.1L430.7,362.3L431.1,362.0L431.4,362.6L431.8,363.4L432.1,363.4L432.5,362.0L432.8,359.8L433.2,358.5L433.5,359.3L433.9,361.5L434.2,363.5L434.6,364.0L434.9,363.6L435.3,363.1L435.6,363.1L436.0,363.7L436.3,364.4L436.7,364.9L437.0,365.1L437.4,365.0L437.7,365.1L438.1,365.3L438.4,365.8L438.8,366.2L439.1,366.6L439.5,366.9L439.7,367.1ZM440.6,367.1L440.9,366.8L441.1,367.1ZM443.1,367.1L443.3,366.9L443.6,367.1ZM445.5,367.1L445.8,366.9L446.1,366.9L446.4,367.1ZM446.6,367.1L446.8,366.8L447.1,367.1ZM448.3,367.1L448.6,367.0L448.9,366.7L449.3,366.4L449.6,366.1L450.0,366.1L450.3,366.4L450.7,366.7L451.0,366.9L451.3,367.1ZM451.8,367.1L452.1,366.8L452.4,366.6L452.8,366.2L453.1,366.1L453.5,366.2L453.8,366.6L454.2,366.8L454.5,367.0L454.8,367.1ZM456.0,367.1L456.3,366.9L456.5,367.1ZM457.1,367.1L457.3,366.9L457.6,367.1ZM459.9,367.1L460.1,366.8L460.4,367.1ZM460.9,367.1L461.2,366.8L461.4,367.1ZM462.3,367.1L462.6,367.0L462.8,367.1ZM463.4,367.1L463.6,366.8L464.0,366.8L464.2,367.1ZM465.5,367.1L465.7,367.0L466.0,367.1ZM466.2,367.1L466.4,366.9L466.8,366.9L467.0,367.1ZM467.6,367.1L467.8,366.9L468.1,367.1ZM471.1,367.1L471.3,366.9L471.6,367.1ZM474.2,367.1L474.5,366.9L474.8,367.0L475.1,367.1ZM477.4,367.1L477.6,366.9L477.9,367.1ZM479.5,367.1L479.7,366.9L480.1,366.9L480.3,367.1ZM480.9,367.1L481.1,366.9L481.4,367.1ZM483.0,367.1L483.2,366.9L483.6,366.7L483.9,366.2L484.3,365.7L484.6,365.1L485.0,364.7L485.3,364.6L485.7,364.9L486.0,365.4L486.4,366.0L486.7,366.5L487.1,366.8L487.3,367.1ZM487.5,367.1L487.8,366.8L488.0,367.1ZM488.2,367.1L488.5,366.8L488.7,367.1ZM492.4,367.1L492.7,366.9L492.9,367.1ZM494.5,367.1L494.8,366.9L495.0,367.1ZM497.0,367.1L497.2,366.8L497.5,367.1ZM500.8,367.1L501.1,366.9L501.4,366.9L501.7,367.1ZM504.0,367.1L504.2,366.8L504.6,366.9L504.8,367.1ZM506.1,367.1L506.3,366.9L506.6,367.1ZM507.1,367.1L507.4,366.9L507.6,367.1ZM508.9,367.1L509.1,366.9L509.5,367.0L509.8,366.8L510.1,367.1Z" fill="#238a3a" stroke="none"/>
<line x1="402.50" y1="378.20" x2="512.10" y2="378.20" stroke="#8fb59a" stroke-width="0.7" />
<text x="403.90" y="369.90" font-size="2.4" fill="#9a9a9a"  stroke="#9a9a9a" stroke-width="0.14">[0 - 1500]</text>
<path d="M403.9,378.2L404.1,378.0L404.5,377.9L404.8,377.9L405.2,378.1L405.4,378.2ZM406.3,378.2L406.6,378.0L406.8,378.2ZM407.0,378.2L407.3,378.0L407.5,378.2ZM408.1,378.2L408.3,378.0L408.6,378.2ZM409.5,378.2L409.7,377.9L410.0,378.2ZM410.2,378.2L410.4,377.9L410.8,377.9L411.0,378.2ZM411.2,378.2L411.5,378.0L411.7,378.2ZM412.6,378.2L412.9,377.9L413.1,378.2ZM414.0,378.2L414.3,377.9L414.5,378.2ZM415.4,378.2L415.7,377.9L415.9,378.2ZM417.5,378.2L417.8,378.1L418.1,378.0L418.4,378.2ZM419.6,378.2L419.9,377.9L420.1,378.2ZM422.4,378.2L422.7,378.0L423.0,377.9L423.4,378.0L423.7,377.8L424.1,377.5L424.4,377.2L424.8,377.0L425.1,377.0L425.5,377.1L425.8,377.4L426.2,377.7L426.5,377.9L426.9,377.9L427.2,377.8L427.6,377.3L427.9,376.4L428.3,375.5L428.6,374.8L429.0,374.7L429.3,375.0L429.7,375.5L430.0,375.5L430.4,375.0L430.7,374.3L431.1,374.1L431.4,374.5L431.8,375.2L432.1,375.5L432.5,375.4L432.8,374.9L433.2,374.6L433.5,374.9L433.9,375.7L434.2,376.6L434.6,377.1L434.9,377.0L435.3,376.6L435.6,376.0L436.0,375.7L436.3,375.8L436.7,376.2L437.0,376.6L437.4,376.8L437.7,376.9L438.1,376.9L438.4,377.1L438.8,377.5L439.1,377.8L439.5,378.0L439.7,378.2ZM443.1,378.2L443.3,378.0L443.6,378.2ZM444.5,378.2L444.7,378.0L445.0,378.2ZM445.2,378.2L445.4,377.9L445.7,378.2ZM446.9,378.2L447.2,378.1L447.4,378.2ZM448.0,378.2L448.2,377.9L448.6,378.1L448.9,377.9L449.3,377.6L449.6,377.4L450.0,377.4L450.3,377.6L450.7,377.9L451.0,378.1L451.3,378.2ZM451.8,378.2L452.1,377.9L452.4,377.7L452.8,377.5L453.1,377.4L453.5,377.6L453.8,377.8L454.2,377.9L454.4,378.2ZM459.5,378.2L459.8,378.0L460.0,378.2ZM465.5,378.2L465.7,378.1L466.0,378.2ZM469.7,378.2L469.9,378.0L470.2,378.2ZM470.7,378.2L471.0,378.0L471.2,378.2ZM472.8,378.2L473.1,377.9L473.3,378.2ZM473.9,378.2L474.1,377.9L474.4,378.2ZM477.4,378.2L477.6,378.0L477.9,378.2ZM478.8,378.2L479.0,378.0L479.4,377.9L479.6,378.2ZM482.6,378.2L482.9,378.0L483.2,378.0L483.6,377.8L483.9,377.6L484.3,377.4L484.6,377.3L485.0,377.2L485.3,377.2L485.7,377.4L486.0,377.6L486.4,377.8L486.7,378.0L487.1,378.1L487.3,378.2ZM487.5,378.2L487.8,378.1L488.1,378.1L488.4,378.2ZM489.6,378.2L489.9,378.0L490.1,378.2ZM491.7,378.2L492.0,378.0L492.2,378.2ZM495.2,378.2L495.5,377.9L495.7,378.2ZM495.9,378.2L496.2,378.0L496.4,378.2ZM497.7,378.2L497.9,377.9L498.3,377.9L498.5,378.2ZM498.7,378.2L499.0,378.1L499.2,378.2ZM502.6,378.2L502.8,378.0L503.1,378.2ZM505.0,378.2L505.3,378.1L505.6,378.0L505.9,378.2ZM506.8,378.2L507.0,378.0L507.3,378.2ZM507.5,378.2L507.7,377.9L508.0,378.2ZM508.5,378.2L508.8,378.0L509.0,378.2ZM509.6,378.2L509.8,377.9L510.2,378.0L510.4,378.2ZM511.0,378.2L511.2,378.1L511.5,378.2Z" fill="#238a3a" stroke="none"/>
<line x1="402.50" y1="389.40" x2="512.10" y2="389.40" stroke="#8fb59a" stroke-width="0.7" />
<text x="403.90" y="381.10" font-size="2.4" fill="#9a9a9a"  stroke="#9a9a9a" stroke-width="0.14">[0 - 1500]</text>
<path d="M405.3,389.4L405.5,389.2L405.9,389.3L406.1,389.4ZM406.3,389.4L406.6,389.2L406.8,389.4ZM408.8,389.4L409.0,389.3L409.3,389.4ZM410.5,389.4L410.8,389.2L411.0,389.4ZM414.7,389.4L415.0,389.2L415.2,389.4ZM417.5,389.4L417.8,389.2L418.1,389.2L418.5,389.2L418.7,389.4ZM418.9,389.4L419.2,389.3L419.4,389.4ZM424.5,389.4L424.8,389.3L425.1,389.1L425.5,388.9L425.8,388.7L426.2,388.5L426.5,388.4L426.9,388.4L427.2,388.5L427.6,388.5L427.9,388.2L428.3,387.7L428.6,387.2L429.0,386.9L429.3,387.0L429.7,387.4L430.0,387.8L430.4,387.6L430.7,386.9L431.1,386.0L431.4,385.4L431.8,385.6L432.1,386.3L432.5,387.2L432.8,387.6L433.2,387.4L433.5,386.8L433.9,386.4L434.2,386.5L434.6,387.0L434.9,387.7L435.3,388.2L435.6,388.3L436.0,388.1L436.3,387.9L436.7,387.9L437.0,388.2L437.4,388.6L437.7,389.0L438.1,389.2L438.3,389.4ZM442.0,389.4L442.3,389.2L442.5,389.4ZM446.2,389.4L446.5,389.3L446.7,389.4ZM447.6,389.4L447.9,389.2L448.2,389.0L448.6,388.8L448.9,388.6L449.3,388.7L449.6,388.9L450.0,389.1L450.2,389.4ZM451.1,389.4L451.4,389.3L451.6,389.4ZM453.2,389.4L453.5,389.2L453.7,389.4ZM455.3,389.4L455.6,389.3L455.8,389.4ZM461.6,389.4L461.9,389.3L462.1,389.4ZM462.3,389.4L462.6,389.3L462.8,389.4ZM467.6,389.4L467.8,389.3L468.1,389.4ZM469.3,389.4L469.6,389.2L469.9,389.2L470.2,389.4ZM472.5,389.4L472.7,389.2L473.0,389.4ZM473.5,389.4L473.8,389.2L474.0,389.4ZM476.0,389.4L476.2,389.3L476.5,389.4ZM477.0,389.4L477.3,389.2L477.5,389.4ZM479.1,389.4L479.4,389.3L479.6,389.4ZM481.6,389.4L481.8,389.2L482.1,389.4ZM483.0,389.4L483.2,389.2L483.6,389.1L483.9,389.0L484.3,388.8L484.6,388.7L485.0,388.6L485.3,388.6L485.7,388.7L486.0,388.9L486.4,389.1L486.7,389.2L487.0,389.4ZM488.6,389.4L488.8,389.2L489.2,389.2L489.4,389.4ZM490.3,389.4L490.6,389.2L490.9,389.3L491.2,389.4ZM491.4,389.4L491.6,389.3L491.9,389.4ZM492.1,389.4L492.3,389.3L492.6,389.4ZM498.4,389.4L498.6,389.2L498.9,389.4ZM500.1,389.4L500.4,389.2L500.7,389.2L501.0,389.4ZM501.2,389.4L501.4,389.2L501.7,389.4ZM501.9,389.4L502.1,389.2L502.4,389.4ZM504.3,389.4L504.6,389.2L504.8,389.4ZM505.7,389.4L506.0,389.3L506.3,389.3L506.6,389.4ZM511.7,389.4L511.9,389.3L512.2,389.4Z" fill="#238a3a" stroke="none"/>
<line x1="402.50" y1="400.60" x2="512.10" y2="400.60" stroke="#777777" stroke-width="0.7" />
<text x="403.90" y="392.30" font-size="2.4" fill="#9a9a9a"  stroke="#9a9a9a" stroke-width="0.14">[0 - 1500]</text>
<path d="M402.8,400.6L403.1,399.5L403.3,400.6ZM403.9,400.6L404.1,400.3L404.5,400.1L404.8,400.0L405.2,400.0L405.5,400.2L405.9,400.2L406.1,400.6ZM407.0,400.6L407.3,399.6L407.6,400.2L407.9,400.6ZM409.5,400.6L409.7,399.5L410.0,400.6ZM412.6,400.6L412.9,400.5L413.2,400.4L413.6,400.0L413.9,400.1L414.3,400.1L414.6,400.2L415.0,400.4L415.3,399.6L415.7,399.6L415.9,400.6ZM416.1,400.6L416.4,399.8L416.7,400.1L417.1,400.5L417.3,400.6ZM417.5,400.6L417.8,399.7L418.0,400.6ZM418.6,400.6L418.8,400.3L419.1,400.6ZM419.6,400.6L419.9,399.5L420.2,400.4L420.6,400.1L420.9,400.1L421.3,400.1L421.5,400.6ZM421.7,400.6L422.0,400.4L422.3,400.1L422.7,399.8L423.0,399.4L423.4,399.3L423.7,399.3L424.1,399.2L424.4,398.8L424.8,398.4L425.1,398.3L425.5,398.7L425.8,399.2L426.2,399.1L426.5,398.5L426.9,398.6L427.2,398.6L427.6,398.9L427.9,398.3L428.3,397.7L428.6,397.0L429.0,397.0L429.3,397.5L429.7,398.1L430.0,398.4L430.4,398.2L430.7,398.4L431.1,399.2L431.4,399.5L431.8,400.1L432.1,400.0L432.5,399.4L432.8,398.6L433.2,397.4L433.5,397.6L433.9,398.2L434.2,398.6L434.6,398.3L434.9,397.9L435.3,398.4L435.6,398.5L436.0,398.5L436.3,398.0L436.7,398.1L437.0,398.7L437.4,399.2L437.7,399.2L438.1,398.8L438.4,398.5L438.8,398.7L439.1,399.2L439.5,399.4L439.8,399.5L440.2,399.2L440.5,399.6L440.9,399.7L441.2,400.0L441.6,400.2L441.9,400.2L442.2,400.6ZM442.4,400.6L442.6,399.9L443.0,399.9L443.2,400.6ZM443.4,400.6L443.7,399.7L444.0,400.5L444.3,400.6ZM444.8,400.6L445.1,400.3L445.4,400.1L445.8,399.8L446.1,399.7L446.5,399.9L446.8,400.2L447.2,399.7L447.4,400.6ZM448.0,400.6L448.2,400.2L448.5,400.6ZM448.7,400.6L448.9,400.3L449.2,400.6ZM449.7,400.6L450.0,400.4L450.3,400.2L450.7,400.0L451.0,399.9L451.4,400.0L451.7,399.9L452.1,399.9L452.3,400.6ZM453.2,400.6L453.5,400.0L453.7,400.6ZM453.9,400.6L454.2,399.7L454.4,400.6ZM454.6,400.6L454.9,400.4L455.2,400.1L455.6,399.8L455.9,399.6L456.3,399.7L456.6,400.0L457.0,400.2L457.2,400.6ZM457.4,400.6L457.7,400.1L457.9,400.6ZM459.5,400.6L459.8,400.3L460.0,400.6ZM460.2,400.6L460.5,399.6L460.8,399.7L461.2,400.1L461.5,399.8L461.9,399.5L462.2,399.5L462.6,399.6L462.9,399.6L463.3,400.4L463.5,400.6ZM465.5,400.6L465.7,400.4L466.0,400.6ZM466.5,400.6L466.8,400.5L467.1,400.3L467.5,400.0L467.8,399.9L468.2,399.9L468.5,399.8L468.9,400.2L469.2,399.8L469.6,400.1L469.8,400.6ZM470.7,400.6L471.0,399.6L471.2,400.6ZM471.4,400.6L471.7,400.0L471.9,400.6ZM472.5,400.6L472.7,400.5L473.1,400.0L473.4,399.9L473.8,399.6L474.1,399.7L474.5,399.9L474.8,400.2L475.2,399.5L475.4,400.6ZM476.7,400.6L476.9,399.8L477.2,400.6ZM477.7,400.6L478.0,400.0L478.2,400.6ZM478.8,400.6L479.0,399.6L479.4,400.1L479.7,399.8L480.1,399.7L480.4,400.0L480.8,399.7L481.1,400.1L481.5,399.6L481.8,399.6L482.1,400.6ZM483.0,400.6L483.2,400.2L483.5,400.6ZM483.7,400.6L483.9,400.2L484.2,400.6ZM484.4,400.6L484.6,399.7L485.0,400.4L485.3,400.1L485.7,399.5L486.0,399.3L486.4,399.5L486.7,400.0L487.1,400.3L487.4,399.8L487.7,400.6ZM489.3,400.6L489.5,400.0L489.8,400.6ZM490.0,400.6L490.2,399.8L490.5,400.6ZM490.7,400.6L490.9,399.5L491.3,400.1L491.6,399.9L492.0,399.8L492.3,399.9L492.7,400.1L493.0,400.4L493.4,400.0L493.6,400.6ZM494.2,400.6L494.4,400.4L494.8,400.0L495.0,400.6ZM495.6,400.6L495.8,400.4L496.2,400.4L496.5,399.7L496.8,400.6ZM498.0,400.6L498.3,399.7L498.6,400.1L499.0,400.3L499.3,400.1L499.7,399.8L500.0,399.6L500.4,399.9L500.7,400.2L501.1,400.4L501.4,399.6L501.8,400.3L502.0,400.6ZM502.6,400.6L502.8,400.2L503.1,400.6ZM503.3,400.6L503.5,400.0L503.9,399.8L504.1,400.6ZM504.7,400.6L504.9,400.2L505.3,400.2L505.6,400.0L506.0,399.5L506.3,400.0L506.7,399.8L507.0,400.3L507.3,400.6ZM507.5,400.6L507.7,399.8L508.1,399.8L508.3,400.6ZM508.5,400.6L508.8,400.1L509.0,400.6ZM509.6,400.6L509.8,400.5L510.2,400.3L510.5,399.8L510.9,399.9L511.2,400.0L511.6,400.1L511.9,400.4L512.2,400.6Z" fill="#111111" stroke="none"/>
<line x1="402.50" y1="411.90" x2="512.10" y2="411.90" stroke="#777777" stroke-width="0.7" />
<text x="403.90" y="403.60" font-size="2.4" fill="#9a9a9a"  stroke="#9a9a9a" stroke-width="0.14">[0 - 1500]</text>
<path d="M403.9,411.9L404.1,411.1L404.5,410.9L404.8,410.7L405.2,411.4L405.5,411.3L405.9,411.2L406.2,411.2L406.6,410.9L406.9,411.6L407.3,411.4L407.5,411.9ZM407.7,411.9L408.0,411.1L408.3,411.6L408.6,411.9ZM409.5,411.9L409.7,411.5L410.1,411.4L410.4,410.7L410.7,411.9ZM410.9,411.9L411.1,411.8L411.4,411.9ZM411.6,411.9L411.8,411.6L412.1,411.9ZM413.0,411.9L413.2,411.7L413.6,411.4L413.9,410.9L414.3,410.6L414.6,410.7L415.0,411.0L415.3,411.2L415.7,411.7L416.0,411.7L416.4,411.4L416.6,411.9ZM417.2,411.9L417.4,410.9L417.7,411.9ZM418.6,411.9L418.8,411.8L419.2,411.5L419.5,410.9L419.9,411.0L420.2,410.9L420.6,411.3L420.9,411.6L421.3,411.8L421.5,411.9ZM423.1,411.9L423.4,411.8L423.7,411.4L424.1,410.8L424.4,410.3L424.8,410.5L425.1,411.1L425.5,411.2L425.8,410.7L426.2,409.5L426.5,408.9L426.9,409.6L427.2,410.7L427.6,411.4L427.9,411.1L428.3,409.3L428.6,406.8L429.0,405.2L429.3,407.2L429.7,408.5L430.0,409.0L430.4,409.4L430.7,409.3L431.1,408.1L431.4,407.0L431.8,408.3L432.1,410.1L432.5,410.0L432.8,407.4L433.2,404.2L433.5,405.6L433.9,408.6L434.2,409.4L434.6,408.4L434.9,408.1L435.3,409.8L435.6,410.4L436.0,409.5L436.3,406.9L436.7,406.8L437.0,409.0L437.4,411.0L437.7,411.4L438.1,410.4L438.4,408.3L438.8,407.5L439.1,408.9L439.5,410.8L439.8,411.1L440.2,410.7L440.5,410.2L440.9,410.5L441.2,411.2L441.6,411.7L441.9,411.7L442.2,411.9ZM442.4,411.9L442.6,411.8L443.0,411.6L443.3,411.2L443.7,410.7L444.0,410.5L444.4,410.7L444.7,411.2L445.1,411.6L445.3,411.9ZM446.2,411.9L446.5,411.2L446.8,411.2L447.2,411.5L447.5,411.1L447.9,411.0L448.2,411.0L448.6,411.3L448.9,411.6L449.2,411.9ZM449.4,411.9L449.6,410.9L449.9,411.9ZM450.1,411.9L450.3,410.9L450.7,411.8L451.0,410.8L451.4,411.1L451.7,410.7L452.1,410.7L452.4,411.0L452.8,411.3L453.1,411.6L453.5,410.6L453.7,411.9ZM453.9,411.9L454.2,411.3L454.4,411.9ZM455.0,411.9L455.2,411.0L455.5,411.9ZM455.7,411.9L455.9,411.0L456.3,411.5L456.6,411.2L457.0,411.1L457.3,411.2L457.7,411.4L458.0,411.2L458.4,411.6L458.6,411.9ZM459.2,411.9L459.4,411.2L459.7,411.9ZM459.9,411.9L460.1,411.2L460.4,411.9ZM460.6,411.9L460.8,411.6L461.2,411.1L461.5,410.5L461.9,410.0L462.2,410.1L462.6,410.8L462.9,411.3L463.3,411.7L463.6,411.4L463.9,411.9ZM464.1,411.9L464.3,411.2L464.6,411.9ZM464.8,411.9L465.0,411.7L465.4,410.8L465.7,410.8L466.1,411.0L466.4,411.2L466.8,411.5L467.1,411.7L467.5,411.4L467.8,410.6L468.1,411.9ZM469.7,411.9L469.9,411.6L470.3,411.3L470.6,411.0L471.0,410.6L471.3,410.7L471.7,411.1L472.0,411.5L472.4,411.8L472.6,411.9ZM473.2,411.9L473.4,411.0L473.8,410.9L474.0,411.9ZM474.6,411.9L474.8,411.7L475.2,411.0L475.5,411.2L475.9,411.0L476.2,410.9L476.6,410.9L476.9,411.5L477.3,411.7L477.5,411.9ZM478.1,411.9L478.3,411.7L478.6,411.9ZM478.8,411.9L479.0,411.2L479.3,411.9ZM479.8,411.9L480.1,410.8L480.3,411.9ZM480.5,411.9L480.8,410.7L481.1,411.4L481.5,411.0L481.8,410.6L482.2,410.6L482.5,411.0L482.9,411.4L483.2,411.7L483.5,411.9ZM483.7,411.9L483.9,410.6L484.2,411.9ZM484.4,411.9L484.6,411.7L484.9,411.9ZM485.4,411.9L485.7,410.9L486.0,410.9L486.4,411.4L486.7,411.1L487.1,410.6L487.4,411.2L487.8,411.5L488.1,411.7L488.4,411.9ZM490.0,411.9L490.2,411.0L490.5,411.9ZM491.4,411.9L491.6,411.8L492.0,411.5L492.3,411.1L492.7,410.7L493.0,410.8L493.4,410.9L493.7,411.3L494.1,411.5L494.4,411.7L494.8,411.6L495.1,411.4L495.4,411.9ZM495.6,411.9L495.8,410.8L496.1,411.9ZM496.3,411.9L496.5,411.7L496.8,411.9ZM497.3,411.9L497.6,410.9L497.9,411.7L498.3,411.5L498.6,411.2L499.0,411.0L499.3,411.1L499.7,411.4L500.0,411.6L500.3,411.9ZM501.2,411.9L501.4,411.7L501.8,411.5L502.0,411.9ZM502.2,411.9L502.5,410.9L502.8,410.9L503.1,411.9ZM503.6,411.9L503.9,411.7L504.2,411.1L504.6,410.8L504.9,410.5L505.3,410.6L505.6,411.2L506.0,411.4L506.3,411.8L506.6,411.9ZM507.8,411.9L508.1,410.7L508.3,411.9ZM508.5,411.9L508.8,411.8L509.1,411.6L509.5,411.3L509.8,411.0L510.2,411.0L510.5,411.2L510.9,411.5L511.2,411.7L511.5,411.9Z" fill="#111111" stroke="none"/>
<line x1="402.50" y1="423.10" x2="512.10" y2="423.10" stroke="#777777" stroke-width="0.7" />
<text x="403.90" y="414.80" font-size="2.4" fill="#9a9a9a"  stroke="#9a9a9a" stroke-width="0.14">[0 - 1500]</text>
<path d="M403.9,423.1L404.1,422.8L404.4,423.1ZM406.0,423.1L406.2,422.5L406.5,423.1ZM408.1,423.1L408.3,422.8L408.6,423.1ZM409.1,423.1L409.4,422.7L409.7,422.8L410.1,422.7L410.3,423.1ZM410.5,423.1L410.8,422.6L411.0,423.1ZM411.2,423.1L411.5,422.6L411.7,423.1ZM411.9,423.1L412.2,422.5L412.4,423.1ZM413.0,423.1L413.2,422.8L413.5,423.1ZM413.7,423.1L413.9,422.8L414.2,423.1ZM414.4,423.1L414.6,422.5L415.0,422.8L415.2,423.1ZM415.8,423.1L416.0,422.5L416.3,423.1ZM417.5,423.1L417.8,422.9L418.0,423.1ZM418.2,423.1L418.5,422.6L418.7,423.1ZM418.9,423.1L419.2,422.5L419.5,422.8L419.9,422.7L420.2,422.8L420.6,422.8L420.9,422.6L421.3,422.5L421.6,422.7L421.9,423.1ZM424.9,423.1L425.1,422.7L425.5,422.9L425.8,422.7L426.2,422.5L426.5,422.4L426.9,422.1L427.2,422.2L427.6,422.2L427.9,422.2L428.3,422.0L428.6,421.9L429.0,422.2L429.3,422.4L429.7,422.5L430.0,422.4L430.4,422.2L430.7,421.9L431.1,421.7L431.4,421.9L431.8,422.1L432.1,422.5L432.5,422.4L432.8,422.2L433.2,422.0L433.5,421.9L433.9,422.0L434.2,422.2L434.6,422.6L434.9,422.6L435.3,422.8L435.6,422.7L436.0,422.5L436.3,422.3L436.7,422.3L437.0,422.4L437.4,422.7L437.7,422.5L438.0,423.1ZM438.9,423.1L439.1,422.5L439.5,422.7L439.7,423.1ZM441.7,423.1L441.9,422.9L442.3,422.8L442.5,423.1ZM442.7,423.1L443.0,422.9L443.2,423.1ZM443.8,423.1L444.0,422.6L444.4,422.6L444.7,422.7L445.0,423.1ZM446.6,423.1L446.8,422.9L447.1,423.1ZM447.3,423.1L447.5,422.8L447.8,423.1ZM448.7,423.1L448.9,422.7L449.2,423.1ZM451.8,423.1L452.1,422.6L452.4,422.9L452.8,422.8L453.0,423.1ZM453.2,423.1L453.5,422.6L453.7,423.1ZM454.3,423.1L454.5,422.6L454.8,423.1ZM455.7,423.1L455.9,422.9L456.2,423.1ZM457.8,423.1L458.0,422.6L458.4,422.7L458.6,423.1ZM458.8,423.1L459.1,423.0L459.4,422.8L459.8,422.7L460.1,422.7L460.5,422.8L460.8,422.9L461.1,423.1ZM462.3,423.1L462.6,422.6L462.9,422.6L463.2,423.1ZM463.4,423.1L463.6,422.9L463.9,423.1ZM465.1,423.1L465.4,422.7L465.6,423.1ZM466.2,423.1L466.4,422.7L466.7,423.1ZM470.7,423.1L471.0,422.8L471.2,423.1ZM472.8,423.1L473.1,422.8L473.3,423.1ZM474.2,423.1L474.5,422.8L474.7,423.1ZM474.9,423.1L475.2,423.0L475.5,422.6L475.9,422.9L476.1,423.1ZM476.3,423.1L476.6,422.7L476.8,423.1ZM477.0,423.1L477.3,422.6L477.5,423.1ZM478.1,423.1L478.3,422.7L478.6,423.1ZM479.1,423.1L479.4,422.8L479.7,423.0L480.1,422.9L480.3,423.1ZM481.2,423.1L481.5,423.0L481.7,423.1ZM483.7,423.1L483.9,422.5L484.3,422.9L484.6,422.8L485.0,422.7L485.3,422.5L485.7,422.8L486.0,422.7L486.3,423.1ZM490.7,423.1L490.9,422.6L491.3,422.8L491.6,422.8L491.9,423.1ZM493.1,423.1L493.4,422.7L493.6,423.1ZM497.7,423.1L497.9,422.7L498.2,423.1ZM498.7,423.1L499.0,422.8L499.3,422.7L499.6,423.1ZM500.5,423.1L500.7,422.8L501.1,422.8L501.3,423.1ZM502.2,423.1L502.5,422.8L502.7,423.1ZM503.6,423.1L503.9,423.0L504.1,423.1ZM504.7,423.1L504.9,422.5L505.3,422.6L505.5,423.1ZM505.7,423.1L506.0,422.9L506.3,422.9L506.6,423.1Z" fill="#111111" stroke="none"/>
<line x1="402.50" y1="434.40" x2="512.10" y2="434.40" stroke="#b8b07a" stroke-width="0.7" />
<text x="403.90" y="426.10" font-size="2.4" fill="#9a9a9a"  stroke="#9a9a9a" stroke-width="0.14">[0 - 1500]</text>
<path d="M403.2,434.4L403.4,434.2L403.8,434.2L404.0,434.4ZM404.9,434.4L405.2,434.2L405.5,434.2L405.9,434.2L406.1,434.4ZM410.5,434.4L410.8,434.2L411.0,434.4ZM411.9,434.4L412.2,434.2L412.4,434.4ZM412.6,434.4L412.9,434.2L413.1,434.4ZM413.3,434.4L413.6,434.3L413.8,434.4ZM414.0,434.4L414.3,434.3L414.5,434.4ZM415.4,434.4L415.7,434.2L415.9,434.4ZM416.5,434.4L416.7,434.3L417.0,434.4ZM417.9,434.4L418.1,434.2L418.4,434.4ZM418.9,434.4L419.2,434.3L419.4,434.4ZM419.6,434.4L419.9,434.2L420.1,434.4ZM420.7,434.4L420.9,434.2L421.2,434.4ZM421.7,434.4L422.0,434.2L422.2,434.4ZM425.2,434.4L425.5,434.3L425.8,434.1L426.2,433.7L426.5,433.3L426.9,433.0L427.2,432.9L427.6,433.1L427.9,433.5L428.3,433.8L428.6,433.7L429.0,433.0L429.3,431.8L429.7,430.7L430.0,430.3L430.4,430.8L430.7,431.4L431.1,431.7L431.4,431.6L431.8,431.7L432.1,431.6L432.5,430.6L432.8,429.3L433.2,428.8L433.5,429.1L433.9,429.0L434.2,428.9L434.6,429.9L434.9,431.4L435.3,432.0L435.6,431.9L436.0,431.9L436.3,432.4L436.7,433.0L437.0,433.2L437.4,433.0L437.7,432.9L438.1,433.1L438.4,433.6L438.8,434.0L439.1,434.3L439.4,434.4ZM440.6,434.4L440.9,434.3L441.2,434.2L441.5,434.4ZM443.4,434.4L443.7,434.2L443.9,434.4ZM445.5,434.4L445.8,434.3L446.0,434.4ZM450.4,434.4L450.7,434.2L450.9,434.4ZM451.8,434.4L452.1,434.3L452.3,434.4ZM455.0,434.4L455.2,434.2L455.5,434.4ZM456.0,434.4L456.3,434.3L456.6,434.2L456.9,434.4ZM464.1,434.4L464.3,434.2L464.7,434.2L464.9,434.4ZM466.9,434.4L467.1,434.2L467.4,434.4ZM467.6,434.4L467.8,434.2L468.1,434.4ZM469.3,434.4L469.6,434.2L469.8,434.4ZM472.8,434.4L473.1,434.2L473.3,434.4ZM474.6,434.4L474.8,434.2L475.1,434.4ZM475.6,434.4L475.9,434.2L476.1,434.4ZM479.5,434.4L479.7,434.2L480.0,434.4ZM481.9,434.4L482.2,434.2L482.5,434.3L482.8,434.4ZM483.0,434.4L483.2,434.3L483.5,434.4ZM484.0,434.4L484.3,434.2L484.6,434.1L485.0,433.8L485.3,433.3L485.7,432.9L486.0,433.0L486.4,433.4L486.7,433.8L487.1,434.2L487.3,434.4ZM487.5,434.4L487.8,434.2L488.0,434.4ZM488.9,434.4L489.2,434.2L489.4,434.4ZM490.0,434.4L490.2,434.2L490.5,434.4ZM491.0,434.4L491.3,434.3L491.5,434.4ZM492.4,434.4L492.7,434.2L492.9,434.4ZM493.1,434.4L493.4,434.2L493.6,434.4ZM493.8,434.4L494.1,434.2L494.3,434.4ZM495.9,434.4L496.2,434.2L496.4,434.4ZM496.6,434.4L496.9,434.2L497.2,434.3L497.6,434.2L497.8,434.4ZM502.6,434.4L502.8,434.2L503.2,434.2L503.4,434.4ZM503.6,434.4L503.9,434.2L504.1,434.4ZM505.0,434.4L505.3,434.2L505.5,434.4ZM506.1,434.4L506.3,434.2L506.6,434.4ZM506.8,434.4L507.0,434.2L507.3,434.4ZM508.9,434.4L509.1,434.2L509.5,434.2L509.8,434.3L510.1,434.4Z" fill="#666c1a" stroke="none"/>
<line x1="402.50" y1="445.80" x2="512.10" y2="445.80" stroke="#b8b07a" stroke-width="0.7" />
<text x="403.90" y="437.50" font-size="2.4" fill="#9a9a9a"  stroke="#9a9a9a" stroke-width="0.14">[0 - 1500]</text>
<path d="M402.8,445.8L403.1,445.6L403.3,445.8ZM404.9,445.8L405.2,445.6L405.4,445.8ZM409.8,445.8L410.1,445.6L410.3,445.8ZM410.9,445.8L411.1,445.6L411.5,445.6L411.7,445.8ZM412.6,445.8L412.9,445.6L413.1,445.8ZM414.4,445.8L414.6,445.6L414.9,445.8ZM416.5,445.8L416.7,445.6L417.1,445.6L417.3,445.8ZM419.3,445.8L419.5,445.7L419.8,445.8ZM425.2,445.8L425.5,445.6L425.8,445.4L426.2,444.9L426.5,444.4L426.9,443.9L427.2,443.8L427.6,444.1L427.9,444.6L428.3,445.0L428.6,444.7L429.0,443.6L429.3,441.6L429.7,439.8L430.0,439.4L430.4,440.7L430.7,442.5L431.1,442.9L431.4,441.2L431.8,438.5L432.1,437.9L432.5,440.0L432.8,442.2L433.2,441.7L433.5,438.9L433.9,436.7L434.2,437.7L434.6,440.4L434.9,442.0L435.3,442.2L435.6,442.3L436.0,443.0L436.3,444.0L436.7,444.6L437.0,444.5L437.4,444.0L437.7,443.8L438.1,444.1L438.4,444.7L438.8,445.3L439.1,445.6L439.5,445.6L439.7,445.8ZM445.9,445.8L446.1,445.6L446.4,445.8ZM448.7,445.8L448.9,445.6L449.2,445.8ZM449.4,445.8L449.6,445.7L450.0,445.6L450.2,445.8ZM451.5,445.8L451.7,445.7L452.0,445.8ZM452.2,445.8L452.4,445.6L452.7,445.8ZM453.2,445.8L453.5,445.6L453.8,445.6L454.1,445.8ZM455.3,445.8L455.6,445.6L455.8,445.8ZM457.4,445.8L457.7,445.7L457.9,445.8ZM458.5,445.8L458.7,445.6L459.1,445.6L459.3,445.8ZM459.5,445.8L459.8,445.6L460.0,445.8ZM460.9,445.8L461.2,445.6L461.4,445.8ZM463.0,445.8L463.3,445.6L463.5,445.8ZM464.8,445.8L465.0,445.6L465.3,445.8ZM466.5,445.8L466.8,445.6L467.0,445.8ZM467.9,445.8L468.2,445.6L468.5,445.7L468.8,445.8ZM469.3,445.8L469.6,445.7L469.8,445.8ZM470.0,445.8L470.3,445.7L470.5,445.8ZM472.5,445.8L472.7,445.6L473.0,445.8ZM475.6,445.8L475.9,445.6L476.1,445.8ZM482.3,445.8L482.5,445.6L482.9,445.6L483.1,445.8ZM483.3,445.8L483.6,445.6L483.8,445.8ZM484.0,445.8L484.3,445.6L484.6,445.4L485.0,444.8L485.3,444.0L485.7,443.4L486.0,443.4L486.4,444.1L486.7,444.9L487.1,445.4L487.3,445.8ZM487.9,445.8L488.1,445.6L488.4,445.8ZM491.4,445.8L491.6,445.6L491.9,445.8ZM493.5,445.8L493.7,445.6L494.0,445.8ZM496.6,445.8L496.9,445.7L497.1,445.8ZM498.0,445.8L498.3,445.6L498.6,445.7L498.9,445.8ZM500.5,445.8L500.7,445.6L501.0,445.8ZM504.3,445.8L504.6,445.6L504.8,445.8ZM508.9,445.8L509.1,445.6L509.4,445.8ZM509.6,445.8L509.8,445.6L510.1,445.8Z" fill="#666c1a" stroke="none"/>
<line x1="402.50" y1="457.00" x2="512.10" y2="457.00" stroke="#b8b07a" stroke-width="0.7" />
<text x="403.90" y="448.70" font-size="2.4" fill="#9a9a9a"  stroke="#9a9a9a" stroke-width="0.14">[0 - 1500]</text>
<path d="M402.4,457.0L402.7,456.8L402.9,457.0ZM405.3,457.0L405.5,456.9L405.8,457.0ZM406.0,457.0L406.2,456.8L406.5,457.0ZM410.9,457.0L411.1,456.9L411.4,457.0ZM412.3,457.0L412.5,456.9L412.8,457.0ZM414.4,457.0L414.6,456.9L415.0,456.8L415.2,457.0ZM415.4,457.0L415.7,456.8L415.9,457.0ZM416.5,457.0L416.7,456.8L417.0,457.0ZM417.2,457.0L417.4,456.9L417.7,457.0ZM417.9,457.0L418.1,456.8L418.4,457.0ZM420.0,457.0L420.2,456.8L420.6,456.8L420.8,457.0ZM422.1,457.0L422.3,456.8L422.6,457.0ZM424.2,457.0L424.4,456.9L424.7,457.0ZM425.2,457.0L425.5,456.9L425.8,456.7L426.2,456.3L426.5,455.9L426.9,455.6L427.2,455.5L427.6,455.7L427.9,456.1L428.3,456.4L428.6,456.2L429.0,455.3L429.3,453.8L429.7,452.3L430.0,451.9L430.4,452.5L430.7,453.4L431.1,453.7L431.4,453.7L431.8,454.1L432.1,454.8L432.5,455.0L432.8,453.7L433.2,451.3L433.5,450.0L433.9,451.3L434.2,453.8L434.6,455.2L434.9,455.2L435.3,454.7L435.6,454.5L436.0,455.0L436.3,455.7L436.7,456.1L437.0,456.0L437.4,455.7L437.7,455.5L438.1,455.7L438.4,456.2L438.8,456.6L439.1,456.9L439.5,456.8L439.7,457.0ZM441.3,457.0L441.6,456.8L441.8,457.0ZM443.1,457.0L443.3,456.8L443.7,456.8L443.9,457.0ZM445.2,457.0L445.4,456.8L445.7,457.0ZM448.0,457.0L448.2,456.8L448.6,456.9L448.8,457.0ZM450.4,457.0L450.7,456.8L450.9,457.0ZM451.5,457.0L451.7,456.8L452.0,457.0ZM453.9,457.0L454.2,456.8L454.4,457.0ZM454.6,457.0L454.9,456.8L455.1,457.0ZM456.4,457.0L456.6,456.8L456.9,457.0ZM459.5,457.0L459.8,456.8L460.0,457.0ZM461.3,457.0L461.5,456.8L461.8,457.0ZM462.0,457.0L462.2,456.8L462.5,457.0ZM463.7,457.0L464.0,456.9L464.3,456.8L464.6,457.0ZM464.8,457.0L465.0,456.9L465.3,457.0ZM465.5,457.0L465.7,456.8L466.0,457.0ZM467.2,457.0L467.5,456.8L467.7,457.0ZM468.6,457.0L468.9,456.8L469.1,457.0ZM469.7,457.0L469.9,456.8L470.2,457.0ZM475.6,457.0L475.9,456.8L476.2,456.8L476.5,457.0ZM477.0,457.0L477.3,456.8L477.5,457.0ZM478.8,457.0L479.0,456.8L479.3,457.0ZM479.8,457.0L480.1,456.8L480.3,457.0ZM484.4,457.0L484.6,456.7L485.0,456.4L485.3,455.9L485.7,455.5L486.0,455.6L486.4,456.0L486.7,456.4L487.1,456.8L487.3,457.0ZM491.4,457.0L491.6,456.8L491.9,457.0ZM492.8,457.0L493.0,456.8L493.3,457.0ZM493.5,457.0L493.7,456.8L494.0,457.0ZM494.2,457.0L494.4,456.8L494.7,457.0ZM495.2,457.0L495.5,456.9L495.7,457.0ZM498.4,457.0L498.6,456.9L498.9,457.0ZM499.1,457.0L499.3,456.8L499.6,457.0ZM500.5,457.0L500.7,456.8L501.0,457.0ZM504.7,457.0L504.9,456.9L505.2,457.0ZM509.9,457.0L510.2,456.8L510.4,457.0ZM511.3,457.0L511.6,456.8L511.8,457.0Z" fill="#666c1a" stroke="none"/>
<line x1="402.50" y1="468.40" x2="512.10" y2="468.40" stroke="#f08a8a" stroke-width="0.7" />
<text x="403.90" y="460.10" font-size="2.4" fill="#9a9a9a"  stroke="#9a9a9a" stroke-width="0.14">[0 - 1500]</text>
<path d="M403.2,468.4L403.4,468.2L403.7,468.4ZM403.9,468.4L404.1,468.2L404.4,468.4ZM404.9,468.4L405.2,468.2L405.4,468.4ZM410.2,468.4L410.4,468.2L410.8,468.2L411.0,468.4ZM413.0,468.4L413.2,468.2L413.5,468.4ZM414.4,468.4L414.6,468.2L414.9,468.4ZM415.1,468.4L415.3,468.2L415.6,468.4ZM415.8,468.4L416.0,468.3L416.4,468.2L416.6,468.4ZM418.6,468.4L418.8,468.2L419.1,468.4ZM420.0,468.4L420.2,468.2L420.5,468.4ZM422.1,468.4L422.3,468.2L422.6,468.4ZM423.1,468.4L423.4,468.2L423.6,468.4ZM424.9,468.4L425.1,468.2L425.5,468.1L425.8,467.7L426.2,467.4L426.5,467.0L426.9,466.4L427.2,466.1L427.6,465.9L427.9,465.9L428.3,465.5L428.6,465.1L429.0,464.7L429.3,464.7L429.7,465.0L430.0,465.5L430.4,465.7L430.7,465.7L431.1,465.0L431.4,465.0L431.8,465.2L432.1,465.4L432.5,464.7L432.8,463.3L433.2,461.0L433.5,460.3L433.9,460.8L434.2,462.8L434.6,463.5L434.9,463.5L435.3,463.3L435.6,463.0L436.0,463.3L436.3,463.8L436.7,464.5L437.0,465.0L437.4,465.3L437.7,465.9L438.1,466.7L438.4,467.4L438.8,467.9L439.1,468.2L439.4,468.4ZM439.6,468.4L439.8,468.2L440.1,468.4ZM443.1,468.4L443.3,468.2L443.6,468.4ZM444.8,468.4L445.1,468.2L445.3,468.4ZM445.5,468.4L445.8,468.2L446.0,468.4ZM448.7,468.4L448.9,468.2L449.2,468.4ZM450.1,468.4L450.3,468.3L450.7,468.3L450.9,468.4ZM451.8,468.4L452.1,468.2L452.3,468.4ZM452.9,468.4L453.1,468.3L453.5,468.2L453.8,468.3L454.2,468.1L454.5,468.0L454.9,467.9L455.2,468.0L455.6,468.1L455.9,468.2L456.3,468.2L456.5,468.4ZM457.8,468.4L458.0,468.2L458.3,468.4ZM459.9,468.4L460.1,468.2L460.4,468.4ZM463.4,468.4L463.6,468.3L463.9,468.4ZM466.9,468.4L467.1,468.3L467.4,468.4ZM469.7,468.4L469.9,468.2L470.2,468.4ZM470.4,468.4L470.6,468.2L470.9,468.4ZM473.2,468.4L473.4,468.2L473.7,468.4ZM475.6,468.4L475.9,468.2L476.1,468.4ZM480.5,468.4L480.8,468.2L481.0,468.4ZM484.0,468.4L484.3,468.2L484.5,468.4ZM487.5,468.4L487.8,468.2L488.0,468.4ZM489.6,468.4L489.9,468.2L490.1,468.4ZM491.7,468.4L492.0,468.2L492.2,468.4ZM492.4,468.4L492.7,468.2L492.9,468.4ZM493.8,468.4L494.1,468.2L494.3,468.4ZM496.3,468.4L496.5,468.2L496.8,468.4ZM498.4,468.4L498.6,468.2L498.9,468.4ZM501.5,468.4L501.8,468.2L502.0,468.4ZM502.2,468.4L502.5,468.3L502.7,468.4ZM505.0,468.4L505.3,468.3L505.5,468.4ZM507.8,468.4L508.1,468.3L508.4,468.3L508.7,468.4Z" fill="#e41a1a" stroke="none"/>
<line x1="402.50" y1="479.60" x2="512.10" y2="479.60" stroke="#f08a8a" stroke-width="0.7" />
<text x="403.90" y="471.30" font-size="2.4" fill="#9a9a9a"  stroke="#9a9a9a" stroke-width="0.14">[0 - 1500]</text>
<path d="M402.8,479.6L403.1,479.5L403.3,479.6ZM407.0,479.6L407.3,479.4L407.5,479.6ZM408.4,479.6L408.7,479.4L408.9,479.6ZM410.2,479.6L410.4,479.5L410.7,479.6ZM412.6,479.6L412.9,479.4L413.1,479.6ZM413.7,479.6L413.9,479.4L414.2,479.6ZM416.8,479.6L417.1,479.4L417.3,479.6ZM417.9,479.6L418.1,479.4L418.4,479.6ZM418.6,479.6L418.8,479.4L419.1,479.6ZM420.7,479.6L420.9,479.4L421.2,479.6ZM421.4,479.6L421.6,479.4L421.9,479.6ZM422.4,479.6L422.7,479.5L422.9,479.6ZM423.8,479.6L424.1,479.5L424.4,479.5L424.8,479.5L425.1,479.3L425.5,479.0L425.8,478.6L426.2,478.0L426.5,477.5L426.9,477.3L427.2,477.1L427.6,477.0L427.9,476.8L428.3,476.3L428.6,475.8L429.0,474.6L429.3,474.5L429.7,474.6L430.0,475.2L430.4,474.8L430.7,474.1L431.1,473.3L431.4,473.2L431.8,473.9L432.1,474.0L432.5,473.9L432.8,472.9L433.2,472.6L433.5,472.0L433.9,472.5L434.2,472.5L434.6,473.6L434.9,473.9L435.3,473.7L435.6,473.4L436.0,473.6L436.3,474.6L436.7,475.1L437.0,475.4L437.4,475.8L437.7,476.5L438.1,477.4L438.4,478.4L438.8,479.0L439.1,479.4L439.4,479.6ZM440.6,479.6L440.9,479.4L441.1,479.6ZM444.5,479.6L444.7,479.4L445.0,479.6ZM445.5,479.6L445.8,479.5L446.0,479.6ZM446.6,479.6L446.8,479.4L447.1,479.6ZM447.6,479.6L447.9,479.4L448.1,479.6ZM450.4,479.6L450.7,479.4L451.0,479.4L451.4,479.3L451.7,479.2L452.1,479.1L452.4,479.2L452.8,479.3L453.1,479.4L453.4,479.6ZM455.3,479.6L455.6,479.4L455.8,479.6ZM456.0,479.6L456.3,479.4L456.5,479.6ZM457.8,479.6L458.0,479.4L458.3,479.6ZM459.5,479.6L459.8,479.4L460.0,479.6ZM460.2,479.6L460.5,479.4L460.7,479.6ZM462.7,479.6L462.9,479.4L463.2,479.6ZM463.7,479.6L464.0,479.4L464.2,479.6ZM465.1,479.6L465.4,479.4L465.6,479.6ZM470.4,479.6L470.6,479.5L471.0,479.5L471.2,479.6ZM472.1,479.6L472.4,479.4L472.6,479.6ZM475.6,479.6L475.9,479.4L476.1,479.6ZM481.6,479.6L481.8,479.4L482.1,479.6ZM483.3,479.6L483.6,479.5L483.8,479.6ZM484.0,479.6L484.3,479.4L484.6,479.4L484.9,479.6ZM485.4,479.6L485.7,479.4L485.9,479.6ZM486.8,479.6L487.1,479.4L487.3,479.6ZM492.4,479.6L492.7,479.4L493.0,479.4L493.4,479.5L493.6,479.6ZM497.7,479.6L497.9,479.5L498.2,479.6ZM498.7,479.6L499.0,479.4L499.2,479.6ZM501.2,479.6L501.4,479.4L501.7,479.6ZM502.2,479.6L502.5,479.5L502.7,479.6ZM503.3,479.6L503.5,479.4L503.8,479.6ZM505.0,479.6L505.3,479.4L505.5,479.6ZM505.7,479.6L506.0,479.4L506.2,479.6ZM510.3,479.6L510.5,479.5L510.9,479.5L511.1,479.6Z" fill="#e41a1a" stroke="none"/>
<line x1="402.50" y1="490.80" x2="512.10" y2="490.80" stroke="#f08a8a" stroke-width="0.7" />
<text x="403.90" y="482.50" font-size="2.4" fill="#9a9a9a"  stroke="#9a9a9a" stroke-width="0.14">[0 - 1500]</text>
<path d="M405.6,490.8L405.9,490.6L406.1,490.8ZM406.7,490.8L406.9,490.6L407.2,490.8ZM407.7,490.8L408.0,490.6L408.2,490.8ZM410.9,490.8L411.1,490.7L411.5,490.6L411.7,490.8ZM414.4,490.8L414.6,490.7L415.0,490.7L415.3,490.6L415.7,490.3L416.0,489.8L416.4,489.4L416.7,489.1L417.1,489.2L417.4,489.7L417.8,490.1L418.1,490.5L418.4,490.8ZM419.6,490.8L419.9,490.7L420.1,490.8ZM420.3,490.8L420.6,490.6L420.9,490.5L421.3,490.3L421.6,490.3L422.0,490.4L422.3,490.6L422.6,490.8ZM423.8,490.8L424.1,490.6L424.3,490.8ZM425.6,490.8L425.8,490.6L426.2,490.6L426.5,490.4L426.9,489.9L427.2,489.3L427.6,488.9L427.9,488.7L428.3,488.5L428.6,488.0L429.0,487.0L429.3,485.6L429.7,484.2L430.0,484.2L430.4,484.4L430.7,484.9L431.1,485.4L431.4,485.5L431.8,485.7L432.1,485.9L432.5,486.6L432.8,487.1L433.2,487.1L433.5,487.1L433.9,487.1L434.2,487.4L434.6,487.8L434.9,488.2L435.3,488.5L435.6,488.2L436.0,487.8L436.3,487.1L436.7,487.3L437.0,487.8L437.4,488.7L437.7,489.0L438.1,489.3L438.4,489.6L438.8,490.0L439.1,490.3L439.5,490.6L439.7,490.8ZM441.0,490.8L441.2,490.6L441.5,490.8ZM442.0,490.8L442.3,490.6L442.5,490.8ZM442.7,490.8L443.0,490.7L443.2,490.8ZM445.2,490.8L445.4,490.7L445.8,490.6L446.0,490.8ZM446.6,490.8L446.8,490.6L447.2,490.5L447.5,490.4L447.9,490.3L448.2,490.3L448.6,490.4L448.9,490.5L449.3,490.6L449.5,490.8ZM454.3,490.8L454.5,490.6L454.8,490.8ZM455.3,490.8L455.6,490.6L455.9,490.7L456.2,490.8ZM459.2,490.8L459.4,490.6L459.7,490.8ZM460.6,490.8L460.8,490.6L461.1,490.8ZM461.6,490.8L461.9,490.7L462.1,490.8ZM464.8,490.8L465.0,490.6L465.3,490.8ZM470.0,490.8L470.3,490.6L470.5,490.8ZM472.5,490.8L472.7,490.7L473.0,490.8ZM476.0,490.8L476.2,490.6L476.5,490.8ZM477.4,490.8L477.6,490.6L477.9,490.8ZM480.2,490.8L480.4,490.6L480.7,490.8ZM485.4,490.8L485.7,490.6L486.0,490.6L486.3,490.8ZM487.9,490.8L488.1,490.6L488.4,490.8ZM489.3,490.8L489.5,490.6L489.8,490.8ZM490.0,490.8L490.2,490.6L490.5,490.8ZM492.1,490.8L492.3,490.7L492.6,490.8ZM496.3,490.8L496.5,490.6L496.8,490.8ZM500.8,490.8L501.1,490.6L501.3,490.8ZM503.3,490.8L503.5,490.7L503.8,490.8ZM504.0,490.8L504.2,490.6L504.5,490.8ZM504.7,490.8L504.9,490.6L505.2,490.8ZM506.1,490.8L506.3,490.6L506.6,490.8ZM508.9,490.8L509.1,490.6L509.4,490.8ZM510.3,490.8L510.5,490.7L510.8,490.8Z" fill="#e41a1a" stroke="none"/>
<text x="60.90" y="365.70" font-size="7.1" fill="#5d9a4a" text-anchor="end"  stroke="#5d9a4a" stroke-width="0.14">EV</text>
<text x="60.90" y="376.60" font-size="7.1" fill="#5d9a4a" text-anchor="end"  stroke="#5d9a4a" stroke-width="0.14">OE</text>
<text x="60.90" y="387.70" font-size="7.1" fill="#5d9a4a" text-anchor="end"  stroke="#5d9a4a" stroke-width="0.14">Y2A</text>
<text x="60.90" y="397.40" font-size="7.1" fill="#333" text-anchor="end"  stroke="#333" stroke-width="0.14">EV</text>
<text x="60.90" y="408.80" font-size="7.1" fill="#333" text-anchor="end"  stroke="#333" stroke-width="0.14">OE</text>
<text x="60.90" y="419.90" font-size="7.1" fill="#333" text-anchor="end"  stroke="#333" stroke-width="0.14">Y2A</text>
<text x="60.90" y="433.60" font-size="7.1" fill="#8a8238" text-anchor="end"  stroke="#8a8238" stroke-width="0.14">EV</text>
<text x="60.90" y="443.90" font-size="7.1" fill="#8a8238" text-anchor="end"  stroke="#8a8238" stroke-width="0.14">OE</text>
<text x="60.90" y="454.70" font-size="7.1" fill="#8a8238" text-anchor="end"  stroke="#8a8238" stroke-width="0.14">Y2A</text>
<text x="60.90" y="466.50" font-size="7.1" fill="#e24646" text-anchor="end"  stroke="#e24646" stroke-width="0.14">EV</text>
<text x="60.90" y="477.60" font-size="7.1" fill="#e24646" text-anchor="end"  stroke="#e24646" stroke-width="0.14">OE</text>
<text x="60.90" y="488.20" font-size="7.1" fill="#e24646" text-anchor="end"  stroke="#e24646" stroke-width="0.14">Y2A</text>
<line x1="41.50" y1="494.30" x2="125.50" y2="494.30" stroke="#a0acd4" stroke-width="0.8" />
<rect x="62.80" y="493.20" width="1.20" height="2.20" fill="#3a3aa0" />
<rect x="72.30" y="493.20" width="1.20" height="2.20" fill="#3a3aa0" />
<rect x="90.40" y="493.20" width="1.20" height="2.20" fill="#3a3aa0" />
<rect x="104.30" y="493.20" width="1.20" height="2.20" fill="#3a3aa0" />
<circle cx="105" cy="494.3" r="1.3" fill="#5050b0"/>
<line x1="129.50" y1="494.40" x2="236.00" y2="494.40" stroke="#a0acd4" stroke-width="0.8" />
<rect x="149.00" y="493.30" width="3.00" height="2.20" fill="#6a30a0" />
<rect x="323.70" y="493.40" width="3.80" height="2.20" fill="#3a2aa0" />
<line x1="401.50" y1="494.40" x2="512.50" y2="494.40" stroke="#6a6ac0" stroke-width="0.8" />
<rect x="432.60" y="492.60" width="3.60" height="3.60" fill="#1a1a8a" />
<rect x="469.00" y="492.60" width="7.50" height="3.60" fill="#1a1a8a" />
<rect x="488.00" y="492.60" width="2.80" height="3.60" fill="#1a1a8a" />
<rect x="441.00" y="493.60" width="0.80" height="1.60" fill="#3a3aa0" />
<rect x="451.00" y="493.60" width="0.80" height="1.60" fill="#3a3aa0" />
<rect x="461.00" y="493.60" width="0.80" height="1.60" fill="#3a3aa0" />
<rect x="480.00" y="493.60" width="0.80" height="1.60" fill="#3a3aa0" />
<rect x="495.00" y="493.60" width="0.80" height="1.60" fill="#3a3aa0" />
<rect x="505.00" y="493.60" width="0.80" height="1.60" fill="#3a3aa0" />
<rect x="62.20" y="357.00" width="14.60" height="135.30" fill="none" stroke="#823a70" stroke-width="1.25"/>
<rect x="90.40" y="357.00" width="26.50" height="135.30" fill="none" stroke="#823a70" stroke-width="1.25"/>
<rect x="149.60" y="356.60" width="25.90" height="136.80" fill="none" stroke="#823a70" stroke-width="1.25"/>
<rect x="188.60" y="356.60" width="11.20" height="136.80" fill="none" stroke="#823a70" stroke-width="1.25"/>
<rect x="310.80" y="356.60" width="22.10" height="136.70" fill="none" stroke="#823a70" stroke-width="1.25"/>
<rect x="420.00" y="355.80" width="22.30" height="136.70" fill="none" stroke="#823a70" stroke-width="1.25"/>
<rect x="40.90" y="356.80" width="85.40" height="154.00" fill="none" stroke="#4e5f8e" stroke-width="1.6" stroke-dasharray="2.6 1.5"/>
<rect x="128.60" y="356.80" width="108.30" height="153.70" fill="none" stroke="#4e5f8e" stroke-width="1.6" stroke-dasharray="2.6 1.5"/>
<rect x="307.10" y="356.40" width="91.60" height="153.90" fill="none" stroke="#4e5f8e" stroke-width="1.6" stroke-dasharray="2.6 1.5"/>
<rect x="401.70" y="356.20" width="111.20" height="155.00" fill="none" stroke="#4e5f8e" stroke-width="1.6" stroke-dasharray="2.6 1.5"/>
<text x="77.70" y="505.90" font-size="8.8" fill="#4a4a4a" textLength="22.0" lengthAdjust="spacingAndGlyphs"  stroke="#4a4a4a" stroke-width="0.14">LIN28B</text>
<text x="163.30" y="505.90" font-size="8.8" fill="#4a4a4a" textLength="44.3" lengthAdjust="spacingAndGlyphs"  stroke="#4a4a4a" stroke-width="0.14">ZFPM2(FOG2)</text>
<text x="352.60" y="505.80" font-size="8.8" fill="#4a4a4a" textLength="20.5" lengthAdjust="spacingAndGlyphs"  stroke="#4a4a4a" stroke-width="0.14">EPHX1</text>
<text x="454.60" y="505.00" font-size="8.8" fill="#4a4a4a" textLength="14.8" lengthAdjust="spacingAndGlyphs"  stroke="#4a4a4a" stroke-width="0.14">PTEN</text>
<text x="337.10" y="465.30" font-size="6.7" fill="#3a3a3a" textLength="53.7" lengthAdjust="spacingAndGlyphs"  stroke="#3a3a3a" stroke-width="0.14">Pausing Index: 0.4</text>
<text x="337.10" y="476.00" font-size="6.7" fill="#3a3a3a" textLength="57.1" lengthAdjust="spacingAndGlyphs"  stroke="#3a3a3a" stroke-width="0.14">Pausing Index: 12.4</text>
<text x="337.10" y="486.90" font-size="6.7" fill="#3a3a3a" textLength="53.7" lengthAdjust="spacingAndGlyphs"  stroke="#3a3a3a" stroke-width="0.14">Pausing Index: 8.8</text>
<text x="450.70" y="465.30" font-size="6.7" fill="#3a3a3a" textLength="50.9" lengthAdjust="spacingAndGlyphs"  stroke="#3a3a3a" stroke-width="0.14">Pausing Index: 19</text>
<text x="450.70" y="476.00" font-size="6.7" fill="#3a3a3a" textLength="57.3" lengthAdjust="spacingAndGlyphs"  stroke="#3a3a3a" stroke-width="0.14">Pausing Index: 48.6</text>
<text x="450.70" y="486.90" font-size="6.7" fill="#3a3a3a" textLength="57.3" lengthAdjust="spacingAndGlyphs"  stroke="#3a3a3a" stroke-width="0.14">Pausing Index: 29.6</text>
<polygon points="244.75,388.10 248.75,388.10 243.75,396.40 248.75,404.70 244.75,404.70 239.75,396.40" fill="#111"/>
<polygon points="251.90,388.10 255.90,388.10 250.90,396.40 255.90,404.70 251.90,404.70 246.90,396.40" fill="#111"/>
<polygon points="259.05,388.10 263.05,388.10 258.05,396.40 263.05,404.70 259.05,404.70 254.05,396.40" fill="#111"/>
<polygon points="280.70,454.70 276.70,454.70 281.70,463.00 276.70,471.30 280.70,471.30 285.70,463.00" fill="#111"/>
<polygon points="287.70,454.70 283.70,454.70 288.70,463.00 283.70,471.30 287.70,471.30 292.70,463.00" fill="#111"/>
<polygon points="294.60,454.70 290.60,454.70 295.60,463.00 290.60,471.30 294.60,471.30 299.60,463.00" fill="#111"/>
<text x="266.70" y="390.50" font-size="6.5" fill="#444" textLength="28.6" lengthAdjust="spacingAndGlyphs"  stroke="#444" stroke-width="0.14">Enhanced</text>
<text x="266.70" y="398.20" font-size="6.5" fill="#444"  stroke="#444" stroke-width="0.14">RNPII</text>
<text x="266.70" y="406.20" font-size="6.5" fill="#444" textLength="35.3" lengthAdjust="spacingAndGlyphs"  stroke="#444" stroke-width="0.14">Recruitment</text>
<text x="243.80" y="461.40" font-size="6.5" fill="#444" textLength="27.9" lengthAdjust="spacingAndGlyphs"  stroke="#444" stroke-width="0.14">Enhanced</text>
<text x="243.80" y="469.00" font-size="6.5" fill="#444" textLength="22.2" lengthAdjust="spacingAndGlyphs"  stroke="#444" stroke-width="0.14">Pausing</text>
<rect x="0.5" y="0.5" width="519" height="518" fill="none" stroke="#5a5a5a" stroke-width="1"/>
</svg>
</body></html>
